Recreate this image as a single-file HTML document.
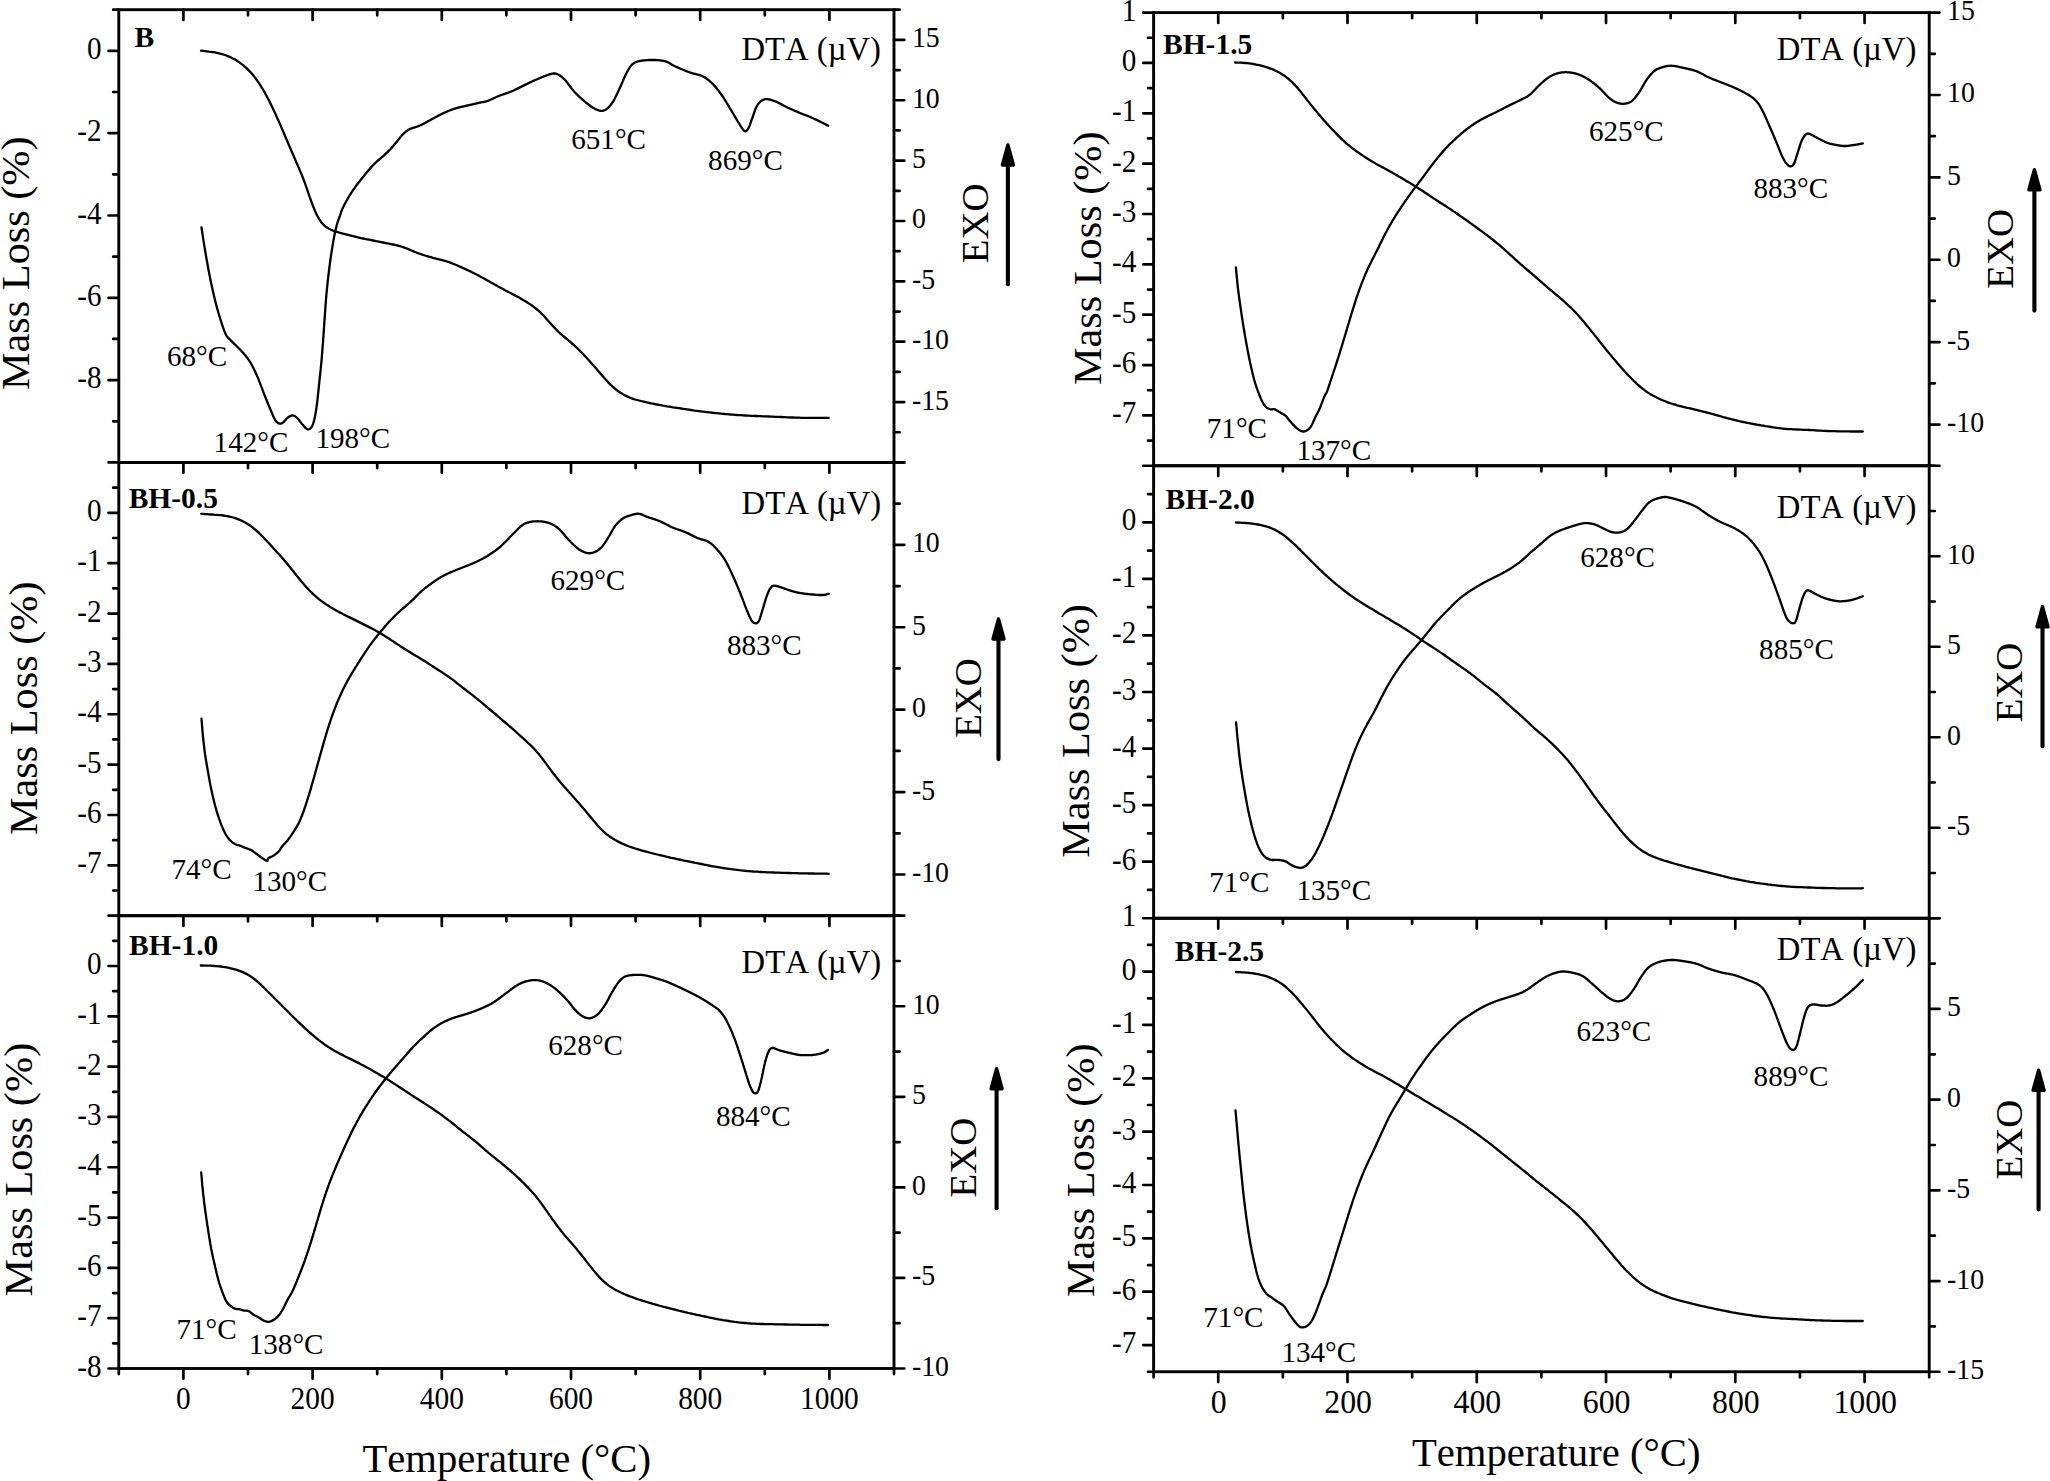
<!DOCTYPE html>
<html lang="en"><head><meta charset="utf-8"><title>TG-DTA curves</title>
<style>html,body{margin:0;padding:0;background:#fff}svg{display:block}text{font-family:"Liberation Serif", "Times New Roman", serif;fill:#000;font-kerning:none}.tk{font-size:31.3px}.an{font-size:30.5px}.bd{font-size:30px;font-weight:bold}.dt{font-size:32.7px}.ax{font-size:40.7px}.ex{font-size:38.8px}.f{stroke:#000;stroke-width:2.9;fill:none;stroke-linecap:butt}.t{stroke:#000;stroke-width:2.6999999999999997;fill:none;stroke-linecap:round}.c{stroke:#000;stroke-width:2.3;fill:none;stroke-linejoin:round;stroke-linecap:round}.ar{stroke:#000;stroke-width:3.6;fill:none}</style></head><body>
<svg width="2050" height="1481" viewBox="0 0 2050 1481">
<rect x="0" y="0" width="2050" height="1481" fill="#fff"/>
<g id="p1">
<rect class="f" x="118.80" y="9.70" width="775.20" height="452.75"/>
<path class="t" d="M183.40,9.70 v10.30 M248.00,9.70 v5.60 M312.60,9.70 v10.30 M377.20,9.70 v5.60 M441.80,9.70 v10.30 M506.40,9.70 v5.60 M571.00,9.70 v10.30 M635.60,9.70 v5.60 M700.20,9.70 v10.30 M764.80,9.70 v5.60 M829.40,9.70 v10.30 M118.80,462.45 h-10.30 M118.80,421.29 h-5.60 M118.80,380.13 h-10.30 M118.80,338.97 h-5.60 M118.80,297.81 h-10.30 M118.80,256.65 h-5.60 M118.80,215.50 h-10.30 M118.80,174.34 h-5.60 M118.80,133.18 h-10.30 M118.80,92.02 h-5.60 M118.80,50.86 h-10.30 M118.80,9.70 h-5.60 M894.00,462.45 h10.30 M894.00,432.27 h5.60 M894.00,402.08 h10.30 M894.00,371.90 h5.60 M894.00,341.72 h10.30 M894.00,311.53 h5.60 M894.00,281.35 h10.30 M894.00,251.17 h5.60 M894.00,220.98 h10.30 M894.00,190.80 h5.60 M894.00,160.62 h10.30 M894.00,130.43 h5.60 M894.00,100.25 h10.30 M894.00,70.07 h5.60 M894.00,39.88 h10.30 M894.00,9.70 h5.60"/>
<text class="tk" text-anchor="end" style="font-size:31px" transform="translate(101.6,58.9) scale(0.940,1)">0</text>
<text class="tk" text-anchor="end" style="font-size:31px" transform="translate(101.6,141.2) scale(0.940,1)">-2</text>
<text class="tk" text-anchor="end" style="font-size:31px" transform="translate(101.6,223.5) scale(0.940,1)">-4</text>
<text class="tk" text-anchor="end" style="font-size:31px" transform="translate(101.6,305.8) scale(0.940,1)">-6</text>
<text class="tk" text-anchor="end" style="font-size:31px" transform="translate(101.6,388.1) scale(0.940,1)">-8</text>
<text class="tk" style="font-size:29.6px" transform="translate(911.9,47.3) scale(0.940,1)">15</text>
<text class="tk" style="font-size:29.6px" transform="translate(911.9,107.7) scale(0.940,1)">10</text>
<text class="tk" style="font-size:29.6px" transform="translate(911.9,168.0) scale(0.940,1)">5</text>
<text class="tk" style="font-size:29.6px" transform="translate(911.9,228.4) scale(0.940,1)">0</text>
<text class="tk" style="font-size:29.6px" transform="translate(911.9,288.7) scale(0.940,1)">-5</text>
<text class="tk" style="font-size:29.6px" transform="translate(911.9,349.1) scale(0.940,1)">-10</text>
<text class="tk" style="font-size:29.6px" transform="translate(911.9,409.5) scale(0.940,1)">-15</text>
<path class="c" d="M201.0,50.7 L203.0,50.9 L205.0,51.1 L207.0,51.3 L209.0,51.6 L211.0,51.8 L213.0,52.1 L215.0,52.4 L217.0,52.8 L219.0,53.3 L221.0,53.8 L223.0,54.4 L225.0,55.0 L227.0,55.8 L229.0,56.6 L231.0,57.5 L233.0,58.5 L235.0,59.6 L237.0,60.8 L239.0,62.1 L241.0,63.6 L243.0,65.1 L245.0,66.8 L247.0,68.6 L249.0,70.6 L251.0,72.7 L253.0,75.1 L255.0,77.6 L257.0,80.3 L259.0,83.2 L261.0,86.3 L263.0,89.5 L265.0,93.0 L267.0,96.7 L269.0,100.6 L271.0,104.6 L273.0,108.7 L275.0,113.0 L277.0,117.4 L279.0,121.9 L281.0,126.4 L283.0,131.1 L285.0,135.8 L287.0,140.5 L289.0,145.2 L291.0,149.9 L293.0,154.5 L295.0,159.1 L297.0,163.7 L299.0,168.4 L301.0,173.1 L303.0,178.0 L305.0,183.4 L307.0,189.1 L309.0,195.0 L311.0,200.7 L313.0,206.0 L315.0,210.9 L317.0,215.2 L319.0,218.9 L321.0,221.9 L323.0,224.2 L325.0,226.1 L327.0,227.6 L329.0,228.8 L331.0,229.8 L333.0,230.6 L335.0,231.3 L337.0,231.9 L339.0,232.5 L341.0,233.1 L343.0,233.7 L345.0,234.2 L347.0,234.7 L349.0,235.2 L351.0,235.7 L353.0,236.2 L355.0,236.7 L357.0,237.2 L359.0,237.6 L361.0,238.1 L363.0,238.5 L365.0,238.9 L367.0,239.3 L369.0,239.7 L371.0,240.1 L373.0,240.5 L375.0,240.9 L377.0,241.3 L379.0,241.7 L381.0,242.1 L383.0,242.5 L385.0,242.9 L387.0,243.3 L389.0,243.7 L391.0,244.1 L393.0,244.5 L395.0,244.9 L397.0,245.4 L399.0,245.9 L401.0,246.5 L403.0,247.1 L405.0,247.8 L407.0,248.6 L409.0,249.4 L411.0,250.2 L413.0,251.1 L415.0,252.0 L417.0,252.8 L419.0,253.5 L421.0,254.2 L423.0,254.8 L425.0,255.5 L427.0,256.1 L429.0,256.7 L431.0,257.2 L433.0,257.8 L435.0,258.3 L437.0,258.8 L439.0,259.3 L441.0,259.8 L443.0,260.3 L445.0,260.9 L447.0,261.5 L449.0,262.2 L451.0,262.9 L453.0,263.7 L455.0,264.5 L457.0,265.3 L459.0,266.2 L461.0,267.1 L463.0,268.0 L465.0,268.9 L467.0,269.9 L469.0,270.8 L471.0,271.8 L473.0,272.8 L475.0,273.8 L477.0,274.8 L479.0,275.8 L481.0,276.9 L483.0,278.0 L485.0,279.1 L487.0,280.2 L489.0,281.3 L491.0,282.5 L493.0,283.6 L495.0,284.7 L497.0,285.8 L499.0,286.9 L501.0,288.0 L503.0,289.1 L505.0,290.2 L507.0,291.2 L509.0,292.3 L511.0,293.3 L513.0,294.4 L515.0,295.4 L517.0,296.5 L519.0,297.6 L521.0,298.7 L523.0,299.9 L525.0,301.0 L527.0,302.3 L529.0,303.6 L531.0,304.9 L533.0,306.3 L535.0,307.8 L537.0,309.5 L539.0,311.2 L541.0,313.1 L543.0,315.1 L545.0,317.3 L547.0,319.5 L549.0,321.7 L551.0,324.0 L553.0,326.2 L555.0,328.3 L557.0,330.4 L559.0,332.3 L561.0,334.1 L563.0,335.9 L565.0,337.5 L567.0,339.2 L569.0,340.9 L571.0,342.5 L573.0,344.3 L575.0,346.1 L577.0,348.0 L579.0,349.9 L581.0,351.9 L583.0,354.0 L585.0,356.1 L587.0,358.3 L589.0,360.5 L591.0,362.7 L593.0,364.9 L595.0,367.2 L597.0,369.5 L599.0,371.9 L601.0,374.2 L603.0,376.5 L605.0,378.8 L607.0,381.0 L609.0,383.1 L611.0,385.1 L613.0,387.0 L615.0,388.7 L617.0,390.3 L619.0,391.8 L621.0,393.1 L623.0,394.3 L625.0,395.4 L627.0,396.4 L629.0,397.3 L631.0,398.2 L633.0,398.9 L635.0,399.5 L637.0,400.0 L639.0,400.5 L641.0,401.0 L643.0,401.5 L645.0,401.9 L647.0,402.4 L649.0,402.8 L651.0,403.3 L653.0,403.7 L655.0,404.1 L657.0,404.5 L659.0,404.9 L661.0,405.2 L663.0,405.6 L665.0,405.9 L667.0,406.3 L669.0,406.6 L671.0,406.9 L673.0,407.3 L675.0,407.6 L677.0,407.9 L679.0,408.2 L681.0,408.5 L683.0,408.8 L685.0,409.1 L687.0,409.4 L689.0,409.7 L691.0,410.0 L693.0,410.3 L695.0,410.6 L697.0,410.8 L699.0,411.1 L701.0,411.4 L703.0,411.6 L705.0,411.9 L707.0,412.1 L709.0,412.3 L711.0,412.5 L713.0,412.8 L715.0,413.0 L717.0,413.2 L719.0,413.4 L721.0,413.6 L723.0,413.8 L725.0,414.0 L727.0,414.1 L729.0,414.3 L731.0,414.5 L733.0,414.6 L735.0,414.8 L737.0,415.0 L739.0,415.1 L741.0,415.2 L743.0,415.4 L745.0,415.5 L747.0,415.6 L749.0,415.7 L751.0,415.8 L753.0,415.9 L755.0,416.0 L757.0,416.0 L759.0,416.1 L761.0,416.2 L763.0,416.3 L765.0,416.4 L767.0,416.4 L769.0,416.5 L771.0,416.6 L773.0,416.7 L775.0,416.8 L777.0,416.8 L779.0,416.9 L781.0,417.0 L783.0,417.1 L785.0,417.2 L787.0,417.3 L789.0,417.4 L791.0,417.5 L793.0,417.5 L795.0,417.6 L797.0,417.7 L799.0,417.7 L801.0,417.8 L803.0,417.8 L805.0,417.8 L807.0,417.8 L809.0,417.8 L811.0,417.8 L813.0,417.8 L815.0,417.8 L817.0,417.8 L819.0,417.8 L821.0,417.8 L823.0,417.8 L825.0,417.8 L827.0,417.8 L828.8,417.8 L828.8,417.8"/>
<path class="c" d="M201.5,227.5 L202.0,230.8 L202.5,234.1 L203.0,237.4 L203.5,240.7 L204.0,243.9 L204.5,247.0 L205.0,250.0 L205.5,252.9 L206.0,255.8 L206.5,258.7 L207.0,261.5 L207.5,264.3 L208.0,267.0 L208.5,269.7 L209.0,272.4 L209.5,275.0 L210.0,277.5 L210.5,280.0 L211.0,282.4 L211.5,284.8 L212.0,287.1 L212.5,289.3 L213.0,291.6 L213.5,293.7 L214.0,295.9 L214.5,298.0 L215.0,300.0 L215.5,302.0 L216.0,304.0 L216.5,305.9 L217.0,307.7 L217.5,309.5 L218.0,311.3 L218.5,313.0 L219.0,314.7 L219.5,316.4 L220.0,318.0 L220.5,319.6 L221.0,321.2 L221.5,322.8 L222.0,324.3 L222.5,325.8 L223.0,327.3 L223.5,328.7 L224.0,330.1 L224.5,331.4 L225.0,332.6 L225.5,333.8 L226.0,334.8 L226.5,335.8 L227.0,336.5 L227.5,337.1 L228.0,337.6 L228.5,338.1 L229.0,338.6 L229.5,339.1 L230.0,339.6 L230.5,340.1 L231.0,340.6 L231.5,341.1 L232.0,341.6 L232.5,342.1 L233.0,342.6 L233.5,343.1 L234.0,343.6 L234.5,344.1 L235.0,344.6 L235.5,345.0 L236.0,345.5 L236.5,346.0 L237.0,346.5 L237.5,347.0 L238.0,347.5 L238.5,348.0 L239.0,348.5 L239.5,349.0 L240.0,349.5 L240.5,350.0 L241.0,350.5 L241.5,351.1 L242.0,351.6 L242.5,352.2 L243.0,352.7 L243.5,353.3 L244.0,353.9 L244.5,354.5 L245.0,355.0 L245.5,355.6 L246.0,356.3 L246.5,356.9 L247.0,357.5 L247.5,358.2 L248.0,358.9 L248.5,359.6 L249.0,360.3 L249.5,361.1 L250.0,361.9 L250.5,362.7 L251.0,363.5 L251.5,364.4 L252.0,365.3 L252.5,366.2 L253.0,367.2 L253.5,368.1 L254.0,369.2 L254.5,370.2 L255.0,371.3 L255.5,372.4 L256.0,373.5 L256.5,374.6 L257.0,375.7 L257.5,376.9 L258.0,378.1 L258.5,379.3 L259.0,380.6 L259.5,381.9 L260.0,383.1 L260.5,384.4 L261.0,385.8 L261.5,387.1 L262.0,388.4 L262.5,389.7 L263.0,391.1 L263.5,392.4 L264.0,393.7 L264.5,395.0 L265.0,396.3 L265.5,397.5 L266.0,398.8 L266.5,400.0 L267.0,401.3 L267.5,402.5 L268.0,403.7 L268.5,404.9 L269.0,406.1 L269.5,407.3 L270.0,408.5 L270.5,409.7 L271.0,410.8 L271.5,412.0 L272.0,413.2 L272.5,414.4 L273.0,415.5 L273.5,416.7 L274.0,417.8 L274.5,418.7 L275.0,419.6 L275.5,420.4 L276.0,421.1 L276.5,421.6 L277.0,422.1 L277.5,422.6 L278.0,422.9 L278.5,423.2 L279.0,423.5 L279.5,423.6 L280.0,423.7 L280.5,423.7 L281.0,423.6 L281.5,423.4 L282.0,423.2 L282.5,422.8 L283.0,422.5 L283.5,422.1 L284.0,421.6 L284.5,421.1 L285.0,420.5 L285.5,419.9 L286.0,419.4 L286.5,418.8 L287.0,418.3 L287.5,417.9 L288.0,417.5 L288.5,417.1 L289.0,416.8 L289.5,416.4 L290.0,416.1 L290.5,415.9 L291.0,415.7 L291.5,415.5 L292.0,415.4 L292.5,415.4 L293.0,415.5 L293.5,415.6 L294.0,415.8 L294.5,416.0 L295.0,416.3 L295.5,416.6 L296.0,417.0 L296.5,417.4 L297.0,417.8 L297.5,418.3 L298.0,418.8 L298.5,419.4 L299.0,420.1 L299.5,420.7 L300.0,421.4 L300.5,422.1 L301.0,422.7 L301.5,423.4 L302.0,424.0 L302.5,424.5 L303.0,425.1 L303.5,425.7 L304.0,426.3 L304.5,426.9 L305.0,427.4 L305.5,427.9 L306.0,428.4 L306.5,428.8 L307.0,429.1 L307.5,429.3 L308.0,429.4 L308.5,429.4 L309.0,429.2 L309.5,429.0 L310.0,428.7 L310.5,428.3 L311.0,427.8 L311.5,427.2 L312.0,426.4 L312.5,425.4 L313.0,424.1 L313.5,422.7 L314.0,420.9 L314.5,418.8 L315.0,416.5 L315.5,413.7 L316.0,410.7 L316.5,407.3 L317.0,403.5 L317.5,399.3 L318.0,394.7 L318.5,389.9 L319.0,385.1 L319.5,380.4 L320.0,375.7 L320.5,371.0 L321.0,366.1 L321.5,360.9 L322.0,355.1 L322.5,348.7 L323.0,341.8 L323.5,334.8 L324.0,327.6 L324.5,320.3 L325.0,313.2 L325.5,306.0 L326.0,299.4 L326.5,293.6 L327.0,288.4 L327.5,283.6 L328.0,279.0 L328.5,274.7 L329.0,270.6 L329.5,266.6 L330.0,262.8 L330.5,259.1 L331.0,255.7 L331.5,252.4 L332.0,249.2 L332.5,246.1 L333.0,243.1 L333.5,240.3 L334.0,237.5 L334.5,235.0 L335.0,232.6 L335.5,230.3 L336.0,228.2 L336.5,226.1 L337.0,224.3 L337.5,222.6 L338.0,221.0 L338.5,219.6 L339.0,218.3 L339.5,216.9 L340.0,215.6 L340.5,214.1 L341.0,212.3 L341.5,211.0 L342.0,209.8 L342.5,208.6 L343.0,207.5 L343.5,206.5 L344.0,205.4 L344.5,204.5 L345.0,203.5 L345.5,202.6 L346.0,201.7 L346.5,200.8 L347.0,200.0 L347.5,199.1 L348.0,198.2 L348.5,197.4 L349.0,196.5 L349.5,195.7 L350.0,194.9 L350.5,194.1 L351.0,193.3 L351.5,192.5 L352.0,191.7 L352.5,191.0 L353.0,190.2 L353.5,189.5 L354.0,188.8 L354.5,188.1 L355.0,187.4 L355.5,186.7 L356.0,186.0 L356.5,185.3 L357.0,184.7 L357.5,184.0 L358.0,183.4 L358.5,182.7 L359.0,182.1 L359.5,181.5 L360.0,180.8 L360.5,180.2 L361.0,179.6 L361.5,179.0 L362.0,178.3 L362.5,177.7 L363.0,177.1 L363.5,176.5 L364.0,175.8 L364.5,175.2 L365.0,174.6 L365.5,174.0 L366.0,173.4 L366.5,172.8 L367.0,172.1 L367.5,171.5 L368.0,170.9 L368.5,170.3 L369.0,169.7 L369.5,169.2 L370.0,168.6 L370.5,168.0 L371.0,167.4 L371.5,166.9 L372.0,166.3 L372.5,165.8 L373.0,165.3 L373.5,164.7 L374.0,164.2 L374.5,163.7 L375.0,163.2 L375.5,162.8 L376.0,162.3 L376.5,161.8 L377.0,161.4 L377.5,160.9 L378.0,160.5 L378.5,160.1 L379.0,159.6 L379.5,159.2 L380.0,158.8 L380.5,158.4 L381.0,158.0 L381.5,157.5 L382.0,157.1 L382.5,156.7 L383.0,156.2 L383.5,155.8 L384.0,155.4 L384.5,154.9 L385.0,154.4 L385.5,154.0 L386.0,153.5 L386.5,153.0 L387.0,152.5 L387.5,152.1 L388.0,151.6 L388.5,151.1 L389.0,150.5 L389.5,150.0 L390.0,149.5 L390.5,149.0 L391.0,148.4 L391.5,147.9 L392.0,147.4 L392.5,146.8 L393.0,146.2 L393.5,145.7 L394.0,145.1 L394.5,144.5 L395.0,143.9 L395.5,143.3 L396.0,142.7 L396.5,142.1 L397.0,141.5 L397.5,140.8 L398.0,140.2 L398.5,139.6 L399.0,139.0 L399.5,138.3 L400.0,137.7 L400.5,137.1 L401.0,136.5 L401.5,135.9 L402.0,135.4 L402.5,134.8 L403.0,134.3 L403.5,133.8 L404.0,133.3 L404.5,132.8 L405.0,132.3 L405.5,131.9 L406.0,131.5 L406.5,131.1 L407.0,130.8 L407.5,130.4 L408.0,130.1 L408.5,129.8 L409.0,129.5 L409.5,129.3 L410.0,129.0 L410.5,128.8 L411.0,128.6 L411.5,128.4 L412.0,128.2 L412.5,128.1 L413.0,127.9 L413.5,127.7 L414.0,127.6 L414.5,127.5 L415.0,127.3 L415.5,127.2 L416.0,127.0 L416.5,126.8 L417.0,126.7 L417.5,126.5 L418.0,126.3 L418.5,126.1 L419.0,125.9 L419.5,125.7 L420.0,125.5 L420.5,125.3 L421.0,125.0 L421.5,124.8 L422.0,124.6 L422.5,124.3 L423.0,124.0 L423.5,123.8 L424.0,123.5 L424.5,123.2 L425.0,123.0 L425.5,122.7 L426.0,122.4 L426.5,122.1 L427.0,121.9 L427.5,121.6 L428.0,121.3 L428.5,121.0 L429.0,120.8 L429.5,120.5 L430.0,120.2 L430.5,119.9 L431.0,119.7 L431.5,119.4 L432.0,119.1 L432.5,118.8 L433.0,118.6 L433.5,118.3 L434.0,118.0 L434.5,117.8 L435.0,117.5 L435.5,117.2 L436.0,116.9 L436.5,116.7 L437.0,116.4 L437.5,116.1 L438.0,115.9 L438.5,115.6 L439.0,115.4 L439.5,115.1 L440.0,114.8 L440.5,114.6 L441.0,114.3 L441.5,114.1 L442.0,113.8 L442.5,113.6 L443.0,113.4 L443.5,113.1 L444.0,112.9 L444.5,112.7 L445.0,112.4 L445.5,112.2 L446.0,112.0 L446.5,111.8 L447.0,111.6 L447.5,111.3 L448.0,111.1 L448.5,110.9 L449.0,110.7 L449.5,110.5 L450.0,110.3 L450.5,110.1 L451.0,109.9 L451.5,109.7 L452.0,109.6 L452.5,109.4 L453.0,109.2 L453.5,109.0 L454.0,108.9 L454.5,108.7 L455.0,108.5 L455.5,108.4 L456.0,108.2 L456.5,108.1 L457.0,107.9 L457.5,107.8 L458.0,107.7 L458.5,107.5 L459.0,107.4 L459.5,107.3 L460.0,107.1 L460.5,107.0 L461.0,106.9 L461.5,106.8 L462.0,106.7 L462.5,106.6 L463.0,106.5 L463.5,106.4 L464.0,106.3 L464.5,106.1 L465.0,106.0 L465.5,105.9 L466.0,105.8 L466.5,105.7 L467.0,105.6 L467.5,105.5 L468.0,105.4 L468.5,105.3 L469.0,105.2 L469.5,105.1 L470.0,104.9 L470.5,104.8 L471.0,104.7 L471.5,104.6 L472.0,104.5 L472.5,104.4 L473.0,104.2 L473.5,104.1 L474.0,104.0 L474.5,103.9 L475.0,103.8 L475.5,103.7 L476.0,103.5 L476.5,103.4 L477.0,103.3 L477.5,103.2 L478.0,103.1 L478.5,103.0 L479.0,102.8 L479.5,102.7 L480.0,102.6 L480.5,102.5 L481.0,102.4 L481.5,102.3 L482.0,102.2 L482.5,102.1 L483.0,102.1 L483.5,102.0 L484.0,101.9 L484.5,101.8 L485.0,101.7 L485.5,101.6 L486.0,101.5 L486.5,101.3 L487.0,101.2 L487.5,101.0 L488.0,100.8 L488.5,100.6 L489.0,100.4 L489.5,100.2 L490.0,100.0 L490.5,99.8 L491.0,99.6 L491.5,99.3 L492.0,99.1 L492.5,98.9 L493.0,98.6 L493.5,98.4 L494.0,98.2 L494.5,97.9 L495.0,97.7 L495.5,97.5 L496.0,97.2 L496.5,97.0 L497.0,96.8 L497.5,96.6 L498.0,96.3 L498.5,96.1 L499.0,95.9 L499.5,95.7 L500.0,95.5 L500.5,95.3 L501.0,95.1 L501.5,94.9 L502.0,94.8 L502.5,94.6 L503.0,94.4 L503.5,94.2 L504.0,94.1 L504.5,93.9 L505.0,93.8 L505.5,93.6 L506.0,93.4 L506.5,93.3 L507.0,93.1 L507.5,92.9 L508.0,92.8 L508.5,92.6 L509.0,92.4 L509.5,92.2 L510.0,92.0 L510.5,91.8 L511.0,91.6 L511.5,91.4 L512.0,91.2 L512.5,91.0 L513.0,90.8 L513.5,90.5 L514.0,90.3 L514.5,90.1 L515.0,89.8 L515.5,89.6 L516.0,89.4 L516.5,89.1 L517.0,88.9 L517.5,88.6 L518.0,88.4 L518.5,88.1 L519.0,87.9 L519.5,87.6 L520.0,87.4 L520.5,87.1 L521.0,86.9 L521.5,86.6 L522.0,86.4 L522.5,86.1 L523.0,85.9 L523.5,85.6 L524.0,85.4 L524.5,85.1 L525.0,84.9 L525.5,84.6 L526.0,84.4 L526.5,84.1 L527.0,83.9 L527.5,83.6 L528.0,83.4 L528.5,83.1 L529.0,82.9 L529.5,82.6 L530.0,82.4 L530.5,82.2 L531.0,81.9 L531.5,81.7 L532.0,81.5 L532.5,81.2 L533.0,81.0 L533.5,80.8 L534.0,80.6 L534.5,80.4 L535.0,80.1 L535.5,79.9 L536.0,79.7 L536.5,79.5 L537.0,79.3 L537.5,79.1 L538.0,78.8 L538.5,78.6 L539.0,78.4 L539.5,78.2 L540.0,78.0 L540.5,77.8 L541.0,77.6 L541.5,77.4 L542.0,77.2 L542.5,77.0 L543.0,76.8 L543.5,76.5 L544.0,76.4 L544.5,76.2 L545.0,76.0 L545.5,75.8 L546.0,75.6 L546.5,75.4 L547.0,75.2 L547.5,75.0 L548.0,74.9 L548.5,74.7 L549.0,74.5 L549.5,74.4 L550.0,74.2 L550.5,74.1 L551.0,74.0 L551.5,73.9 L552.0,73.7 L552.5,73.6 L553.0,73.6 L553.5,73.5 L554.0,73.5 L554.5,73.5 L555.0,73.5 L555.5,73.6 L556.0,73.7 L556.5,73.9 L557.0,74.1 L557.5,74.2 L558.0,74.5 L558.5,74.7 L559.0,75.0 L559.5,75.2 L560.0,75.6 L560.5,75.9 L561.0,76.3 L561.5,76.7 L562.0,77.1 L562.5,77.5 L563.0,78.0 L563.5,78.5 L564.0,79.0 L564.5,79.5 L565.0,80.0 L565.5,80.5 L566.0,81.1 L566.5,81.7 L567.0,82.3 L567.5,83.0 L568.0,83.6 L568.5,84.3 L569.0,85.0 L569.5,85.7 L570.0,86.3 L570.5,87.0 L571.0,87.7 L571.5,88.3 L572.0,89.0 L572.5,89.6 L573.0,90.2 L573.5,90.8 L574.0,91.4 L574.5,92.0 L575.0,92.5 L575.5,93.0 L576.0,93.5 L576.5,94.0 L577.0,94.5 L577.5,95.0 L578.0,95.5 L578.5,96.0 L579.0,96.5 L579.5,96.9 L580.0,97.4 L580.5,97.8 L581.0,98.3 L581.5,98.7 L582.0,99.2 L582.5,99.6 L583.0,100.0 L583.5,100.5 L584.0,100.9 L584.5,101.3 L585.0,101.7 L585.5,102.2 L586.0,102.6 L586.5,103.0 L587.0,103.4 L587.5,103.8 L588.0,104.1 L588.5,104.5 L589.0,104.9 L589.5,105.3 L590.0,105.6 L590.5,106.0 L591.0,106.4 L591.5,106.7 L592.0,107.0 L592.5,107.4 L593.0,107.7 L593.5,108.0 L594.0,108.3 L594.5,108.6 L595.0,108.9 L595.5,109.1 L596.0,109.4 L596.5,109.6 L597.0,109.8 L597.5,110.0 L598.0,110.2 L598.5,110.3 L599.0,110.5 L599.5,110.6 L600.0,110.7 L600.5,110.8 L601.0,110.8 L601.5,110.9 L602.0,110.8 L602.5,110.8 L603.0,110.7 L603.5,110.6 L604.0,110.4 L604.5,110.2 L605.0,110.0 L605.5,109.7 L606.0,109.4 L606.5,109.1 L607.0,108.7 L607.5,108.3 L608.0,107.9 L608.5,107.4 L609.0,106.9 L609.5,106.4 L610.0,105.8 L610.5,105.2 L611.0,104.6 L611.5,103.9 L612.0,103.2 L612.5,102.5 L613.0,101.7 L613.5,100.9 L614.0,100.0 L614.5,99.1 L615.0,98.1 L615.5,97.1 L616.0,96.1 L616.5,95.0 L617.0,93.9 L617.5,92.9 L618.0,91.8 L618.5,90.7 L619.0,89.6 L619.5,88.6 L620.0,87.5 L620.5,86.4 L621.0,85.3 L621.5,84.2 L622.0,83.1 L622.5,81.9 L623.0,80.7 L623.5,79.6 L624.0,78.4 L624.5,77.3 L625.0,76.2 L625.5,75.1 L626.0,74.0 L626.5,73.1 L627.0,72.1 L627.5,71.2 L628.0,70.4 L628.5,69.6 L629.0,68.7 L629.5,67.9 L630.0,67.1 L630.5,66.4 L631.0,65.7 L631.5,65.2 L632.0,64.6 L632.5,64.2 L633.0,63.8 L633.5,63.4 L634.0,63.1 L634.5,62.8 L635.0,62.5 L635.5,62.3 L636.0,62.1 L636.5,61.9 L637.0,61.7 L637.5,61.6 L638.0,61.4 L638.5,61.3 L639.0,61.2 L639.5,61.1 L640.0,61.0 L640.5,60.9 L641.0,60.8 L641.5,60.7 L642.0,60.6 L642.5,60.6 L643.0,60.5 L643.5,60.4 L644.0,60.4 L644.5,60.3 L645.0,60.3 L645.5,60.3 L646.0,60.2 L646.5,60.2 L647.0,60.2 L647.5,60.1 L648.0,60.1 L648.5,60.1 L649.0,60.0 L649.5,60.0 L650.0,60.0 L650.5,60.0 L651.0,60.0 L651.5,60.0 L652.0,60.0 L652.5,59.9 L653.0,60.0 L653.5,60.0 L654.0,60.0 L654.5,60.0 L655.0,60.0 L655.5,60.0 L656.0,60.0 L656.5,60.1 L657.0,60.1 L657.5,60.1 L658.0,60.2 L658.5,60.2 L659.0,60.3 L659.5,60.3 L660.0,60.4 L660.5,60.4 L661.0,60.5 L661.5,60.6 L662.0,60.7 L662.5,60.7 L663.0,60.8 L663.5,60.9 L664.0,61.0 L664.5,61.1 L665.0,61.2 L665.5,61.4 L666.0,61.5 L666.5,61.7 L667.0,61.9 L667.5,62.1 L668.0,62.3 L668.5,62.6 L669.0,62.9 L669.5,63.1 L670.0,63.4 L670.5,63.7 L671.0,64.1 L671.5,64.4 L672.0,64.7 L672.5,65.0 L673.0,65.2 L673.5,65.5 L674.0,65.8 L674.5,66.0 L675.0,66.2 L675.5,66.5 L676.0,66.7 L676.5,66.9 L677.0,67.1 L677.5,67.4 L678.0,67.6 L678.5,67.8 L679.0,68.0 L679.5,68.2 L680.0,68.5 L680.5,68.7 L681.0,68.9 L681.5,69.1 L682.0,69.3 L682.5,69.5 L683.0,69.7 L683.5,69.9 L684.0,70.1 L684.5,70.3 L685.0,70.6 L685.5,70.8 L686.0,71.0 L686.5,71.2 L687.0,71.4 L687.5,71.6 L688.0,71.7 L688.5,71.9 L689.0,72.1 L689.5,72.3 L690.0,72.5 L690.5,72.7 L691.0,72.8 L691.5,73.0 L692.0,73.1 L692.5,73.3 L693.0,73.4 L693.5,73.6 L694.0,73.7 L694.5,73.8 L695.0,73.9 L695.5,74.0 L696.0,74.2 L696.5,74.3 L697.0,74.4 L697.5,74.5 L698.0,74.7 L698.5,74.8 L699.0,74.9 L699.5,75.1 L700.0,75.2 L700.5,75.4 L701.0,75.6 L701.5,75.8 L702.0,76.0 L702.5,76.2 L703.0,76.5 L703.5,76.8 L704.0,77.1 L704.5,77.3 L705.0,77.6 L705.5,78.0 L706.0,78.3 L706.5,78.6 L707.0,79.0 L707.5,79.3 L708.0,79.7 L708.5,80.1 L709.0,80.5 L709.5,81.0 L710.0,81.4 L710.5,81.8 L711.0,82.3 L711.5,82.8 L712.0,83.3 L712.5,83.8 L713.0,84.3 L713.5,84.8 L714.0,85.3 L714.5,85.9 L715.0,86.4 L715.5,87.0 L716.0,87.6 L716.5,88.2 L717.0,88.8 L717.5,89.5 L718.0,90.1 L718.5,90.7 L719.0,91.4 L719.5,92.1 L720.0,92.7 L720.5,93.4 L721.0,94.1 L721.5,94.8 L722.0,95.5 L722.5,96.2 L723.0,97.0 L723.5,97.7 L724.0,98.5 L724.5,99.3 L725.0,100.0 L725.5,100.8 L726.0,101.6 L726.5,102.5 L727.0,103.3 L727.5,104.1 L728.0,105.0 L728.5,105.8 L729.0,106.6 L729.5,107.5 L730.0,108.3 L730.5,109.2 L731.0,110.0 L731.5,110.8 L732.0,111.7 L732.5,112.5 L733.0,113.3 L733.5,114.2 L734.0,115.0 L734.5,115.8 L735.0,116.7 L735.5,117.6 L736.0,118.4 L736.5,119.3 L737.0,120.1 L737.5,121.0 L738.0,121.8 L738.5,122.6 L739.0,123.4 L739.5,124.2 L740.0,125.0 L740.5,125.8 L741.0,126.5 L741.5,127.3 L742.0,128.1 L742.5,128.8 L743.0,129.5 L743.5,130.1 L744.0,130.6 L744.5,131.0 L745.0,131.2 L745.5,131.3 L746.0,131.2 L746.5,130.8 L747.0,130.3 L747.5,129.7 L748.0,128.8 L748.5,128.0 L749.0,127.0 L749.5,125.9 L750.0,124.6 L750.5,123.2 L751.0,121.7 L751.5,120.2 L752.0,118.8 L752.5,117.5 L753.0,116.1 L753.5,114.7 L754.0,113.2 L754.5,111.7 L755.0,110.3 L755.5,109.0 L756.0,107.8 L756.5,106.7 L757.0,105.8 L757.5,105.0 L758.0,104.3 L758.5,103.7 L759.0,103.1 L759.5,102.5 L760.0,102.0 L760.5,101.6 L761.0,101.2 L761.5,100.8 L762.0,100.5 L762.5,100.2 L763.0,99.9 L763.5,99.7 L764.0,99.5 L764.5,99.4 L765.0,99.2 L765.5,99.2 L766.0,99.1 L766.5,99.1 L767.0,99.1 L767.5,99.1 L768.0,99.2 L768.5,99.3 L769.0,99.3 L769.5,99.5 L770.0,99.6 L770.5,99.7 L771.0,99.9 L771.5,100.0 L772.0,100.2 L772.5,100.4 L773.0,100.5 L773.5,100.7 L774.0,100.9 L774.5,101.1 L775.0,101.2 L775.5,101.4 L776.0,101.6 L776.5,101.9 L777.0,102.1 L777.5,102.3 L778.0,102.6 L778.5,102.8 L779.0,103.1 L779.5,103.3 L780.0,103.6 L780.5,103.8 L781.0,104.1 L781.5,104.4 L782.0,104.6 L782.5,104.9 L783.0,105.2 L783.5,105.5 L784.0,105.7 L784.5,106.0 L785.0,106.2 L785.5,106.5 L786.0,106.8 L786.5,107.0 L787.0,107.3 L787.5,107.5 L788.0,107.7 L788.5,108.0 L789.0,108.2 L789.5,108.4 L790.0,108.7 L790.5,108.9 L791.0,109.1 L791.5,109.3 L792.0,109.6 L792.5,109.8 L793.0,110.0 L793.5,110.2 L794.0,110.4 L794.5,110.7 L795.0,110.9 L795.5,111.1 L796.0,111.3 L796.5,111.5 L797.0,111.7 L797.5,111.9 L798.0,112.2 L798.5,112.4 L799.0,112.6 L799.5,112.8 L800.0,113.0 L800.5,113.2 L801.0,113.4 L801.5,113.6 L802.0,113.8 L802.5,114.0 L803.0,114.2 L803.5,114.4 L804.0,114.6 L804.5,114.8 L805.0,115.0 L805.5,115.2 L806.0,115.3 L806.5,115.5 L807.0,115.7 L807.5,115.9 L808.0,116.1 L808.5,116.3 L809.0,116.5 L809.5,116.7 L810.0,116.9 L810.5,117.1 L811.0,117.3 L811.5,117.6 L812.0,117.8 L812.5,118.0 L813.0,118.2 L813.5,118.5 L814.0,118.7 L814.5,118.9 L815.0,119.2 L815.5,119.4 L816.0,119.6 L816.5,119.9 L817.0,120.1 L817.5,120.4 L818.0,120.6 L818.5,120.9 L819.0,121.1 L819.5,121.4 L820.0,121.6 L820.5,121.8 L821.0,122.1 L821.5,122.3 L822.0,122.6 L822.5,122.8 L823.0,123.1 L823.5,123.3 L824.0,123.6 L824.5,123.8 L825.0,124.1 L825.5,124.4 L826.0,124.6 L826.5,124.9 L827.0,125.1 L827.5,125.4 L828.0,125.6 L828.2,125.7"/>
<text class="bd" transform="translate(134.5,47.0) scale(0.983,1)">B</text>
<text class="dt" transform="translate(741.4,59.9)">DTA (µV)</text>
<text class="an" transform="translate(166.9,366.0) scale(0.955,1)">68°C</text>
<text class="an" transform="translate(213.6,452.3) scale(0.955,1)">142°C</text>
<text class="an" transform="translate(315.4,447.6) scale(0.955,1)">198°C</text>
<text class="an" transform="translate(571.2,148.8) scale(0.955,1)">651°C</text>
<text class="an" transform="translate(708.1,170.0) scale(0.955,1)">869°C</text>
<text class="ex" text-anchor="middle" transform="translate(988.3,223.3) scale(0.965,1) rotate(-90)">EXO</text>
<path d="M1007.9,284.3 V163.0" stroke="#000" stroke-width="4.1" stroke-linecap="round" fill="none"/>
<path d="M1007.9,144.9 L1013.4,165.0 L1002.4,165.0 Z" fill="#000" stroke="#000" stroke-width="3.4" stroke-linejoin="round"/>
<text class="ax" text-anchor="middle" style="font-size:42.3px" transform="translate(29.3,263.2) scale(0.965,1) rotate(-90)">Mass Loss (%)</text>
</g>
<g id="p2">
<rect class="f" x="118.80" y="462.45" width="775.20" height="453.25"/>
<path class="t" d="M183.40,462.45 v10.30 M248.00,462.45 v5.60 M312.60,462.45 v10.30 M377.20,462.45 v5.60 M441.80,462.45 v10.30 M506.40,462.45 v5.60 M571.00,462.45 v10.30 M635.60,462.45 v5.60 M700.20,462.45 v10.30 M764.80,462.45 v5.60 M829.40,462.45 v10.30 M118.80,915.70 h-10.30 M118.80,890.52 h-5.60 M118.80,865.34 h-10.30 M118.80,840.16 h-5.60 M118.80,814.98 h-10.30 M118.80,789.80 h-5.60 M118.80,764.62 h-10.30 M118.80,739.44 h-5.60 M118.80,714.26 h-10.30 M118.80,689.08 h-5.60 M118.80,663.89 h-10.30 M118.80,638.71 h-5.60 M118.80,613.53 h-10.30 M118.80,588.35 h-5.60 M118.80,563.17 h-10.30 M118.80,537.99 h-5.60 M118.80,512.81 h-10.30 M118.80,487.63 h-5.60 M894.00,915.70 h5.60 M894.00,874.50 h10.30 M894.00,833.29 h5.60 M894.00,792.09 h10.30 M894.00,750.88 h5.60 M894.00,709.68 h10.30 M894.00,668.47 h5.60 M894.00,627.27 h10.30 M894.00,586.06 h5.60 M894.00,544.86 h10.30 M894.00,503.65 h5.60 M894.00,462.45 h10.30"/>
<text class="tk" text-anchor="end" style="font-size:31px" transform="translate(101.6,520.8) scale(0.940,1)">0</text>
<text class="tk" text-anchor="end" style="font-size:31px" transform="translate(101.6,571.2) scale(0.940,1)">-1</text>
<text class="tk" text-anchor="end" style="font-size:31px" transform="translate(101.6,621.5) scale(0.940,1)">-2</text>
<text class="tk" text-anchor="end" style="font-size:31px" transform="translate(101.6,671.9) scale(0.940,1)">-3</text>
<text class="tk" text-anchor="end" style="font-size:31px" transform="translate(101.6,722.3) scale(0.940,1)">-4</text>
<text class="tk" text-anchor="end" style="font-size:31px" transform="translate(101.6,772.6) scale(0.940,1)">-5</text>
<text class="tk" text-anchor="end" style="font-size:31px" transform="translate(101.6,823.0) scale(0.940,1)">-6</text>
<text class="tk" text-anchor="end" style="font-size:31px" transform="translate(101.6,873.3) scale(0.940,1)">-7</text>
<text class="tk" style="font-size:29.6px" transform="translate(911.9,552.3) scale(0.940,1)">10</text>
<text class="tk" style="font-size:29.6px" transform="translate(911.9,634.7) scale(0.940,1)">5</text>
<text class="tk" style="font-size:29.6px" transform="translate(911.9,717.1) scale(0.940,1)">0</text>
<text class="tk" style="font-size:29.6px" transform="translate(911.9,799.5) scale(0.940,1)">-5</text>
<text class="tk" style="font-size:29.6px" transform="translate(911.9,881.9) scale(0.940,1)">-10</text>
<path class="c" d="M201.2,513.8 L203.2,513.9 L205.2,514.1 L207.2,514.2 L209.2,514.4 L211.2,514.5 L213.2,514.6 L215.2,514.8 L217.2,514.9 L219.2,515.1 L221.2,515.2 L223.2,515.5 L225.2,515.8 L227.2,516.1 L229.2,516.5 L231.2,517.0 L233.2,517.5 L235.2,518.2 L237.2,518.9 L239.2,519.6 L241.2,520.5 L243.2,521.5 L245.2,522.5 L247.2,523.7 L249.2,525.0 L251.2,526.4 L253.2,527.9 L255.2,529.6 L257.2,531.4 L259.2,533.2 L261.2,535.2 L263.2,537.2 L265.2,539.3 L267.2,541.4 L269.2,543.6 L271.2,545.8 L273.2,548.0 L275.2,550.2 L277.2,552.4 L279.2,554.6 L281.2,556.8 L283.2,559.1 L285.2,561.4 L287.2,563.8 L289.2,566.2 L291.2,568.7 L293.2,571.2 L295.2,573.8 L297.2,576.3 L299.2,578.8 L301.2,581.3 L303.2,583.6 L305.2,585.9 L307.2,588.1 L309.2,590.2 L311.2,592.2 L313.2,594.1 L315.2,595.9 L317.2,597.6 L319.2,599.3 L321.2,600.8 L323.2,602.3 L325.2,603.7 L327.2,605.1 L329.2,606.3 L331.2,607.6 L333.2,608.8 L335.2,609.9 L337.2,611.0 L339.2,612.1 L341.2,613.1 L343.2,614.2 L345.2,615.2 L347.2,616.2 L349.2,617.1 L351.2,618.1 L353.2,619.1 L355.2,620.1 L357.2,621.1 L359.2,622.1 L361.2,623.1 L363.2,624.1 L365.2,625.1 L367.2,626.1 L369.2,627.1 L371.2,628.1 L373.2,629.2 L375.2,630.3 L377.2,631.4 L379.2,632.5 L381.2,633.7 L383.2,634.9 L385.2,636.2 L387.2,637.4 L389.2,638.7 L391.2,640.1 L393.2,641.4 L395.2,642.8 L397.2,644.1 L399.2,645.4 L401.2,646.7 L403.2,648.0 L405.2,649.3 L407.2,650.5 L409.2,651.7 L411.2,653.0 L413.2,654.2 L415.2,655.4 L417.2,656.6 L419.2,657.8 L421.2,659.0 L423.2,660.2 L425.2,661.5 L427.2,662.8 L429.2,664.1 L431.2,665.4 L433.2,666.7 L435.2,668.0 L437.2,669.3 L439.2,670.6 L441.2,671.8 L443.2,673.1 L445.2,674.5 L447.2,675.8 L449.2,677.2 L451.2,678.6 L453.2,680.1 L455.2,681.7 L457.2,683.3 L459.2,684.8 L461.2,686.4 L463.2,688.0 L465.2,689.5 L467.2,691.1 L469.2,692.6 L471.2,694.2 L473.2,695.7 L475.2,697.3 L477.2,698.9 L479.2,700.6 L481.2,702.2 L483.2,703.9 L485.2,705.6 L487.2,707.3 L489.2,709.0 L491.2,710.6 L493.2,712.3 L495.2,714.0 L497.2,715.7 L499.2,717.4 L501.2,719.1 L503.2,720.8 L505.2,722.5 L507.2,724.2 L509.2,726.0 L511.2,727.7 L513.2,729.4 L515.2,731.2 L517.2,733.0 L519.2,734.8 L521.2,736.6 L523.2,738.4 L525.2,740.2 L527.2,742.1 L529.2,744.0 L531.2,745.9 L533.2,747.9 L535.2,750.0 L537.2,752.3 L539.2,754.6 L541.2,757.1 L543.2,759.7 L545.2,762.4 L547.2,765.1 L549.2,767.9 L551.2,770.6 L553.2,773.2 L555.2,775.8 L557.2,778.4 L559.2,780.8 L561.2,783.2 L563.2,785.5 L565.2,787.8 L567.2,790.0 L569.2,792.2 L571.2,794.4 L573.2,796.7 L575.2,798.9 L577.2,801.2 L579.2,803.5 L581.2,805.9 L583.2,808.2 L585.2,810.6 L587.2,813.0 L589.2,815.4 L591.2,817.8 L593.2,820.3 L595.2,822.6 L597.2,825.0 L599.2,827.2 L601.2,829.3 L603.2,831.3 L605.2,833.1 L607.2,834.7 L609.2,836.2 L611.2,837.5 L613.2,838.8 L615.2,840.0 L617.2,841.1 L619.2,842.1 L621.2,843.1 L623.2,844.0 L625.2,844.9 L627.2,845.7 L629.2,846.5 L631.2,847.2 L633.2,847.9 L635.2,848.5 L637.2,849.1 L639.2,849.7 L641.2,850.3 L643.2,850.9 L645.2,851.4 L647.2,851.9 L649.2,852.5 L651.2,853.0 L653.2,853.5 L655.2,854.0 L657.2,854.5 L659.2,855.0 L661.2,855.4 L663.2,855.9 L665.2,856.4 L667.2,856.8 L669.2,857.3 L671.2,857.8 L673.2,858.2 L675.2,858.6 L677.2,859.1 L679.2,859.5 L681.2,859.9 L683.2,860.4 L685.2,860.8 L687.2,861.2 L689.2,861.6 L691.2,862.0 L693.2,862.4 L695.2,862.8 L697.2,863.2 L699.2,863.6 L701.2,864.0 L703.2,864.4 L705.2,864.8 L707.2,865.2 L709.2,865.6 L711.2,866.0 L713.2,866.3 L715.2,866.7 L717.2,867.0 L719.2,867.3 L721.2,867.7 L723.2,868.0 L725.2,868.3 L727.2,868.6 L729.2,868.9 L731.2,869.2 L733.2,869.4 L735.2,869.7 L737.2,869.9 L739.2,870.2 L741.2,870.4 L743.2,870.6 L745.2,870.8 L747.2,871.0 L749.2,871.1 L751.2,871.3 L753.2,871.5 L755.2,871.6 L757.2,871.7 L759.2,871.9 L761.2,872.0 L763.2,872.1 L765.2,872.2 L767.2,872.3 L769.2,872.3 L771.2,872.4 L773.2,872.5 L775.2,872.6 L777.2,872.7 L779.2,872.7 L781.2,872.8 L783.2,872.9 L785.2,872.9 L787.2,873.0 L789.2,873.0 L791.2,873.1 L793.2,873.1 L795.2,873.2 L797.2,873.2 L799.2,873.3 L801.2,873.3 L803.2,873.4 L805.2,873.4 L807.2,873.4 L809.2,873.5 L811.2,873.5 L813.2,873.5 L815.2,873.6 L817.2,873.6 L819.2,873.6 L821.2,873.6 L823.2,873.7 L825.2,873.7 L827.2,873.7 L828.8,873.8 L828.8,873.8"/>
<path class="c" d="M201.5,718.7 L202.0,725.2 L202.5,731.4 L203.0,736.7 L203.5,741.5 L204.0,746.0 L204.5,750.2 L205.0,754.0 L205.5,757.2 L206.0,760.2 L206.5,763.2 L207.0,766.1 L207.5,768.9 L208.0,771.7 L208.5,774.6 L209.0,777.5 L209.5,780.3 L210.0,783.0 L210.5,785.6 L211.0,788.0 L211.5,790.4 L212.0,792.7 L212.5,794.9 L213.0,797.1 L213.5,799.2 L214.0,801.3 L214.5,803.3 L215.0,805.2 L215.5,807.1 L216.0,808.8 L216.5,810.6 L217.0,812.2 L217.5,813.8 L218.0,815.4 L218.5,816.9 L219.0,818.4 L219.5,819.8 L220.0,821.2 L220.5,822.6 L221.0,823.9 L221.5,825.2 L222.0,826.4 L222.5,827.6 L223.0,828.8 L223.5,829.9 L224.0,831.0 L224.5,832.0 L225.0,833.0 L225.5,833.9 L226.0,834.7 L226.5,835.6 L227.0,836.3 L227.5,837.1 L228.0,837.8 L228.5,838.4 L229.0,839.1 L229.5,839.6 L230.0,840.2 L230.5,840.7 L231.0,841.1 L231.5,841.6 L232.0,842.0 L232.5,842.4 L233.0,842.7 L233.5,843.0 L234.0,843.4 L234.5,843.7 L235.0,844.0 L235.5,844.2 L236.0,844.5 L236.5,844.8 L237.0,845.0 L237.5,845.2 L238.0,845.2 L238.5,845.2 L239.0,845.3 L239.5,845.5 L240.0,845.7 L240.5,845.9 L241.0,846.1 L241.5,846.3 L242.0,846.5 L242.5,846.7 L243.0,846.9 L243.5,847.2 L244.0,847.4 L244.5,847.6 L245.0,847.8 L245.5,848.0 L246.0,848.1 L246.5,848.3 L247.0,848.5 L247.5,848.6 L248.0,848.8 L248.5,849.0 L249.0,849.2 L249.5,849.4 L250.0,849.6 L250.5,849.8 L251.0,850.0 L251.5,850.3 L252.0,850.6 L252.5,850.9 L253.0,851.3 L253.5,851.7 L254.0,852.0 L254.5,852.4 L255.0,852.8 L255.5,853.2 L256.0,853.6 L256.5,853.9 L257.0,854.3 L257.5,854.7 L258.0,855.0 L258.5,855.4 L259.0,855.8 L259.5,856.1 L260.0,856.5 L260.5,856.9 L261.0,857.2 L261.5,857.6 L262.0,857.9 L262.5,858.2 L263.0,858.6 L263.5,858.9 L264.0,859.3 L264.5,859.6 L265.0,860.0 L265.5,860.3 L266.0,860.6 L266.5,860.8 L267.0,861.0 L267.5,860.9 L268.0,858.7 L268.5,858.1 L269.0,857.8 L269.5,857.6 L270.0,857.4 L270.5,857.1 L271.0,856.9 L271.5,856.7 L272.0,856.5 L272.5,856.2 L273.0,855.9 L273.5,855.6 L274.0,855.2 L274.5,854.9 L275.0,854.5 L275.5,854.2 L276.0,853.8 L276.5,853.4 L277.0,853.0 L277.5,852.6 L278.0,852.1 L278.5,851.6 L279.0,851.0 L279.5,850.4 L280.0,849.7 L280.5,848.9 L281.0,848.1 L281.5,847.3 L282.0,846.6 L282.5,846.0 L283.0,845.4 L283.5,844.8 L284.0,844.3 L284.5,843.7 L285.0,843.2 L285.5,842.7 L286.0,842.1 L286.5,841.6 L287.0,841.0 L287.5,840.4 L288.0,839.8 L288.5,839.1 L289.0,838.4 L289.5,837.8 L290.0,837.1 L290.5,836.3 L291.0,835.6 L291.5,834.9 L292.0,834.1 L292.5,833.4 L293.0,832.6 L293.5,831.8 L294.0,831.1 L294.5,830.3 L295.0,829.5 L295.5,828.7 L296.0,827.9 L296.5,827.1 L297.0,826.2 L297.5,825.3 L298.0,824.4 L298.5,823.4 L299.0,822.4 L299.5,821.4 L300.0,820.3 L300.5,819.1 L301.0,817.9 L301.5,816.7 L302.0,815.5 L302.5,814.2 L303.0,812.8 L303.5,811.5 L304.0,810.1 L304.5,808.6 L305.0,807.1 L305.5,805.6 L306.0,804.1 L306.5,802.5 L307.0,800.9 L307.5,799.4 L308.0,797.8 L308.5,796.2 L309.0,794.6 L309.5,792.9 L310.0,791.3 L310.5,789.6 L311.0,787.9 L311.5,786.2 L312.0,784.4 L312.5,782.7 L313.0,780.9 L313.5,779.1 L314.0,777.4 L314.5,775.6 L315.0,773.8 L315.5,772.0 L316.0,770.2 L316.5,768.4 L317.0,766.6 L317.5,764.8 L318.0,763.0 L318.5,761.2 L319.0,759.4 L319.5,757.6 L320.0,755.8 L320.5,754.0 L321.0,752.2 L321.5,750.4 L322.0,748.7 L322.5,746.9 L323.0,745.1 L323.5,743.4 L324.0,741.6 L324.5,739.9 L325.0,738.2 L325.5,736.5 L326.0,734.8 L326.5,733.2 L327.0,731.5 L327.5,729.9 L328.0,728.3 L328.5,726.7 L329.0,725.1 L329.5,723.6 L330.0,722.1 L330.5,720.6 L331.0,719.1 L331.5,717.7 L332.0,716.2 L332.5,714.8 L333.0,713.4 L333.5,712.1 L334.0,710.7 L334.5,709.4 L335.0,708.1 L335.5,706.8 L336.0,705.5 L336.5,704.3 L337.0,703.0 L337.5,701.8 L338.0,700.6 L338.5,699.5 L339.0,698.3 L339.5,697.2 L340.0,696.0 L340.5,694.9 L341.0,693.8 L341.5,692.7 L342.0,691.7 L342.5,690.6 L343.0,689.6 L343.5,688.5 L344.0,687.5 L344.5,686.5 L345.0,685.6 L345.5,684.6 L346.0,683.7 L346.5,682.7 L347.0,681.8 L347.5,680.9 L348.0,680.0 L348.5,679.1 L349.0,678.2 L349.5,677.3 L350.0,676.5 L350.5,675.6 L351.0,674.8 L351.5,673.9 L352.0,673.1 L352.5,672.3 L353.0,671.5 L353.5,670.7 L354.0,669.9 L354.5,669.1 L355.0,668.2 L355.5,667.4 L356.0,666.6 L356.5,665.9 L357.0,665.1 L357.5,664.3 L358.0,663.5 L358.5,662.7 L359.0,661.9 L359.5,661.1 L360.0,660.3 L360.5,659.5 L361.0,658.7 L361.5,657.9 L362.0,657.2 L362.5,656.4 L363.0,655.6 L363.5,654.8 L364.0,654.1 L364.5,653.3 L365.0,652.5 L365.5,651.8 L366.0,651.0 L366.5,650.3 L367.0,649.5 L367.5,648.8 L368.0,648.1 L368.5,647.3 L369.0,646.6 L369.5,645.9 L370.0,645.2 L370.5,644.5 L371.0,643.8 L371.5,643.2 L372.0,642.5 L372.5,641.8 L373.0,641.2 L373.5,640.5 L374.0,639.9 L374.5,639.2 L375.0,638.6 L375.5,637.9 L376.0,637.3 L376.5,636.7 L377.0,636.1 L377.5,635.4 L378.0,634.8 L378.5,634.2 L379.0,633.6 L379.5,633.0 L380.0,632.4 L380.5,631.8 L381.0,631.2 L381.5,630.6 L382.0,630.0 L382.5,629.4 L383.0,628.8 L383.5,628.2 L384.0,627.6 L384.5,627.0 L385.0,626.4 L385.5,625.8 L386.0,625.2 L386.5,624.7 L387.0,624.1 L387.5,623.5 L388.0,623.0 L388.5,622.4 L389.0,621.8 L389.5,621.3 L390.0,620.8 L390.5,620.2 L391.0,619.7 L391.5,619.2 L392.0,618.7 L392.5,618.2 L393.0,617.7 L393.5,617.2 L394.0,616.7 L394.5,616.2 L395.0,615.7 L395.5,615.2 L396.0,614.8 L396.5,614.3 L397.0,613.8 L397.5,613.4 L398.0,612.9 L398.5,612.4 L399.0,612.0 L399.5,611.5 L400.0,611.1 L400.5,610.6 L401.0,610.2 L401.5,609.7 L402.0,609.3 L402.5,608.8 L403.0,608.4 L403.5,607.9 L404.0,607.5 L404.5,607.1 L405.0,606.6 L405.5,606.2 L406.0,605.8 L406.5,605.3 L407.0,604.9 L407.5,604.5 L408.0,604.0 L408.5,603.6 L409.0,603.2 L409.5,602.8 L410.0,602.3 L410.5,601.9 L411.0,601.4 L411.5,601.0 L412.0,600.5 L412.5,600.0 L413.0,599.6 L413.5,599.1 L414.0,598.6 L414.5,598.1 L415.0,597.6 L415.5,597.1 L416.0,596.5 L416.5,596.0 L417.0,595.5 L417.5,595.0 L418.0,594.5 L418.5,594.0 L419.0,593.5 L419.5,593.0 L420.0,592.5 L420.5,592.0 L421.0,591.6 L421.5,591.1 L422.0,590.7 L422.5,590.2 L423.0,589.8 L423.5,589.4 L424.0,589.0 L424.5,588.6 L425.0,588.2 L425.5,587.8 L426.0,587.4 L426.5,587.1 L427.0,586.7 L427.5,586.3 L428.0,585.9 L428.5,585.6 L429.0,585.2 L429.5,584.8 L430.0,584.5 L430.5,584.1 L431.0,583.8 L431.5,583.4 L432.0,583.0 L432.5,582.7 L433.0,582.3 L433.5,582.0 L434.0,581.6 L434.5,581.3 L435.0,580.9 L435.5,580.6 L436.0,580.3 L436.5,579.9 L437.0,579.6 L437.5,579.3 L438.0,578.9 L438.5,578.6 L439.0,578.3 L439.5,578.0 L440.0,577.7 L440.5,577.4 L441.0,577.1 L441.5,576.8 L442.0,576.5 L442.5,576.3 L443.0,576.0 L443.5,575.7 L444.0,575.4 L444.5,575.2 L445.0,574.9 L445.5,574.7 L446.0,574.4 L446.5,574.2 L447.0,573.9 L447.5,573.7 L448.0,573.5 L448.5,573.2 L449.0,573.0 L449.5,572.8 L450.0,572.6 L450.5,572.4 L451.0,572.1 L451.5,571.9 L452.0,571.7 L452.5,571.5 L453.0,571.3 L453.5,571.1 L454.0,570.9 L454.5,570.7 L455.0,570.5 L455.5,570.3 L456.0,570.1 L456.5,569.9 L457.0,569.7 L457.5,569.5 L458.0,569.3 L458.5,569.1 L459.0,568.9 L459.5,568.7 L460.0,568.5 L460.5,568.3 L461.0,568.1 L461.5,567.9 L462.0,567.7 L462.5,567.5 L463.0,567.3 L463.5,567.1 L464.0,566.9 L464.5,566.7 L465.0,566.5 L465.5,566.3 L466.0,566.1 L466.5,565.9 L467.0,565.7 L467.5,565.6 L468.0,565.4 L468.5,565.2 L469.0,565.0 L469.5,564.8 L470.0,564.6 L470.5,564.3 L471.0,564.1 L471.5,563.9 L472.0,563.7 L472.5,563.5 L473.0,563.3 L473.5,563.1 L474.0,562.9 L474.5,562.6 L475.0,562.4 L475.5,562.2 L476.0,562.0 L476.5,561.7 L477.0,561.5 L477.5,561.3 L478.0,561.0 L478.5,560.8 L479.0,560.5 L479.5,560.3 L480.0,560.0 L480.5,559.8 L481.0,559.5 L481.5,559.3 L482.0,559.0 L482.5,558.7 L483.0,558.5 L483.5,558.2 L484.0,557.9 L484.5,557.6 L485.0,557.4 L485.5,557.1 L486.0,556.8 L486.5,556.5 L487.0,556.2 L487.5,555.9 L488.0,555.6 L488.5,555.3 L489.0,554.9 L489.5,554.6 L490.0,554.3 L490.5,554.0 L491.0,553.6 L491.5,553.3 L492.0,552.9 L492.5,552.6 L493.0,552.3 L493.5,551.9 L494.0,551.6 L494.5,551.2 L495.0,550.9 L495.5,550.5 L496.0,550.1 L496.5,549.8 L497.0,549.4 L497.5,549.0 L498.0,548.6 L498.5,548.2 L499.0,547.8 L499.5,547.4 L500.0,547.0 L500.5,546.6 L501.0,546.1 L501.5,545.7 L502.0,545.2 L502.5,544.7 L503.0,544.2 L503.5,543.7 L504.0,543.2 L504.5,542.7 L505.0,542.2 L505.5,541.7 L506.0,541.2 L506.5,540.7 L507.0,540.2 L507.5,539.6 L508.0,539.1 L508.5,538.6 L509.0,538.1 L509.5,537.5 L510.0,537.0 L510.5,536.5 L511.0,536.0 L511.5,535.5 L512.0,535.0 L512.5,534.5 L513.0,534.0 L513.5,533.5 L514.0,533.0 L514.5,532.5 L515.0,532.0 L515.5,531.5 L516.0,531.0 L516.5,530.5 L517.0,530.0 L517.5,529.5 L518.0,529.0 L518.5,528.5 L519.0,528.0 L519.5,527.5 L520.0,527.1 L520.5,526.6 L521.0,526.2 L521.5,525.8 L522.0,525.4 L522.5,525.0 L523.0,524.7 L523.5,524.3 L524.0,524.0 L524.5,523.8 L525.0,523.5 L525.5,523.3 L526.0,523.1 L526.5,522.9 L527.0,522.8 L527.5,522.6 L528.0,522.5 L528.5,522.4 L529.0,522.2 L529.5,522.1 L530.0,522.0 L530.5,521.9 L531.0,521.8 L531.5,521.7 L532.0,521.6 L532.5,521.5 L533.0,521.5 L533.5,521.4 L534.0,521.4 L534.5,521.3 L535.0,521.3 L535.5,521.3 L536.0,521.3 L536.5,521.3 L537.0,521.3 L537.5,521.2 L538.0,521.3 L538.5,521.3 L539.0,521.3 L539.5,521.3 L540.0,521.3 L540.5,521.4 L541.0,521.4 L541.5,521.4 L542.0,521.5 L542.5,521.6 L543.0,521.6 L543.5,521.7 L544.0,521.8 L544.5,521.9 L545.0,522.0 L545.5,522.1 L546.0,522.2 L546.5,522.3 L547.0,522.5 L547.5,522.6 L548.0,522.7 L548.5,522.9 L549.0,523.0 L549.5,523.2 L550.0,523.4 L550.5,523.6 L551.0,523.8 L551.5,524.0 L552.0,524.2 L552.5,524.5 L553.0,524.8 L553.5,525.1 L554.0,525.3 L554.5,525.6 L555.0,526.0 L555.5,526.3 L556.0,526.6 L556.5,527.0 L557.0,527.4 L557.5,527.8 L558.0,528.2 L558.5,528.6 L559.0,529.1 L559.5,529.5 L560.0,530.0 L560.5,530.5 L561.0,531.0 L561.5,531.5 L562.0,532.1 L562.5,532.7 L563.0,533.2 L563.5,533.8 L564.0,534.4 L564.5,535.0 L565.0,535.6 L565.5,536.2 L566.0,536.8 L566.5,537.4 L567.0,538.0 L567.5,538.5 L568.0,539.1 L568.5,539.7 L569.0,540.2 L569.5,540.7 L570.0,541.2 L570.5,541.8 L571.0,542.3 L571.5,542.8 L572.0,543.2 L572.5,543.7 L573.0,544.2 L573.5,544.7 L574.0,545.2 L574.5,545.7 L575.0,546.1 L575.5,546.6 L576.0,547.0 L576.5,547.4 L577.0,547.9 L577.5,548.3 L578.0,548.6 L578.5,549.0 L579.0,549.4 L579.5,549.7 L580.0,550.0 L580.5,550.3 L581.0,550.6 L581.5,550.9 L582.0,551.1 L582.5,551.4 L583.0,551.6 L583.5,551.8 L584.0,552.1 L584.5,552.3 L585.0,552.5 L585.5,552.6 L586.0,552.8 L586.5,552.9 L587.0,553.0 L587.5,553.1 L588.0,553.2 L588.5,553.2 L589.0,553.3 L589.5,553.3 L590.0,553.2 L590.5,553.2 L591.0,553.1 L591.5,553.0 L592.0,552.9 L592.5,552.8 L593.0,552.7 L593.5,552.5 L594.0,552.3 L594.5,552.1 L595.0,551.9 L595.5,551.7 L596.0,551.4 L596.5,551.1 L597.0,550.9 L597.5,550.6 L598.0,550.2 L598.5,549.9 L599.0,549.5 L599.5,549.1 L600.0,548.8 L600.5,548.3 L601.0,547.8 L601.5,547.3 L602.0,546.8 L602.5,546.1 L603.0,545.5 L603.5,544.8 L604.0,544.1 L604.5,543.4 L605.0,542.6 L605.5,541.8 L606.0,541.1 L606.5,540.3 L607.0,539.5 L607.5,538.8 L608.0,538.0 L608.5,537.2 L609.0,536.3 L609.5,535.5 L610.0,534.6 L610.5,533.7 L611.0,532.8 L611.5,531.9 L612.0,531.0 L612.5,530.1 L613.0,529.3 L613.5,528.5 L614.0,527.7 L614.5,526.9 L615.0,526.2 L615.5,525.6 L616.0,525.0 L616.5,524.4 L617.0,523.8 L617.5,523.2 L618.0,522.7 L618.5,522.2 L619.0,521.7 L619.5,521.2 L620.0,520.8 L620.5,520.3 L621.0,519.9 L621.5,519.5 L622.0,519.1 L622.5,518.8 L623.0,518.4 L623.5,518.1 L624.0,517.8 L624.5,517.5 L625.0,517.3 L625.5,517.0 L626.0,516.8 L626.5,516.6 L627.0,516.5 L627.5,516.3 L628.0,516.1 L628.5,516.0 L629.0,515.8 L629.5,515.7 L630.0,515.5 L630.5,515.3 L631.0,515.2 L631.5,515.0 L632.0,514.9 L632.5,514.7 L633.0,514.6 L633.5,514.4 L634.0,514.3 L634.5,514.2 L635.0,514.1 L635.5,514.0 L636.0,513.9 L636.5,513.8 L637.0,513.8 L637.5,513.7 L638.0,513.7 L638.5,513.7 L639.0,513.8 L639.5,513.8 L640.0,514.0 L640.5,514.1 L641.0,514.2 L641.5,514.4 L642.0,514.6 L642.5,514.8 L643.0,515.1 L643.5,515.3 L644.0,515.5 L644.5,515.7 L645.0,516.0 L645.5,516.2 L646.0,516.4 L646.5,516.6 L647.0,516.8 L647.5,517.0 L648.0,517.2 L648.5,517.3 L649.0,517.5 L649.5,517.7 L650.0,517.8 L650.5,518.0 L651.0,518.1 L651.5,518.3 L652.0,518.5 L652.5,518.6 L653.0,518.8 L653.5,518.9 L654.0,519.1 L654.5,519.3 L655.0,519.4 L655.5,519.6 L656.0,519.8 L656.5,519.9 L657.0,520.1 L657.5,520.3 L658.0,520.5 L658.5,520.7 L659.0,520.8 L659.5,521.0 L660.0,521.2 L660.5,521.5 L661.0,521.7 L661.5,521.9 L662.0,522.2 L662.5,522.4 L663.0,522.7 L663.5,522.9 L664.0,523.2 L664.5,523.4 L665.0,523.7 L665.5,524.0 L666.0,524.2 L666.5,524.5 L667.0,524.8 L667.5,525.0 L668.0,525.3 L668.5,525.6 L669.0,525.8 L669.5,526.1 L670.0,526.3 L670.5,526.6 L671.0,526.8 L671.5,527.1 L672.0,527.3 L672.5,527.5 L673.0,527.7 L673.5,527.9 L674.0,528.1 L674.5,528.3 L675.0,528.5 L675.5,528.7 L676.0,528.8 L676.5,529.0 L677.0,529.2 L677.5,529.4 L678.0,529.5 L678.5,529.7 L679.0,529.8 L679.5,530.0 L680.0,530.2 L680.5,530.3 L681.0,530.5 L681.5,530.7 L682.0,530.9 L682.5,531.0 L683.0,531.2 L683.5,531.4 L684.0,531.6 L684.5,531.8 L685.0,532.0 L685.5,532.2 L686.0,532.4 L686.5,532.7 L687.0,532.9 L687.5,533.1 L688.0,533.4 L688.5,533.6 L689.0,533.9 L689.5,534.1 L690.0,534.4 L690.5,534.6 L691.0,534.9 L691.5,535.1 L692.0,535.4 L692.5,535.6 L693.0,535.9 L693.5,536.1 L694.0,536.4 L694.5,536.6 L695.0,536.9 L695.5,537.1 L696.0,537.3 L696.5,537.6 L697.0,537.8 L697.5,538.0 L698.0,538.2 L698.5,538.4 L699.0,538.6 L699.5,538.7 L700.0,538.9 L700.5,539.1 L701.0,539.2 L701.5,539.4 L702.0,539.5 L702.5,539.6 L703.0,539.8 L703.5,539.9 L704.0,540.1 L704.5,540.2 L705.0,540.4 L705.5,540.5 L706.0,540.7 L706.5,540.9 L707.0,541.1 L707.5,541.3 L708.0,541.6 L708.5,541.9 L709.0,542.2 L709.5,542.5 L710.0,542.8 L710.5,543.2 L711.0,543.6 L711.5,544.0 L712.0,544.4 L712.5,544.8 L713.0,545.3 L713.5,545.8 L714.0,546.3 L714.5,546.8 L715.0,547.3 L715.5,547.8 L716.0,548.4 L716.5,548.9 L717.0,549.4 L717.5,550.0 L718.0,550.6 L718.5,551.1 L719.0,551.7 L719.5,552.3 L720.0,552.9 L720.5,553.5 L721.0,554.1 L721.5,554.8 L722.0,555.5 L722.5,556.2 L723.0,556.9 L723.5,557.6 L724.0,558.4 L724.5,559.2 L725.0,560.0 L725.5,560.9 L726.0,561.7 L726.5,562.6 L727.0,563.6 L727.5,564.5 L728.0,565.5 L728.5,566.5 L729.0,567.5 L729.5,568.6 L730.0,569.6 L730.5,570.7 L731.0,571.8 L731.5,572.8 L732.0,573.9 L732.5,575.0 L733.0,576.1 L733.5,577.2 L734.0,578.3 L734.5,579.4 L735.0,580.6 L735.5,581.7 L736.0,582.9 L736.5,584.1 L737.0,585.3 L737.5,586.4 L738.0,587.6 L738.5,588.8 L739.0,590.1 L739.5,591.3 L740.0,592.5 L740.5,593.7 L741.0,595.0 L741.5,596.3 L742.0,597.6 L742.5,598.9 L743.0,600.3 L743.5,601.6 L744.0,602.9 L744.5,604.3 L745.0,605.6 L745.5,606.9 L746.0,608.1 L746.5,609.4 L747.0,610.6 L747.5,611.8 L748.0,613.0 L748.5,614.2 L749.0,615.4 L749.5,616.5 L750.0,617.6 L750.5,618.6 L751.0,619.6 L751.5,620.4 L752.0,621.1 L752.5,621.8 L753.0,622.3 L753.5,622.7 L754.0,622.9 L754.5,623.1 L755.0,623.2 L755.5,623.3 L756.0,623.3 L756.5,623.3 L757.0,623.1 L757.5,622.8 L758.0,622.3 L758.5,621.7 L759.0,620.8 L759.5,619.6 L760.0,618.2 L760.5,616.7 L761.0,615.0 L761.5,613.3 L762.0,611.6 L762.5,610.0 L763.0,608.4 L763.5,606.7 L764.0,604.9 L764.5,603.2 L765.0,601.4 L765.5,599.8 L766.0,598.2 L766.5,596.8 L767.0,595.4 L767.5,594.1 L768.0,592.8 L768.5,591.7 L769.0,590.6 L769.5,589.6 L770.0,588.8 L770.5,588.0 L771.0,587.4 L771.5,586.8 L772.0,586.4 L772.5,586.1 L773.0,585.9 L773.5,585.8 L774.0,585.7 L774.5,585.7 L775.0,585.7 L775.5,585.8 L776.0,585.9 L776.5,586.0 L777.0,586.1 L777.5,586.2 L778.0,586.4 L778.5,586.5 L779.0,586.7 L779.5,586.9 L780.0,587.0 L780.5,587.2 L781.0,587.3 L781.5,587.5 L782.0,587.7 L782.5,587.8 L783.0,588.0 L783.5,588.2 L784.0,588.4 L784.5,588.6 L785.0,588.8 L785.5,588.9 L786.0,589.1 L786.5,589.3 L787.0,589.5 L787.5,589.7 L788.0,589.8 L788.5,590.0 L789.0,590.2 L789.5,590.3 L790.0,590.5 L790.5,590.6 L791.0,590.8 L791.5,590.9 L792.0,591.1 L792.5,591.2 L793.0,591.4 L793.5,591.5 L794.0,591.7 L794.5,591.8 L795.0,591.9 L795.5,592.0 L796.0,592.2 L796.5,592.3 L797.0,592.4 L797.5,592.5 L798.0,592.6 L798.5,592.7 L799.0,592.8 L799.5,592.9 L800.0,593.0 L800.5,593.1 L801.0,593.2 L801.5,593.2 L802.0,593.3 L802.5,593.4 L803.0,593.5 L803.5,593.5 L804.0,593.6 L804.5,593.7 L805.0,593.7 L805.5,593.8 L806.0,593.8 L806.5,593.9 L807.0,594.0 L807.5,594.0 L808.0,594.1 L808.5,594.1 L809.0,594.2 L809.5,594.2 L810.0,594.3 L810.5,594.3 L811.0,594.4 L811.5,594.4 L812.0,594.5 L812.5,594.5 L813.0,594.5 L813.5,594.6 L814.0,594.6 L814.5,594.7 L815.0,594.7 L815.5,594.8 L816.0,594.8 L816.5,594.8 L817.0,594.9 L817.5,594.9 L818.0,594.9 L818.5,595.0 L819.0,595.0 L819.5,595.0 L820.0,595.0 L820.5,595.0 L821.0,595.0 L821.5,595.0 L822.0,595.0 L822.5,595.0 L823.0,595.0 L823.5,594.9 L824.0,594.9 L824.5,594.8 L825.0,594.7 L825.5,594.6 L826.0,594.5 L826.5,594.3 L827.0,594.2 L827.5,594.1 L828.0,593.9 L828.5,593.8 L828.8,593.8"/>
<text class="bd" transform="translate(128.7,508.1) scale(0.983,1)">BH-0.5</text>
<text class="dt" transform="translate(741.6,513.8)">DTA (µV)</text>
<text class="an" transform="translate(171.5,878.8) scale(0.955,1)">74°C</text>
<text class="an" transform="translate(252.4,890.8) scale(0.955,1)">130°C</text>
<text class="an" transform="translate(550.5,590.0) scale(0.955,1)">629°C</text>
<text class="an" transform="translate(726.9,655.0) scale(0.955,1)">883°C</text>
<text class="ex" text-anchor="middle" transform="translate(981.4,698.0) scale(0.965,1) rotate(-90)">EXO</text>
<path d="M998.5,759.1 V637.0" stroke="#000" stroke-width="4.1" stroke-linecap="round" fill="none"/>
<path d="M998.5,618.9 L1004.0,639.0 L993.0,639.0 Z" fill="#000" stroke="#000" stroke-width="3.4" stroke-linejoin="round"/>
<text class="ax" text-anchor="middle" style="font-size:42.3px" transform="translate(36.6,708.3) scale(0.965,1) rotate(-90)">Mass Loss (%)</text>
</g>
<g id="p3">
<rect class="f" x="118.80" y="915.70" width="775.20" height="452.80"/>
<path class="t" d="M183.40,915.70 v10.30 M248.00,915.70 v5.60 M312.60,915.70 v10.30 M377.20,915.70 v5.60 M441.80,915.70 v10.30 M506.40,915.70 v5.60 M571.00,915.70 v10.30 M635.60,915.70 v5.60 M700.20,915.70 v10.30 M764.80,915.70 v5.60 M829.40,915.70 v10.30 M118.80,1368.50 v5.60 M183.40,1368.50 v10.30 M248.00,1368.50 v5.60 M312.60,1368.50 v10.30 M377.20,1368.50 v5.60 M441.80,1368.50 v10.30 M506.40,1368.50 v5.60 M571.00,1368.50 v10.30 M635.60,1368.50 v5.60 M700.20,1368.50 v10.30 M764.80,1368.50 v5.60 M829.40,1368.50 v10.30 M894.00,1368.50 v5.60 M118.80,1368.50 h-10.30 M118.80,1343.34 h-5.60 M118.80,1318.19 h-10.30 M118.80,1293.03 h-5.60 M118.80,1267.88 h-10.30 M118.80,1242.72 h-5.60 M118.80,1217.57 h-10.30 M118.80,1192.41 h-5.60 M118.80,1167.26 h-10.30 M118.80,1142.10 h-5.60 M118.80,1116.94 h-10.30 M118.80,1091.79 h-5.60 M118.80,1066.63 h-10.30 M118.80,1041.48 h-5.60 M118.80,1016.32 h-10.30 M118.80,991.17 h-5.60 M118.80,966.01 h-10.30 M118.80,940.86 h-5.60 M894.00,1368.50 h10.30 M894.00,1323.22 h5.60 M894.00,1277.94 h10.30 M894.00,1232.66 h5.60 M894.00,1187.38 h10.30 M894.00,1142.10 h5.60 M894.00,1096.82 h10.30 M894.00,1051.54 h5.60 M894.00,1006.26 h10.30 M894.00,960.98 h5.60 M894.00,915.70 h10.30"/>
<text class="tk" text-anchor="end" style="font-size:31px" transform="translate(101.6,974.0) scale(0.940,1)">0</text>
<text class="tk" text-anchor="end" style="font-size:31px" transform="translate(101.6,1024.3) scale(0.940,1)">-1</text>
<text class="tk" text-anchor="end" style="font-size:31px" transform="translate(101.6,1074.6) scale(0.940,1)">-2</text>
<text class="tk" text-anchor="end" style="font-size:31px" transform="translate(101.6,1124.9) scale(0.940,1)">-3</text>
<text class="tk" text-anchor="end" style="font-size:31px" transform="translate(101.6,1175.3) scale(0.940,1)">-4</text>
<text class="tk" text-anchor="end" style="font-size:31px" transform="translate(101.6,1225.6) scale(0.940,1)">-5</text>
<text class="tk" text-anchor="end" style="font-size:31px" transform="translate(101.6,1275.9) scale(0.940,1)">-6</text>
<text class="tk" text-anchor="end" style="font-size:31px" transform="translate(101.6,1326.2) scale(0.940,1)">-7</text>
<text class="tk" text-anchor="end" style="font-size:31px" transform="translate(101.6,1376.5) scale(0.940,1)">-8</text>
<text class="tk" style="font-size:29.6px" transform="translate(911.9,1013.7) scale(0.940,1)">10</text>
<text class="tk" style="font-size:29.6px" transform="translate(911.9,1104.2) scale(0.940,1)">5</text>
<text class="tk" style="font-size:29.6px" transform="translate(911.9,1194.8) scale(0.940,1)">0</text>
<text class="tk" style="font-size:29.6px" transform="translate(911.9,1285.3) scale(0.940,1)">-5</text>
<text class="tk" style="font-size:29.6px" transform="translate(911.9,1375.9) scale(0.940,1)">-10</text>
<text class="tk" text-anchor="middle" transform="translate(183.4,1408.9) scale(0.940,1)">0</text>
<text class="tk" text-anchor="middle" transform="translate(312.6,1408.9) scale(0.940,1)">200</text>
<text class="tk" text-anchor="middle" transform="translate(441.8,1408.9) scale(0.940,1)">400</text>
<text class="tk" text-anchor="middle" transform="translate(571.0,1408.9) scale(0.940,1)">600</text>
<text class="tk" text-anchor="middle" transform="translate(700.2,1408.9) scale(0.940,1)">800</text>
<text class="tk" text-anchor="middle" transform="translate(829.4,1408.9) scale(0.940,1)">1000</text>
<text class="ax" text-anchor="middle" transform="translate(506.7,1472.3)">Temperature (°C)</text>
<path class="c" d="M200.8,965.5 L202.8,965.5 L204.8,965.6 L206.8,965.6 L208.8,965.7 L210.8,965.7 L212.8,965.8 L214.8,966.0 L216.8,966.1 L218.8,966.3 L220.8,966.5 L222.8,966.8 L224.8,967.1 L226.8,967.4 L228.8,967.8 L230.8,968.3 L232.8,968.8 L234.8,969.3 L236.8,969.9 L238.8,970.6 L240.8,971.3 L242.8,972.1 L244.8,973.1 L246.8,974.1 L248.8,975.2 L250.8,976.5 L252.8,977.9 L254.8,979.5 L256.8,981.2 L258.8,982.9 L260.8,984.7 L262.8,986.6 L264.8,988.5 L266.8,990.5 L268.8,992.5 L270.8,994.5 L272.8,996.5 L274.8,998.5 L276.8,1000.5 L278.8,1002.5 L280.8,1004.5 L282.8,1006.5 L284.8,1008.5 L286.8,1010.5 L288.8,1012.5 L290.8,1014.5 L292.8,1016.5 L294.8,1018.5 L296.8,1020.5 L298.8,1022.4 L300.8,1024.3 L302.8,1026.2 L304.8,1028.1 L306.8,1029.9 L308.8,1031.7 L310.8,1033.4 L312.8,1035.1 L314.8,1036.8 L316.8,1038.5 L318.8,1040.1 L320.8,1041.6 L322.8,1043.1 L324.8,1044.6 L326.8,1046.0 L328.8,1047.3 L330.8,1048.5 L332.8,1049.7 L334.8,1050.9 L336.8,1052.0 L338.8,1053.1 L340.8,1054.1 L342.8,1055.1 L344.8,1056.2 L346.8,1057.2 L348.8,1058.1 L350.8,1059.1 L352.8,1060.1 L354.8,1061.1 L356.8,1062.1 L358.8,1063.1 L360.8,1064.2 L362.8,1065.2 L364.8,1066.3 L366.8,1067.4 L368.8,1068.5 L370.8,1069.6 L372.8,1070.7 L374.8,1071.9 L376.8,1073.1 L378.8,1074.2 L380.8,1075.4 L382.8,1076.6 L384.8,1077.8 L386.8,1079.1 L388.8,1080.3 L390.8,1081.6 L392.8,1082.8 L394.8,1084.1 L396.8,1085.4 L398.8,1086.7 L400.8,1088.0 L402.8,1089.3 L404.8,1090.6 L406.8,1092.0 L408.8,1093.3 L410.8,1094.6 L412.8,1095.9 L414.8,1097.2 L416.8,1098.5 L418.8,1099.7 L420.8,1101.0 L422.8,1102.3 L424.8,1103.6 L426.8,1104.9 L428.8,1106.2 L430.8,1107.5 L432.8,1108.8 L434.8,1110.2 L436.8,1111.6 L438.8,1113.0 L440.8,1114.4 L442.8,1115.8 L444.8,1117.3 L446.8,1118.8 L448.8,1120.4 L450.8,1121.9 L452.8,1123.5 L454.8,1125.2 L456.8,1126.8 L458.8,1128.4 L460.8,1130.0 L462.8,1131.6 L464.8,1133.1 L466.8,1134.7 L468.8,1136.2 L470.8,1137.8 L472.8,1139.4 L474.8,1141.0 L476.8,1142.7 L478.8,1144.4 L480.8,1146.2 L482.8,1147.9 L484.8,1149.7 L486.8,1151.4 L488.8,1153.1 L490.8,1154.7 L492.8,1156.3 L494.8,1157.9 L496.8,1159.5 L498.8,1161.1 L500.8,1162.7 L502.8,1164.3 L504.8,1166.0 L506.8,1167.6 L508.8,1169.3 L510.8,1171.1 L512.8,1172.9 L514.8,1174.7 L516.8,1176.5 L518.8,1178.4 L520.8,1180.4 L522.8,1182.3 L524.8,1184.3 L526.8,1186.4 L528.8,1188.4 L530.8,1190.6 L532.8,1192.8 L534.8,1195.1 L536.8,1197.5 L538.8,1200.1 L540.8,1202.8 L542.8,1205.5 L544.8,1208.4 L546.8,1211.2 L548.8,1214.1 L550.8,1216.9 L552.8,1219.8 L554.8,1222.5 L556.8,1225.2 L558.8,1227.9 L560.8,1230.5 L562.8,1233.0 L564.8,1235.4 L566.8,1237.7 L568.8,1240.0 L570.8,1242.3 L572.8,1244.6 L574.8,1246.9 L576.8,1249.3 L578.8,1251.8 L580.8,1254.3 L582.8,1256.8 L584.8,1259.3 L586.8,1261.9 L588.8,1264.4 L590.8,1266.9 L592.8,1269.4 L594.8,1271.9 L596.8,1274.2 L598.8,1276.5 L600.8,1278.6 L602.8,1280.6 L604.8,1282.4 L606.8,1284.1 L608.8,1285.6 L610.8,1287.0 L612.8,1288.2 L614.8,1289.4 L616.8,1290.5 L618.8,1291.5 L620.8,1292.5 L622.8,1293.4 L624.8,1294.3 L626.8,1295.1 L628.8,1295.9 L630.8,1296.7 L632.8,1297.4 L634.8,1298.1 L636.8,1298.8 L638.8,1299.5 L640.8,1300.1 L642.8,1300.8 L644.8,1301.4 L646.8,1302.0 L648.8,1302.6 L650.8,1303.2 L652.8,1303.8 L654.8,1304.3 L656.8,1304.9 L658.8,1305.5 L660.8,1306.0 L662.8,1306.6 L664.8,1307.1 L666.8,1307.6 L668.8,1308.1 L670.8,1308.7 L672.8,1309.2 L674.8,1309.7 L676.8,1310.2 L678.8,1310.7 L680.8,1311.1 L682.8,1311.6 L684.8,1312.1 L686.8,1312.5 L688.8,1313.0 L690.8,1313.5 L692.8,1313.9 L694.8,1314.3 L696.8,1314.8 L698.8,1315.2 L700.8,1315.7 L702.8,1316.1 L704.8,1316.5 L706.8,1316.9 L708.8,1317.4 L710.8,1317.8 L712.8,1318.2 L714.8,1318.6 L716.8,1319.0 L718.8,1319.4 L720.8,1319.7 L722.8,1320.1 L724.8,1320.4 L726.8,1320.7 L728.8,1321.0 L730.8,1321.3 L732.8,1321.6 L734.8,1321.9 L736.8,1322.1 L738.8,1322.4 L740.8,1322.6 L742.8,1322.8 L744.8,1323.0 L746.8,1323.2 L748.8,1323.3 L750.8,1323.5 L752.8,1323.6 L754.8,1323.7 L756.8,1323.8 L758.8,1323.9 L760.8,1324.0 L762.8,1324.0 L764.8,1324.1 L766.8,1324.1 L768.8,1324.1 L770.8,1324.2 L772.8,1324.2 L774.8,1324.3 L776.8,1324.3 L778.8,1324.3 L780.8,1324.4 L782.8,1324.4 L784.8,1324.5 L786.8,1324.5 L788.8,1324.6 L790.8,1324.6 L792.8,1324.6 L794.8,1324.7 L796.8,1324.7 L798.8,1324.7 L800.8,1324.8 L802.8,1324.8 L804.8,1324.8 L806.8,1324.8 L808.8,1324.8 L810.8,1324.9 L812.8,1324.9 L814.8,1324.9 L816.8,1324.9 L818.8,1324.9 L820.8,1324.9 L822.8,1325.0 L824.8,1325.0 L826.8,1325.0 L828.0,1325.0 L828.0,1325.0"/>
<path class="c" d="M201.2,1172.5 L201.8,1179.1 L202.2,1184.9 L202.8,1189.9 L203.2,1194.4 L203.8,1198.7 L204.2,1202.8 L204.8,1206.8 L205.2,1210.6 L205.8,1214.2 L206.2,1217.7 L206.8,1221.1 L207.2,1224.5 L207.8,1227.7 L208.2,1231.0 L208.8,1234.2 L209.2,1237.4 L209.8,1240.5 L210.2,1243.4 L210.8,1246.3 L211.2,1249.0 L211.8,1251.5 L212.2,1253.9 L212.8,1256.3 L213.2,1258.5 L213.8,1260.8 L214.2,1262.9 L214.8,1265.1 L215.2,1267.3 L215.8,1269.4 L216.2,1271.6 L216.8,1273.7 L217.2,1275.7 L217.8,1277.7 L218.2,1279.6 L218.8,1281.4 L219.2,1283.1 L219.8,1284.6 L220.2,1286.2 L220.8,1287.6 L221.2,1289.0 L221.8,1290.4 L222.2,1291.7 L222.8,1293.1 L223.2,1294.4 L223.8,1295.7 L224.2,1297.0 L224.8,1298.2 L225.2,1299.3 L225.8,1300.4 L226.2,1301.3 L226.8,1302.1 L227.2,1302.8 L227.8,1303.5 L228.2,1304.0 L228.8,1304.5 L229.2,1305.0 L229.8,1305.4 L230.2,1305.8 L230.8,1306.2 L231.2,1306.6 L231.8,1306.9 L232.2,1307.3 L232.8,1307.6 L233.2,1307.9 L233.8,1308.1 L234.2,1308.4 L234.8,1308.6 L235.2,1308.8 L235.8,1308.9 L236.2,1309.0 L236.8,1309.1 L237.2,1309.1 L237.8,1309.1 L238.2,1309.2 L238.8,1309.2 L239.2,1309.3 L239.8,1309.4 L240.2,1309.5 L240.8,1309.7 L241.2,1309.8 L241.8,1310.0 L242.2,1310.1 L242.8,1310.3 L243.2,1310.4 L243.8,1310.5 L244.2,1310.6 L244.8,1310.6 L245.2,1310.7 L245.8,1310.7 L246.2,1310.7 L246.8,1310.7 L247.2,1310.8 L247.8,1310.9 L248.2,1311.0 L248.8,1311.2 L249.2,1311.5 L249.8,1311.8 L250.2,1312.2 L250.8,1312.6 L251.2,1313.0 L251.8,1313.4 L252.2,1313.8 L252.8,1314.2 L253.2,1314.6 L253.8,1314.9 L254.2,1315.2 L254.8,1315.5 L255.2,1315.7 L255.8,1316.0 L256.2,1316.2 L256.8,1316.4 L257.2,1316.7 L257.8,1316.9 L258.2,1317.2 L258.8,1317.4 L259.2,1317.7 L259.8,1318.0 L260.2,1318.4 L260.8,1318.7 L261.2,1319.0 L261.8,1319.4 L262.2,1319.7 L262.8,1320.0 L263.2,1320.3 L263.8,1320.5 L264.2,1320.8 L264.8,1321.0 L265.2,1321.2 L265.8,1321.4 L266.2,1321.5 L266.8,1321.6 L267.2,1321.7 L267.8,1321.8 L268.2,1321.8 L268.8,1321.8 L269.2,1321.7 L269.8,1321.6 L270.2,1321.5 L270.8,1321.3 L271.2,1321.1 L271.8,1320.9 L272.2,1320.6 L272.8,1320.4 L273.2,1320.1 L273.8,1319.8 L274.2,1319.5 L274.8,1319.1 L275.2,1318.8 L275.8,1318.4 L276.2,1318.0 L276.8,1317.5 L277.2,1317.1 L277.8,1316.5 L278.2,1316.0 L278.8,1315.4 L279.2,1314.7 L279.8,1314.1 L280.2,1313.4 L280.8,1312.7 L281.2,1311.9 L281.8,1311.1 L282.2,1310.3 L282.8,1309.5 L283.2,1308.6 L283.8,1307.6 L284.2,1306.6 L284.8,1305.5 L285.2,1304.5 L285.8,1303.4 L286.2,1302.4 L286.8,1301.4 L287.2,1300.4 L287.8,1299.4 L288.2,1298.6 L288.8,1297.7 L289.2,1296.9 L289.8,1296.1 L290.2,1295.2 L290.8,1294.4 L291.2,1293.5 L291.8,1292.6 L292.2,1291.7 L292.8,1290.7 L293.2,1289.6 L293.8,1288.4 L294.2,1287.3 L294.8,1286.1 L295.2,1284.9 L295.8,1283.7 L296.2,1282.4 L296.8,1281.2 L297.2,1280.0 L297.8,1278.8 L298.2,1277.5 L298.8,1276.3 L299.2,1275.1 L299.8,1273.8 L300.2,1272.6 L300.8,1271.3 L301.2,1270.0 L301.8,1268.7 L302.2,1267.4 L302.8,1266.1 L303.2,1264.7 L303.8,1263.4 L304.2,1262.0 L304.8,1260.6 L305.2,1259.2 L305.8,1257.8 L306.2,1256.3 L306.8,1254.9 L307.2,1253.4 L307.8,1251.9 L308.2,1250.4 L308.8,1248.9 L309.2,1247.3 L309.8,1245.8 L310.2,1244.2 L310.8,1242.6 L311.2,1241.0 L311.8,1239.4 L312.2,1237.8 L312.8,1236.1 L313.2,1234.5 L313.8,1232.8 L314.2,1231.2 L314.8,1229.5 L315.2,1227.8 L315.8,1226.1 L316.2,1224.4 L316.8,1222.7 L317.2,1221.0 L317.8,1219.3 L318.2,1217.6 L318.8,1215.9 L319.2,1214.2 L319.8,1212.5 L320.2,1210.9 L320.8,1209.2 L321.2,1207.5 L321.8,1205.9 L322.2,1204.3 L322.8,1202.7 L323.2,1201.1 L323.8,1199.5 L324.2,1198.0 L324.8,1196.4 L325.2,1194.9 L325.8,1193.4 L326.2,1192.0 L326.8,1190.5 L327.2,1189.1 L327.8,1187.7 L328.2,1186.3 L328.8,1184.9 L329.2,1183.6 L329.8,1182.2 L330.2,1180.9 L330.8,1179.6 L331.2,1178.3 L331.8,1177.1 L332.2,1175.8 L332.8,1174.6 L333.2,1173.3 L333.8,1172.1 L334.2,1170.9 L334.8,1169.7 L335.2,1168.5 L335.8,1167.3 L336.2,1166.1 L336.8,1165.0 L337.2,1163.8 L337.8,1162.6 L338.2,1161.5 L338.8,1160.3 L339.2,1159.2 L339.8,1158.0 L340.2,1156.9 L340.8,1155.8 L341.2,1154.6 L341.8,1153.5 L342.2,1152.4 L342.8,1151.3 L343.2,1150.1 L343.8,1149.0 L344.2,1147.9 L344.8,1146.8 L345.2,1145.7 L345.8,1144.6 L346.2,1143.5 L346.8,1142.5 L347.2,1141.4 L347.8,1140.3 L348.2,1139.2 L348.8,1138.2 L349.2,1137.1 L349.8,1136.1 L350.2,1135.0 L350.8,1134.0 L351.2,1133.0 L351.8,1131.9 L352.2,1130.9 L352.8,1129.9 L353.2,1128.9 L353.8,1127.9 L354.2,1126.9 L354.8,1126.0 L355.2,1125.0 L355.8,1124.1 L356.2,1123.1 L356.8,1122.2 L357.2,1121.3 L357.8,1120.3 L358.2,1119.4 L358.8,1118.5 L359.2,1117.6 L359.8,1116.8 L360.2,1115.9 L360.8,1115.0 L361.2,1114.2 L361.8,1113.3 L362.2,1112.5 L362.8,1111.7 L363.2,1110.8 L363.8,1110.0 L364.2,1109.2 L364.8,1108.4 L365.2,1107.6 L365.8,1106.8 L366.2,1106.0 L366.8,1105.2 L367.2,1104.4 L367.8,1103.6 L368.2,1102.9 L368.8,1102.1 L369.2,1101.3 L369.8,1100.6 L370.2,1099.8 L370.8,1099.1 L371.2,1098.3 L371.8,1097.6 L372.2,1096.8 L372.8,1096.1 L373.2,1095.4 L373.8,1094.6 L374.2,1093.9 L374.8,1093.2 L375.2,1092.5 L375.8,1091.8 L376.2,1091.1 L376.8,1090.4 L377.2,1089.7 L377.8,1089.0 L378.2,1088.3 L378.8,1087.6 L379.2,1087.0 L379.8,1086.3 L380.2,1085.6 L380.8,1085.0 L381.2,1084.3 L381.8,1083.7 L382.2,1083.0 L382.8,1082.4 L383.2,1081.7 L383.8,1081.1 L384.2,1080.4 L384.8,1079.8 L385.2,1079.2 L385.8,1078.6 L386.2,1077.9 L386.8,1077.3 L387.2,1076.7 L387.8,1076.1 L388.2,1075.5 L388.8,1074.9 L389.2,1074.3 L389.8,1073.7 L390.2,1073.1 L390.8,1072.5 L391.2,1071.9 L391.8,1071.3 L392.2,1070.7 L392.8,1070.1 L393.2,1069.6 L393.8,1069.0 L394.2,1068.4 L394.8,1067.8 L395.2,1067.3 L395.8,1066.7 L396.2,1066.1 L396.8,1065.6 L397.2,1065.0 L397.8,1064.4 L398.2,1063.9 L398.8,1063.3 L399.2,1062.7 L399.8,1062.2 L400.2,1061.6 L400.8,1061.0 L401.2,1060.5 L401.8,1059.9 L402.2,1059.3 L402.8,1058.7 L403.2,1058.2 L403.8,1057.6 L404.2,1057.0 L404.8,1056.4 L405.2,1055.8 L405.8,1055.3 L406.2,1054.7 L406.8,1054.1 L407.2,1053.5 L407.8,1053.0 L408.2,1052.4 L408.8,1051.8 L409.2,1051.3 L409.8,1050.7 L410.2,1050.1 L410.8,1049.6 L411.2,1049.0 L411.8,1048.5 L412.2,1048.0 L412.8,1047.4 L413.2,1046.9 L413.8,1046.4 L414.2,1045.9 L414.8,1045.3 L415.2,1044.8 L415.8,1044.3 L416.2,1043.8 L416.8,1043.3 L417.2,1042.8 L417.8,1042.3 L418.2,1041.9 L418.8,1041.4 L419.2,1040.9 L419.8,1040.4 L420.2,1039.9 L420.8,1039.5 L421.2,1039.0 L421.8,1038.5 L422.2,1038.1 L422.8,1037.6 L423.2,1037.1 L423.8,1036.7 L424.2,1036.2 L424.8,1035.8 L425.2,1035.3 L425.8,1034.9 L426.2,1034.4 L426.8,1034.0 L427.2,1033.5 L427.8,1033.1 L428.2,1032.7 L428.8,1032.2 L429.2,1031.8 L429.8,1031.4 L430.2,1030.9 L430.8,1030.5 L431.2,1030.1 L431.8,1029.7 L432.2,1029.3 L432.8,1028.9 L433.2,1028.5 L433.8,1028.2 L434.2,1027.8 L434.8,1027.4 L435.2,1027.1 L435.8,1026.7 L436.2,1026.4 L436.8,1026.0 L437.2,1025.7 L437.8,1025.4 L438.2,1025.1 L438.8,1024.8 L439.2,1024.5 L439.8,1024.2 L440.2,1023.9 L440.8,1023.6 L441.2,1023.3 L441.8,1023.0 L442.2,1022.8 L442.8,1022.5 L443.2,1022.3 L443.8,1022.0 L444.2,1021.7 L444.8,1021.5 L445.2,1021.3 L445.8,1021.0 L446.2,1020.8 L446.8,1020.6 L447.2,1020.3 L447.8,1020.1 L448.2,1019.9 L448.8,1019.7 L449.2,1019.5 L449.8,1019.3 L450.2,1019.1 L450.8,1018.9 L451.2,1018.7 L451.8,1018.5 L452.2,1018.3 L452.8,1018.1 L453.2,1018.0 L453.8,1017.8 L454.2,1017.6 L454.8,1017.4 L455.2,1017.3 L455.8,1017.1 L456.2,1017.0 L456.8,1016.8 L457.2,1016.7 L457.8,1016.5 L458.2,1016.4 L458.8,1016.2 L459.2,1016.1 L459.8,1015.9 L460.2,1015.8 L460.8,1015.6 L461.2,1015.5 L461.8,1015.4 L462.2,1015.2 L462.8,1015.1 L463.2,1014.9 L463.8,1014.8 L464.2,1014.6 L464.8,1014.5 L465.2,1014.4 L465.8,1014.2 L466.2,1014.0 L466.8,1013.9 L467.2,1013.7 L467.8,1013.6 L468.2,1013.4 L468.8,1013.2 L469.2,1013.1 L469.8,1012.9 L470.2,1012.7 L470.8,1012.6 L471.2,1012.4 L471.8,1012.2 L472.2,1012.0 L472.8,1011.8 L473.2,1011.7 L473.8,1011.5 L474.2,1011.3 L474.8,1011.1 L475.2,1010.9 L475.8,1010.7 L476.2,1010.5 L476.8,1010.3 L477.2,1010.1 L477.8,1009.9 L478.2,1009.7 L478.8,1009.5 L479.2,1009.3 L479.8,1009.1 L480.2,1008.9 L480.8,1008.7 L481.2,1008.5 L481.8,1008.2 L482.2,1008.0 L482.8,1007.8 L483.2,1007.6 L483.8,1007.4 L484.2,1007.2 L484.8,1006.9 L485.2,1006.7 L485.8,1006.5 L486.2,1006.3 L486.8,1006.0 L487.2,1005.8 L487.8,1005.6 L488.2,1005.3 L488.8,1005.1 L489.2,1004.8 L489.8,1004.5 L490.2,1004.3 L490.8,1004.0 L491.2,1003.7 L491.8,1003.4 L492.2,1003.1 L492.8,1002.8 L493.2,1002.5 L493.8,1002.2 L494.2,1001.9 L494.8,1001.6 L495.2,1001.2 L495.8,1000.9 L496.2,1000.5 L496.8,1000.2 L497.2,999.8 L497.8,999.4 L498.2,999.1 L498.8,998.7 L499.2,998.3 L499.8,997.9 L500.2,997.6 L500.8,997.2 L501.2,996.8 L501.8,996.4 L502.2,996.0 L502.8,995.7 L503.2,995.3 L503.8,994.9 L504.2,994.5 L504.8,994.2 L505.2,993.8 L505.8,993.5 L506.2,993.1 L506.8,992.7 L507.2,992.3 L507.8,992.0 L508.2,991.6 L508.8,991.2 L509.2,990.8 L509.8,990.4 L510.2,990.1 L510.8,989.7 L511.2,989.3 L511.8,988.9 L512.2,988.6 L512.8,988.2 L513.2,987.8 L513.8,987.5 L514.2,987.1 L514.8,986.8 L515.2,986.4 L515.8,986.1 L516.2,985.8 L516.8,985.5 L517.2,985.2 L517.8,984.9 L518.2,984.6 L518.8,984.3 L519.2,984.0 L519.8,983.8 L520.2,983.5 L520.8,983.3 L521.2,983.1 L521.8,982.9 L522.2,982.6 L522.8,982.4 L523.2,982.3 L523.8,982.1 L524.2,981.9 L524.8,981.8 L525.2,981.6 L525.8,981.5 L526.2,981.3 L526.8,981.2 L527.2,981.1 L527.8,980.9 L528.2,980.8 L528.8,980.7 L529.2,980.6 L529.8,980.5 L530.2,980.5 L530.8,980.4 L531.2,980.3 L531.8,980.2 L532.2,980.2 L532.8,980.2 L533.2,980.1 L533.8,980.1 L534.2,980.1 L534.8,980.1 L535.2,980.1 L535.8,980.1 L536.2,980.1 L536.8,980.2 L537.2,980.2 L537.8,980.3 L538.2,980.4 L538.8,980.4 L539.2,980.5 L539.8,980.6 L540.2,980.8 L540.8,980.9 L541.2,981.0 L541.8,981.2 L542.2,981.3 L542.8,981.5 L543.2,981.6 L543.8,981.8 L544.2,982.0 L544.8,982.2 L545.2,982.4 L545.8,982.7 L546.2,982.9 L546.8,983.1 L547.2,983.4 L547.8,983.6 L548.2,983.9 L548.8,984.2 L549.2,984.5 L549.8,984.8 L550.2,985.1 L550.8,985.4 L551.2,985.7 L551.8,986.1 L552.2,986.4 L552.8,986.8 L553.2,987.1 L553.8,987.5 L554.2,987.9 L554.8,988.3 L555.2,988.7 L555.8,989.0 L556.2,989.5 L556.8,989.9 L557.2,990.3 L557.8,990.7 L558.2,991.2 L558.8,991.6 L559.2,992.1 L559.8,992.5 L560.2,993.0 L560.8,993.5 L561.2,994.0 L561.8,994.4 L562.2,995.0 L562.8,995.5 L563.2,996.0 L563.8,996.5 L564.2,997.0 L564.8,997.5 L565.2,998.1 L565.8,998.6 L566.2,999.1 L566.8,999.7 L567.2,1000.2 L567.8,1000.8 L568.2,1001.4 L568.8,1001.9 L569.2,1002.6 L569.8,1003.2 L570.2,1003.8 L570.8,1004.5 L571.2,1005.1 L571.8,1005.8 L572.2,1006.5 L572.8,1007.1 L573.2,1007.7 L573.8,1008.3 L574.2,1008.9 L574.8,1009.5 L575.2,1010.0 L575.8,1010.5 L576.2,1011.0 L576.8,1011.5 L577.2,1012.0 L577.8,1012.5 L578.2,1013.0 L578.8,1013.5 L579.2,1013.9 L579.8,1014.3 L580.2,1014.7 L580.8,1015.1 L581.2,1015.5 L581.8,1015.8 L582.2,1016.1 L582.8,1016.4 L583.2,1016.7 L583.8,1016.9 L584.2,1017.1 L584.8,1017.4 L585.2,1017.6 L585.8,1017.7 L586.2,1017.9 L586.8,1018.0 L587.2,1018.1 L587.8,1018.2 L588.2,1018.3 L588.8,1018.3 L589.2,1018.3 L589.8,1018.3 L590.2,1018.2 L590.8,1018.1 L591.2,1018.0 L591.8,1017.9 L592.2,1017.7 L592.8,1017.5 L593.2,1017.3 L593.8,1017.1 L594.2,1016.8 L594.8,1016.5 L595.2,1016.2 L595.8,1015.9 L596.2,1015.5 L596.8,1015.1 L597.2,1014.7 L597.8,1014.3 L598.2,1013.8 L598.8,1013.3 L599.2,1012.8 L599.8,1012.2 L600.2,1011.6 L600.8,1011.0 L601.2,1010.4 L601.8,1009.7 L602.2,1009.0 L602.8,1008.3 L603.2,1007.6 L603.8,1006.9 L604.2,1006.1 L604.8,1005.4 L605.2,1004.6 L605.8,1003.8 L606.2,1003.0 L606.8,1002.1 L607.2,1001.2 L607.8,1000.2 L608.2,999.3 L608.8,998.3 L609.2,997.4 L609.8,996.4 L610.2,995.5 L610.8,994.6 L611.2,993.7 L611.8,992.8 L612.2,991.9 L612.8,991.1 L613.2,990.3 L613.8,989.4 L614.2,988.6 L614.8,987.8 L615.2,987.0 L615.8,986.2 L616.2,985.5 L616.8,984.7 L617.2,984.0 L617.8,983.3 L618.2,982.6 L618.8,981.9 L619.2,981.3 L619.8,980.8 L620.2,980.2 L620.8,979.7 L621.2,979.2 L621.8,978.7 L622.2,978.3 L622.8,977.9 L623.2,977.5 L623.8,977.2 L624.2,976.9 L624.8,976.7 L625.2,976.5 L625.8,976.3 L626.2,976.1 L626.8,975.9 L627.2,975.8 L627.8,975.7 L628.2,975.6 L628.8,975.5 L629.2,975.4 L629.8,975.3 L630.2,975.3 L630.8,975.2 L631.2,975.1 L631.8,975.1 L632.2,975.0 L632.8,975.0 L633.2,975.0 L633.8,974.9 L634.2,974.9 L634.8,974.9 L635.2,974.9 L635.8,974.9 L636.2,974.8 L636.8,974.8 L637.2,974.8 L637.8,974.8 L638.2,974.8 L638.8,974.8 L639.2,974.8 L639.8,974.9 L640.2,974.9 L640.8,974.9 L641.2,974.9 L641.8,974.9 L642.2,975.0 L642.8,975.0 L643.2,975.1 L643.8,975.1 L644.2,975.2 L644.8,975.3 L645.2,975.4 L645.8,975.5 L646.2,975.6 L646.8,975.7 L647.2,975.8 L647.8,975.9 L648.2,976.0 L648.8,976.2 L649.2,976.3 L649.8,976.4 L650.2,976.6 L650.8,976.7 L651.2,976.9 L651.8,977.0 L652.2,977.2 L652.8,977.3 L653.2,977.5 L653.8,977.6 L654.2,977.8 L654.8,977.9 L655.2,978.1 L655.8,978.2 L656.2,978.4 L656.8,978.5 L657.2,978.6 L657.8,978.8 L658.2,978.9 L658.8,979.1 L659.2,979.2 L659.8,979.4 L660.2,979.5 L660.8,979.7 L661.2,979.8 L661.8,980.0 L662.2,980.1 L662.8,980.3 L663.2,980.5 L663.8,980.6 L664.2,980.8 L664.8,981.0 L665.2,981.2 L665.8,981.3 L666.2,981.5 L666.8,981.7 L667.2,981.9 L667.8,982.1 L668.2,982.3 L668.8,982.5 L669.2,982.7 L669.8,982.9 L670.2,983.1 L670.8,983.3 L671.2,983.6 L671.8,983.8 L672.2,984.0 L672.8,984.2 L673.2,984.4 L673.8,984.7 L674.2,984.9 L674.8,985.1 L675.2,985.3 L675.8,985.6 L676.2,985.8 L676.8,986.0 L677.2,986.3 L677.8,986.5 L678.2,986.7 L678.8,987.0 L679.2,987.2 L679.8,987.4 L680.2,987.7 L680.8,987.9 L681.2,988.2 L681.8,988.4 L682.2,988.6 L682.8,988.9 L683.2,989.1 L683.8,989.3 L684.2,989.6 L684.8,989.8 L685.2,990.1 L685.8,990.3 L686.2,990.5 L686.8,990.8 L687.2,991.0 L687.8,991.3 L688.2,991.5 L688.8,991.8 L689.2,992.0 L689.8,992.3 L690.2,992.5 L690.8,992.7 L691.2,993.0 L691.8,993.3 L692.2,993.5 L692.8,993.8 L693.2,994.0 L693.8,994.3 L694.2,994.5 L694.8,994.8 L695.2,995.0 L695.8,995.3 L696.2,995.6 L696.8,995.8 L697.2,996.1 L697.8,996.4 L698.2,996.7 L698.8,996.9 L699.2,997.2 L699.8,997.5 L700.2,997.8 L700.8,998.1 L701.2,998.4 L701.8,998.6 L702.2,998.9 L702.8,999.2 L703.2,999.5 L703.8,999.8 L704.2,1000.1 L704.8,1000.4 L705.2,1000.7 L705.8,1001.0 L706.2,1001.3 L706.8,1001.6 L707.2,1002.0 L707.8,1002.3 L708.2,1002.6 L708.8,1002.9 L709.2,1003.3 L709.8,1003.6 L710.2,1003.9 L710.8,1004.2 L711.2,1004.6 L711.8,1004.9 L712.2,1005.2 L712.8,1005.5 L713.2,1005.9 L713.8,1006.2 L714.2,1006.5 L714.8,1006.9 L715.2,1007.2 L715.8,1007.6 L716.2,1007.9 L716.8,1008.3 L717.2,1008.7 L717.8,1009.1 L718.2,1009.6 L718.8,1010.0 L719.2,1010.5 L719.8,1011.0 L720.2,1011.5 L720.8,1012.1 L721.2,1012.7 L721.8,1013.3 L722.2,1013.9 L722.8,1014.6 L723.2,1015.3 L723.8,1016.0 L724.2,1016.8 L724.8,1017.6 L725.2,1018.4 L725.8,1019.3 L726.2,1020.2 L726.8,1021.1 L727.2,1022.0 L727.8,1023.0 L728.2,1024.0 L728.8,1025.0 L729.2,1026.1 L729.8,1027.1 L730.2,1028.2 L730.8,1029.4 L731.2,1030.5 L731.8,1031.7 L732.2,1033.0 L732.8,1034.2 L733.2,1035.4 L733.8,1036.7 L734.2,1038.0 L734.8,1039.3 L735.2,1040.7 L735.8,1042.0 L736.2,1043.4 L736.8,1044.9 L737.2,1046.3 L737.8,1047.8 L738.2,1049.3 L738.8,1050.9 L739.2,1052.4 L739.8,1053.9 L740.2,1055.5 L740.8,1057.0 L741.2,1058.6 L741.8,1060.2 L742.2,1061.7 L742.8,1063.3 L743.2,1064.9 L743.8,1066.5 L744.2,1068.1 L744.8,1069.7 L745.2,1071.4 L745.8,1073.0 L746.2,1074.6 L746.8,1076.3 L747.2,1077.9 L747.8,1079.5 L748.2,1081.0 L748.8,1082.5 L749.2,1083.9 L749.8,1085.3 L750.2,1086.5 L750.8,1087.7 L751.2,1088.9 L751.8,1089.9 L752.2,1090.8 L752.8,1091.7 L753.2,1092.4 L753.8,1092.9 L754.2,1093.2 L754.8,1093.2 L755.2,1093.3 L755.8,1093.2 L756.2,1093.2 L756.8,1092.9 L757.2,1092.5 L757.8,1091.7 L758.2,1090.7 L758.8,1089.3 L759.2,1087.7 L759.8,1086.0 L760.2,1084.0 L760.8,1082.0 L761.2,1080.0 L761.8,1077.8 L762.2,1075.4 L762.8,1073.0 L763.2,1070.5 L763.8,1068.0 L764.2,1065.7 L764.8,1063.5 L765.2,1061.6 L765.8,1059.7 L766.2,1058.0 L766.8,1056.4 L767.2,1054.9 L767.8,1053.5 L768.2,1052.3 L768.8,1051.2 L769.2,1050.3 L769.8,1049.5 L770.2,1048.9 L770.8,1048.5 L771.2,1048.2 L771.8,1048.1 L772.2,1048.0 L772.8,1048.0 L773.2,1048.0 L773.8,1048.1 L774.2,1048.3 L774.8,1048.5 L775.2,1048.6 L775.8,1048.8 L776.2,1049.1 L776.8,1049.3 L777.2,1049.5 L777.8,1049.7 L778.2,1049.9 L778.8,1050.1 L779.2,1050.3 L779.8,1050.4 L780.2,1050.6 L780.8,1050.7 L781.2,1050.8 L781.8,1051.0 L782.2,1051.1 L782.8,1051.2 L783.2,1051.4 L783.8,1051.5 L784.2,1051.6 L784.8,1051.8 L785.2,1051.9 L785.8,1052.0 L786.2,1052.1 L786.8,1052.2 L787.2,1052.4 L787.8,1052.5 L788.2,1052.6 L788.8,1052.7 L789.2,1052.8 L789.8,1052.9 L790.2,1053.1 L790.8,1053.2 L791.2,1053.3 L791.8,1053.4 L792.2,1053.5 L792.8,1053.7 L793.2,1053.8 L793.8,1053.9 L794.2,1054.0 L794.8,1054.1 L795.2,1054.2 L795.8,1054.4 L796.2,1054.5 L796.8,1054.5 L797.2,1054.6 L797.8,1054.7 L798.2,1054.8 L798.8,1054.9 L799.2,1054.9 L799.8,1055.0 L800.2,1055.0 L800.8,1055.1 L801.2,1055.1 L801.8,1055.1 L802.2,1055.2 L802.8,1055.2 L803.2,1055.2 L803.8,1055.2 L804.2,1055.2 L804.8,1055.2 L805.2,1055.2 L805.8,1055.2 L806.2,1055.2 L806.8,1055.2 L807.2,1055.2 L807.8,1055.2 L808.2,1055.2 L808.8,1055.2 L809.2,1055.2 L809.8,1055.2 L810.2,1055.2 L810.8,1055.1 L811.2,1055.1 L811.8,1055.1 L812.2,1055.0 L812.8,1055.0 L813.2,1054.9 L813.8,1054.9 L814.2,1054.8 L814.8,1054.7 L815.2,1054.7 L815.8,1054.6 L816.2,1054.5 L816.8,1054.4 L817.2,1054.3 L817.8,1054.2 L818.2,1054.1 L818.8,1054.0 L819.2,1053.9 L819.8,1053.8 L820.2,1053.6 L820.8,1053.5 L821.2,1053.4 L821.8,1053.2 L822.2,1053.1 L822.8,1052.9 L823.2,1052.7 L823.8,1052.5 L824.2,1052.3 L824.8,1052.0 L825.2,1051.7 L825.8,1051.5 L826.2,1051.1 L826.8,1050.8 L827.2,1050.5 L827.8,1050.1 L828.0,1050.0"/>
<text class="bd" transform="translate(129.0,955.0) scale(0.983,1)">BH-1.0</text>
<text class="dt" transform="translate(741.6,972.5)">DTA (µV)</text>
<text class="an" transform="translate(176.5,1338.5) scale(0.955,1)">71°C</text>
<text class="an" transform="translate(248.7,1353.5) scale(0.955,1)">138°C</text>
<text class="an" transform="translate(548.2,1055.0) scale(0.955,1)">628°C</text>
<text class="an" transform="translate(715.9,1126.2) scale(0.955,1)">884°C</text>
<text class="ex" text-anchor="middle" transform="translate(975.5,1157.6) scale(0.965,1) rotate(-90)">EXO</text>
<path d="M996.6,1208.3 V1086.8" stroke="#000" stroke-width="4.1" stroke-linecap="round" fill="none"/>
<path d="M996.6,1068.7 L1002.1,1088.8 L991.1,1088.8 Z" fill="#000" stroke="#000" stroke-width="3.4" stroke-linejoin="round"/>
<text class="ax" text-anchor="middle" style="font-size:42.3px" transform="translate(31.7,1169.6) scale(0.965,1) rotate(-90)">Mass Loss (%)</text>
</g>
<g id="p4">
<rect class="f" x="1153.60" y="12.60" width="775.60" height="453.15"/>
<path class="t" d="M1218.23,12.60 v10.30 M1282.87,12.60 v5.60 M1347.50,12.60 v10.30 M1412.13,12.60 v5.60 M1476.77,12.60 v10.30 M1541.40,12.60 v5.60 M1606.03,12.60 v10.30 M1670.67,12.60 v5.60 M1735.30,12.60 v10.30 M1799.93,12.60 v5.60 M1864.57,12.60 v10.30 M1153.60,465.75 h-10.30 M1153.60,440.57 h-5.60 M1153.60,415.40 h-10.30 M1153.60,390.23 h-5.60 M1153.60,365.05 h-10.30 M1153.60,339.88 h-5.60 M1153.60,314.70 h-10.30 M1153.60,289.53 h-5.60 M1153.60,264.35 h-10.30 M1153.60,239.17 h-5.60 M1153.60,214.00 h-10.30 M1153.60,188.82 h-5.60 M1153.60,163.65 h-10.30 M1153.60,138.47 h-5.60 M1153.60,113.30 h-10.30 M1153.60,88.12 h-5.60 M1153.60,62.95 h-10.30 M1153.60,37.77 h-5.60 M1153.60,12.60 h-10.30 M1929.20,465.75 h5.60 M1929.20,424.55 h10.30 M1929.20,383.36 h5.60 M1929.20,342.16 h10.30 M1929.20,300.97 h5.60 M1929.20,259.77 h10.30 M1929.20,218.58 h5.60 M1929.20,177.38 h10.30 M1929.20,136.19 h5.60 M1929.20,94.99 h10.30 M1929.20,53.80 h5.60 M1929.20,12.60 h10.30"/>
<text class="tk" text-anchor="end" style="font-size:31px" transform="translate(1136.4,20.6) scale(0.940,1)">1</text>
<text class="tk" text-anchor="end" style="font-size:31px" transform="translate(1136.4,70.9) scale(0.940,1)">0</text>
<text class="tk" text-anchor="end" style="font-size:31px" transform="translate(1136.4,121.3) scale(0.940,1)">-1</text>
<text class="tk" text-anchor="end" style="font-size:31px" transform="translate(1136.4,171.6) scale(0.940,1)">-2</text>
<text class="tk" text-anchor="end" style="font-size:31px" transform="translate(1136.4,222.0) scale(0.940,1)">-3</text>
<text class="tk" text-anchor="end" style="font-size:31px" transform="translate(1136.4,272.4) scale(0.940,1)">-4</text>
<text class="tk" text-anchor="end" style="font-size:31px" transform="translate(1136.4,322.7) scale(0.940,1)">-5</text>
<text class="tk" text-anchor="end" style="font-size:31px" transform="translate(1136.4,373.1) scale(0.940,1)">-6</text>
<text class="tk" text-anchor="end" style="font-size:31px" transform="translate(1136.4,423.4) scale(0.940,1)">-7</text>
<text class="tk" style="font-size:29.6px" transform="translate(1947.1,20.0) scale(0.940,1)">15</text>
<text class="tk" style="font-size:29.6px" transform="translate(1947.1,102.4) scale(0.940,1)">10</text>
<text class="tk" style="font-size:29.6px" transform="translate(1947.1,184.8) scale(0.940,1)">5</text>
<text class="tk" style="font-size:29.6px" transform="translate(1947.1,267.2) scale(0.940,1)">0</text>
<text class="tk" style="font-size:29.6px" transform="translate(1947.1,349.6) scale(0.940,1)">-5</text>
<text class="tk" style="font-size:29.6px" transform="translate(1947.1,432.0) scale(0.940,1)">-10</text>
<path class="c" d="M1235.2,62.5 L1237.2,62.6 L1239.2,62.7 L1241.2,62.7 L1243.2,62.9 L1245.2,63.0 L1247.2,63.2 L1249.2,63.4 L1251.2,63.7 L1253.2,64.0 L1255.2,64.4 L1257.2,64.8 L1259.2,65.2 L1261.2,65.7 L1263.2,66.2 L1265.2,66.8 L1267.2,67.4 L1269.2,68.1 L1271.2,68.8 L1273.2,69.6 L1275.2,70.5 L1277.2,71.5 L1279.2,72.5 L1281.2,73.7 L1283.2,74.9 L1285.2,76.3 L1287.2,77.9 L1289.2,79.5 L1291.2,81.3 L1293.2,83.3 L1295.2,85.4 L1297.2,87.6 L1299.2,89.9 L1301.2,92.4 L1303.2,94.9 L1305.2,97.5 L1307.2,100.1 L1309.2,102.6 L1311.2,105.1 L1313.2,107.6 L1315.2,110.0 L1317.2,112.4 L1319.2,114.8 L1321.2,117.1 L1323.2,119.4 L1325.2,121.7 L1327.2,123.9 L1329.2,126.1 L1331.2,128.2 L1333.2,130.4 L1335.2,132.5 L1337.2,134.6 L1339.2,136.6 L1341.2,138.6 L1343.2,140.5 L1345.2,142.3 L1347.2,144.1 L1349.2,145.7 L1351.2,147.3 L1353.2,148.8 L1355.2,150.3 L1357.2,151.7 L1359.2,153.1 L1361.2,154.5 L1363.2,155.9 L1365.2,157.2 L1367.2,158.5 L1369.2,159.7 L1371.2,160.9 L1373.2,162.1 L1375.2,163.3 L1377.2,164.4 L1379.2,165.5 L1381.2,166.6 L1383.2,167.6 L1385.2,168.7 L1387.2,169.8 L1389.2,170.9 L1391.2,172.0 L1393.2,173.2 L1395.2,174.3 L1397.2,175.5 L1399.2,176.7 L1401.2,177.8 L1403.2,179.0 L1405.2,180.2 L1407.2,181.4 L1409.2,182.6 L1411.2,183.8 L1413.2,185.0 L1415.2,186.2 L1417.2,187.5 L1419.2,188.7 L1421.2,190.0 L1423.2,191.3 L1425.2,192.7 L1427.2,194.0 L1429.2,195.4 L1431.2,196.8 L1433.2,198.1 L1435.2,199.4 L1437.2,200.7 L1439.2,202.0 L1441.2,203.3 L1443.2,204.5 L1445.2,205.8 L1447.2,207.1 L1449.2,208.4 L1451.2,209.7 L1453.2,211.1 L1455.2,212.4 L1457.2,213.8 L1459.2,215.2 L1461.2,216.6 L1463.2,218.0 L1465.2,219.4 L1467.2,220.8 L1469.2,222.2 L1471.2,223.6 L1473.2,225.1 L1475.2,226.5 L1477.2,228.0 L1479.2,229.5 L1481.2,230.9 L1483.2,232.4 L1485.2,233.9 L1487.2,235.4 L1489.2,236.9 L1491.2,238.5 L1493.2,240.0 L1495.2,241.6 L1497.2,243.3 L1499.2,244.9 L1501.2,246.7 L1503.2,248.4 L1505.2,250.2 L1507.2,252.0 L1509.2,253.8 L1511.2,255.6 L1513.2,257.4 L1515.2,259.3 L1517.2,261.1 L1519.2,262.9 L1521.2,264.7 L1523.2,266.4 L1525.2,268.1 L1527.2,269.8 L1529.2,271.5 L1531.2,273.2 L1533.2,274.9 L1535.2,276.7 L1537.2,278.4 L1539.2,280.1 L1541.2,281.9 L1543.2,283.6 L1545.2,285.3 L1547.2,287.1 L1549.2,288.8 L1551.2,290.5 L1553.2,292.2 L1555.2,293.8 L1557.2,295.5 L1559.2,297.2 L1561.2,299.0 L1563.2,300.7 L1565.2,302.5 L1567.2,304.3 L1569.2,306.1 L1571.2,308.0 L1573.2,310.0 L1575.2,312.1 L1577.2,314.3 L1579.2,316.5 L1581.2,318.8 L1583.2,321.1 L1585.2,323.5 L1587.2,325.9 L1589.2,328.4 L1591.2,330.9 L1593.2,333.4 L1595.2,335.9 L1597.2,338.4 L1599.2,341.0 L1601.2,343.5 L1603.2,346.0 L1605.2,348.5 L1607.2,350.9 L1609.2,353.4 L1611.2,355.8 L1613.2,358.2 L1615.2,360.5 L1617.2,362.9 L1619.2,365.2 L1621.2,367.5 L1623.2,369.7 L1625.2,371.9 L1627.2,374.1 L1629.2,376.2 L1631.2,378.3 L1633.2,380.3 L1635.2,382.2 L1637.2,384.1 L1639.2,385.9 L1641.2,387.6 L1643.2,389.2 L1645.2,390.7 L1647.2,392.1 L1649.2,393.4 L1651.2,394.7 L1653.2,395.8 L1655.2,396.8 L1657.2,397.8 L1659.2,398.8 L1661.2,399.7 L1663.2,400.5 L1665.2,401.3 L1667.2,402.1 L1669.2,402.8 L1671.2,403.5 L1673.2,404.1 L1675.2,404.7 L1677.2,405.3 L1679.2,405.8 L1681.2,406.3 L1683.2,406.8 L1685.2,407.3 L1687.2,407.8 L1689.2,408.2 L1691.2,408.7 L1693.2,409.2 L1695.2,409.7 L1697.2,410.1 L1699.2,410.6 L1701.2,411.1 L1703.2,411.6 L1705.2,412.1 L1707.2,412.6 L1709.2,413.1 L1711.2,413.7 L1713.2,414.2 L1715.2,414.8 L1717.2,415.3 L1719.2,415.9 L1721.2,416.5 L1723.2,417.1 L1725.2,417.6 L1727.2,418.2 L1729.2,418.7 L1731.2,419.2 L1733.2,419.7 L1735.2,420.2 L1737.2,420.7 L1739.2,421.2 L1741.2,421.6 L1743.2,422.0 L1745.2,422.4 L1747.2,422.8 L1749.2,423.2 L1751.2,423.6 L1753.2,424.0 L1755.2,424.3 L1757.2,424.7 L1759.2,425.0 L1761.2,425.4 L1763.2,425.7 L1765.2,426.1 L1767.2,426.4 L1769.2,426.7 L1771.2,427.0 L1773.2,427.3 L1775.2,427.6 L1777.2,427.9 L1779.2,428.1 L1781.2,428.4 L1783.2,428.6 L1785.2,428.8 L1787.2,429.0 L1789.2,429.1 L1791.2,429.2 L1793.2,429.3 L1795.2,429.4 L1797.2,429.5 L1799.2,429.6 L1801.2,429.7 L1803.2,429.8 L1805.2,429.9 L1807.2,429.9 L1809.2,430.0 L1811.2,430.1 L1813.2,430.2 L1815.2,430.3 L1817.2,430.5 L1819.2,430.6 L1821.2,430.7 L1823.2,430.8 L1825.2,430.9 L1827.2,431.0 L1829.2,431.1 L1831.2,431.1 L1833.2,431.2 L1835.2,431.2 L1837.2,431.3 L1839.2,431.3 L1841.2,431.4 L1843.2,431.4 L1845.2,431.4 L1847.2,431.4 L1849.2,431.4 L1851.2,431.5 L1853.2,431.5 L1855.2,431.5 L1857.2,431.5 L1859.2,431.5 L1861.2,431.5 L1862.8,431.5 L1862.8,431.5"/>
<path class="c" d="M1235.9,267.5 L1236.4,273.0 L1236.9,278.4 L1237.4,283.4 L1237.9,287.9 L1238.4,291.9 L1238.9,295.7 L1239.4,299.3 L1239.9,302.9 L1240.4,306.4 L1240.9,309.9 L1241.4,313.3 L1241.9,316.6 L1242.4,319.9 L1242.9,323.1 L1243.4,326.2 L1243.9,329.2 L1244.4,332.2 L1244.9,335.2 L1245.4,338.1 L1245.9,340.9 L1246.4,343.7 L1246.9,346.4 L1247.4,349.1 L1247.9,351.7 L1248.4,354.2 L1248.9,356.7 L1249.4,359.2 L1249.9,361.6 L1250.4,363.9 L1250.9,366.2 L1251.4,368.4 L1251.9,370.6 L1252.4,372.7 L1252.9,374.8 L1253.4,376.8 L1253.9,378.7 L1254.4,380.5 L1254.9,382.2 L1255.4,383.9 L1255.9,385.4 L1256.4,386.9 L1256.9,388.3 L1257.4,389.7 L1257.9,391.1 L1258.4,392.4 L1258.9,393.7 L1259.4,395.0 L1259.9,396.3 L1260.4,397.5 L1260.9,398.7 L1261.4,399.8 L1261.9,400.8 L1262.4,401.8 L1262.9,402.7 L1263.4,403.5 L1263.9,404.3 L1264.4,405.0 L1264.9,405.7 L1265.4,406.3 L1265.9,406.8 L1266.4,407.3 L1266.9,407.7 L1267.4,408.0 L1267.9,408.3 L1268.4,408.6 L1268.9,408.8 L1269.4,409.0 L1269.9,409.2 L1270.4,409.3 L1270.9,409.4 L1271.4,409.4 L1271.9,409.4 L1272.4,409.3 L1272.9,409.2 L1273.4,409.2 L1273.9,409.2 L1274.4,409.3 L1274.9,409.4 L1275.4,409.6 L1275.9,409.9 L1276.4,410.1 L1276.9,410.5 L1277.4,410.8 L1277.9,411.1 L1278.4,411.4 L1278.9,411.7 L1279.4,412.0 L1279.9,412.3 L1280.4,412.6 L1280.9,412.9 L1281.4,413.1 L1281.9,413.4 L1282.4,413.7 L1282.9,414.0 L1283.4,414.3 L1283.9,414.6 L1284.4,414.9 L1284.9,415.3 L1285.4,415.7 L1285.9,416.1 L1286.4,416.6 L1286.9,417.2 L1287.4,417.9 L1287.9,418.5 L1288.4,419.2 L1288.9,419.8 L1289.4,420.4 L1289.9,420.9 L1290.4,421.5 L1290.9,422.1 L1291.4,422.7 L1291.9,423.2 L1292.4,423.8 L1292.9,424.3 L1293.4,424.9 L1293.9,425.4 L1294.4,425.9 L1294.9,426.4 L1295.4,426.9 L1295.9,427.4 L1296.4,427.8 L1296.9,428.3 L1297.4,428.7 L1297.9,429.1 L1298.4,429.5 L1298.9,429.8 L1299.4,430.2 L1299.9,430.4 L1300.4,430.7 L1300.9,431.0 L1301.4,431.2 L1301.9,431.3 L1302.4,431.4 L1302.9,431.5 L1303.4,431.5 L1303.9,431.5 L1304.4,431.4 L1304.9,431.3 L1305.4,431.1 L1305.9,430.9 L1306.4,430.7 L1306.9,430.4 L1307.4,430.1 L1307.9,429.7 L1308.4,429.3 L1308.9,428.9 L1309.4,428.4 L1309.9,427.8 L1310.4,427.2 L1310.9,426.4 L1311.4,425.7 L1311.9,424.8 L1312.4,423.8 L1312.9,422.7 L1313.4,421.5 L1313.9,420.3 L1314.4,419.2 L1314.9,418.0 L1315.4,417.0 L1315.9,416.0 L1316.4,415.0 L1316.9,414.1 L1317.4,413.2 L1317.9,412.2 L1318.4,411.2 L1318.9,410.2 L1319.4,409.1 L1319.9,408.0 L1320.4,406.8 L1320.9,405.5 L1321.4,404.2 L1321.9,402.8 L1322.4,401.5 L1322.9,400.1 L1323.4,398.9 L1323.9,397.6 L1324.4,396.5 L1324.9,395.5 L1325.4,394.5 L1325.9,393.6 L1326.4,392.7 L1326.9,391.7 L1327.4,390.5 L1327.9,389.2 L1328.4,387.7 L1328.9,386.2 L1329.4,384.6 L1329.9,383.0 L1330.4,381.5 L1330.9,380.0 L1331.4,378.5 L1331.9,377.0 L1332.4,375.5 L1332.9,374.0 L1333.4,372.5 L1333.9,371.0 L1334.4,369.5 L1334.9,368.0 L1335.4,366.5 L1335.9,364.9 L1336.4,363.4 L1336.9,361.8 L1337.4,360.2 L1337.9,358.6 L1338.4,357.1 L1338.9,355.5 L1339.4,353.9 L1339.9,352.3 L1340.4,350.7 L1340.9,349.0 L1341.4,347.4 L1341.9,345.8 L1342.4,344.2 L1342.9,342.5 L1343.4,340.9 L1343.9,339.2 L1344.4,337.6 L1344.9,335.9 L1345.4,334.2 L1345.9,332.6 L1346.4,330.9 L1346.9,329.2 L1347.4,327.5 L1347.9,325.8 L1348.4,324.1 L1348.9,322.5 L1349.4,320.8 L1349.9,319.1 L1350.4,317.4 L1350.9,315.8 L1351.4,314.1 L1351.9,312.4 L1352.4,310.8 L1352.9,309.2 L1353.4,307.6 L1353.9,306.0 L1354.4,304.4 L1354.9,302.8 L1355.4,301.3 L1355.9,299.7 L1356.4,298.2 L1356.9,296.7 L1357.4,295.3 L1357.9,293.8 L1358.4,292.4 L1358.9,291.0 L1359.4,289.6 L1359.9,288.2 L1360.4,286.8 L1360.9,285.5 L1361.4,284.2 L1361.9,282.9 L1362.4,281.6 L1362.9,280.3 L1363.4,279.1 L1363.9,277.8 L1364.4,276.6 L1364.9,275.4 L1365.4,274.2 L1365.9,273.1 L1366.4,271.9 L1366.9,270.8 L1367.4,269.7 L1367.9,268.6 L1368.4,267.6 L1368.9,266.5 L1369.4,265.5 L1369.9,264.5 L1370.4,263.4 L1370.9,262.4 L1371.4,261.4 L1371.9,260.5 L1372.4,259.5 L1372.9,258.5 L1373.4,257.5 L1373.9,256.5 L1374.4,255.6 L1374.9,254.6 L1375.4,253.6 L1375.9,252.6 L1376.4,251.6 L1376.9,250.7 L1377.4,249.7 L1377.9,248.7 L1378.4,247.7 L1378.9,246.7 L1379.4,245.6 L1379.9,244.6 L1380.4,243.6 L1380.9,242.6 L1381.4,241.6 L1381.9,240.6 L1382.4,239.6 L1382.9,238.6 L1383.4,237.6 L1383.9,236.6 L1384.4,235.6 L1384.9,234.6 L1385.4,233.6 L1385.9,232.6 L1386.4,231.7 L1386.9,230.7 L1387.4,229.8 L1387.9,228.9 L1388.4,227.9 L1388.9,227.0 L1389.4,226.1 L1389.9,225.2 L1390.4,224.4 L1390.9,223.5 L1391.4,222.6 L1391.9,221.8 L1392.4,220.9 L1392.9,220.1 L1393.4,219.3 L1393.9,218.4 L1394.4,217.6 L1394.9,216.8 L1395.4,216.0 L1395.9,215.2 L1396.4,214.5 L1396.9,213.7 L1397.4,212.9 L1397.9,212.1 L1398.4,211.4 L1398.9,210.6 L1399.4,209.8 L1399.9,209.1 L1400.4,208.3 L1400.9,207.6 L1401.4,206.8 L1401.9,206.1 L1402.4,205.3 L1402.9,204.6 L1403.4,203.9 L1403.9,203.1 L1404.4,202.4 L1404.9,201.7 L1405.4,201.0 L1405.9,200.2 L1406.4,199.5 L1406.9,198.8 L1407.4,198.1 L1407.9,197.4 L1408.4,196.7 L1408.9,196.0 L1409.4,195.3 L1409.9,194.6 L1410.4,193.9 L1410.9,193.2 L1411.4,192.5 L1411.9,191.8 L1412.4,191.1 L1412.9,190.4 L1413.4,189.7 L1413.9,189.1 L1414.4,188.4 L1414.9,187.7 L1415.4,187.1 L1415.9,186.4 L1416.4,185.8 L1416.9,185.1 L1417.4,184.5 L1417.9,183.8 L1418.4,183.2 L1418.9,182.5 L1419.4,181.9 L1419.9,181.2 L1420.4,180.6 L1420.9,179.9 L1421.4,179.3 L1421.9,178.6 L1422.4,177.9 L1422.9,177.3 L1423.4,176.6 L1423.9,175.9 L1424.4,175.2 L1424.9,174.6 L1425.4,173.9 L1425.9,173.2 L1426.4,172.5 L1426.9,171.8 L1427.4,171.1 L1427.9,170.5 L1428.4,169.8 L1428.9,169.1 L1429.4,168.4 L1429.9,167.8 L1430.4,167.1 L1430.9,166.4 L1431.4,165.7 L1431.9,165.1 L1432.4,164.4 L1432.9,163.8 L1433.4,163.1 L1433.9,162.5 L1434.4,161.9 L1434.9,161.2 L1435.4,160.6 L1435.9,160.0 L1436.4,159.3 L1436.9,158.7 L1437.4,158.1 L1437.9,157.5 L1438.4,156.9 L1438.9,156.3 L1439.4,155.7 L1439.9,155.1 L1440.4,154.5 L1440.9,153.9 L1441.4,153.3 L1441.9,152.7 L1442.4,152.1 L1442.9,151.6 L1443.4,151.0 L1443.9,150.4 L1444.4,149.9 L1444.9,149.3 L1445.4,148.8 L1445.9,148.2 L1446.4,147.7 L1446.9,147.2 L1447.4,146.7 L1447.9,146.2 L1448.4,145.6 L1448.9,145.1 L1449.4,144.6 L1449.9,144.1 L1450.4,143.6 L1450.9,143.2 L1451.4,142.7 L1451.9,142.2 L1452.4,141.7 L1452.9,141.2 L1453.4,140.7 L1453.9,140.3 L1454.4,139.8 L1454.9,139.3 L1455.4,138.9 L1455.9,138.4 L1456.4,137.9 L1456.9,137.5 L1457.4,137.0 L1457.9,136.6 L1458.4,136.1 L1458.9,135.7 L1459.4,135.3 L1459.9,134.8 L1460.4,134.4 L1460.9,133.9 L1461.4,133.5 L1461.9,133.1 L1462.4,132.7 L1462.9,132.3 L1463.4,131.8 L1463.9,131.4 L1464.4,131.0 L1464.9,130.6 L1465.4,130.2 L1465.9,129.8 L1466.4,129.4 L1466.9,129.0 L1467.4,128.7 L1467.9,128.3 L1468.4,127.9 L1468.9,127.5 L1469.4,127.2 L1469.9,126.8 L1470.4,126.4 L1470.9,126.1 L1471.4,125.7 L1471.9,125.4 L1472.4,125.0 L1472.9,124.7 L1473.4,124.4 L1473.9,124.0 L1474.4,123.7 L1474.9,123.4 L1475.4,123.1 L1475.9,122.7 L1476.4,122.4 L1476.9,122.1 L1477.4,121.8 L1477.9,121.5 L1478.4,121.2 L1478.9,120.9 L1479.4,120.6 L1479.9,120.3 L1480.4,120.1 L1480.9,119.8 L1481.4,119.5 L1481.9,119.2 L1482.4,118.9 L1482.9,118.7 L1483.4,118.4 L1483.9,118.1 L1484.4,117.9 L1484.9,117.6 L1485.4,117.4 L1485.9,117.1 L1486.4,116.9 L1486.9,116.6 L1487.4,116.4 L1487.9,116.1 L1488.4,115.9 L1488.9,115.6 L1489.4,115.4 L1489.9,115.1 L1490.4,114.9 L1490.9,114.6 L1491.4,114.4 L1491.9,114.2 L1492.4,113.9 L1492.9,113.7 L1493.4,113.4 L1493.9,113.2 L1494.4,113.0 L1494.9,112.7 L1495.4,112.5 L1495.9,112.2 L1496.4,112.0 L1496.9,111.7 L1497.4,111.5 L1497.9,111.2 L1498.4,111.0 L1498.9,110.7 L1499.4,110.5 L1499.9,110.2 L1500.4,110.0 L1500.9,109.7 L1501.4,109.4 L1501.9,109.2 L1502.4,108.9 L1502.9,108.7 L1503.4,108.4 L1503.9,108.2 L1504.4,107.9 L1504.9,107.6 L1505.4,107.4 L1505.9,107.1 L1506.4,106.9 L1506.9,106.6 L1507.4,106.4 L1507.9,106.1 L1508.4,105.9 L1508.9,105.6 L1509.4,105.4 L1509.9,105.1 L1510.4,104.9 L1510.9,104.6 L1511.4,104.4 L1511.9,104.1 L1512.4,103.9 L1512.9,103.6 L1513.4,103.4 L1513.9,103.2 L1514.4,102.9 L1514.9,102.7 L1515.4,102.4 L1515.9,102.2 L1516.4,102.0 L1516.9,101.7 L1517.4,101.5 L1517.9,101.3 L1518.4,101.0 L1518.9,100.8 L1519.4,100.6 L1519.9,100.3 L1520.4,100.1 L1520.9,99.8 L1521.4,99.6 L1521.9,99.3 L1522.4,99.0 L1522.9,98.8 L1523.4,98.5 L1523.9,98.3 L1524.4,98.0 L1524.9,97.8 L1525.4,97.5 L1525.9,97.3 L1526.4,97.0 L1526.9,96.7 L1527.4,96.4 L1527.9,96.1 L1528.4,95.7 L1528.9,95.3 L1529.4,95.0 L1529.9,94.6 L1530.4,94.2 L1530.9,93.7 L1531.4,93.3 L1531.9,92.8 L1532.4,92.3 L1532.9,91.8 L1533.4,91.3 L1533.9,90.8 L1534.4,90.2 L1534.9,89.7 L1535.4,89.2 L1535.9,88.6 L1536.4,88.1 L1536.9,87.6 L1537.4,87.0 L1537.9,86.5 L1538.4,86.0 L1538.9,85.5 L1539.4,85.1 L1539.9,84.6 L1540.4,84.1 L1540.9,83.7 L1541.4,83.2 L1541.9,82.8 L1542.4,82.3 L1542.9,81.9 L1543.4,81.5 L1543.9,81.0 L1544.4,80.6 L1544.9,80.2 L1545.4,79.8 L1545.9,79.4 L1546.4,79.0 L1546.9,78.6 L1547.4,78.2 L1547.9,77.9 L1548.4,77.5 L1548.9,77.2 L1549.4,76.9 L1549.9,76.6 L1550.4,76.3 L1550.9,76.0 L1551.4,75.7 L1551.9,75.5 L1552.4,75.2 L1552.9,75.0 L1553.4,74.8 L1553.9,74.6 L1554.4,74.4 L1554.9,74.2 L1555.4,74.0 L1555.9,73.8 L1556.4,73.7 L1556.9,73.5 L1557.4,73.4 L1557.9,73.2 L1558.4,73.1 L1558.9,73.0 L1559.4,72.9 L1559.9,72.8 L1560.4,72.7 L1560.9,72.6 L1561.4,72.5 L1561.9,72.4 L1562.4,72.4 L1562.9,72.3 L1563.4,72.3 L1563.9,72.3 L1564.4,72.3 L1564.9,72.2 L1565.4,72.2 L1565.9,72.2 L1566.4,72.2 L1566.9,72.3 L1567.4,72.3 L1567.9,72.3 L1568.4,72.3 L1568.9,72.4 L1569.4,72.4 L1569.9,72.5 L1570.4,72.5 L1570.9,72.6 L1571.4,72.7 L1571.9,72.8 L1572.4,72.8 L1572.9,72.9 L1573.4,73.0 L1573.9,73.1 L1574.4,73.2 L1574.9,73.4 L1575.4,73.5 L1575.9,73.6 L1576.4,73.8 L1576.9,73.9 L1577.4,74.1 L1577.9,74.2 L1578.4,74.4 L1578.9,74.6 L1579.4,74.8 L1579.9,75.0 L1580.4,75.2 L1580.9,75.4 L1581.4,75.6 L1581.9,75.8 L1582.4,76.1 L1582.9,76.3 L1583.4,76.6 L1583.9,76.8 L1584.4,77.1 L1584.9,77.4 L1585.4,77.6 L1585.9,77.9 L1586.4,78.2 L1586.9,78.5 L1587.4,78.8 L1587.9,79.1 L1588.4,79.4 L1588.9,79.8 L1589.4,80.1 L1589.9,80.4 L1590.4,80.8 L1590.9,81.1 L1591.4,81.5 L1591.9,81.8 L1592.4,82.2 L1592.9,82.6 L1593.4,83.0 L1593.9,83.3 L1594.4,83.7 L1594.9,84.1 L1595.4,84.5 L1595.9,84.9 L1596.4,85.4 L1596.9,85.8 L1597.4,86.2 L1597.9,86.6 L1598.4,87.1 L1598.9,87.5 L1599.4,88.0 L1599.9,88.4 L1600.4,88.9 L1600.9,89.4 L1601.4,89.8 L1601.9,90.4 L1602.4,90.9 L1602.9,91.4 L1603.4,92.0 L1603.9,92.5 L1604.4,93.0 L1604.9,93.6 L1605.4,94.1 L1605.9,94.7 L1606.4,95.2 L1606.9,95.7 L1607.4,96.3 L1607.9,96.7 L1608.4,97.2 L1608.9,97.7 L1609.4,98.1 L1609.9,98.5 L1610.4,98.9 L1610.9,99.3 L1611.4,99.6 L1611.9,100.0 L1612.4,100.3 L1612.9,100.7 L1613.4,101.0 L1613.9,101.3 L1614.4,101.5 L1614.9,101.8 L1615.4,102.0 L1615.9,102.2 L1616.4,102.5 L1616.9,102.7 L1617.4,102.8 L1617.9,103.0 L1618.4,103.2 L1618.9,103.3 L1619.4,103.4 L1619.9,103.5 L1620.4,103.6 L1620.9,103.7 L1621.4,103.7 L1621.9,103.8 L1622.4,103.8 L1622.9,103.8 L1623.4,103.8 L1623.9,103.8 L1624.4,103.7 L1624.9,103.7 L1625.4,103.6 L1625.9,103.5 L1626.4,103.4 L1626.9,103.3 L1627.4,103.2 L1627.9,103.1 L1628.4,102.9 L1628.9,102.7 L1629.4,102.5 L1629.9,102.3 L1630.4,102.0 L1630.9,101.7 L1631.4,101.3 L1631.9,100.9 L1632.4,100.5 L1632.9,100.1 L1633.4,99.6 L1633.9,99.0 L1634.4,98.5 L1634.9,97.9 L1635.4,97.3 L1635.9,96.7 L1636.4,96.1 L1636.9,95.4 L1637.4,94.7 L1637.9,94.0 L1638.4,93.3 L1638.9,92.6 L1639.4,91.9 L1639.9,91.1 L1640.4,90.3 L1640.9,89.5 L1641.4,88.6 L1641.9,87.8 L1642.4,86.9 L1642.9,86.0 L1643.4,85.1 L1643.9,84.2 L1644.4,83.3 L1644.9,82.5 L1645.4,81.7 L1645.9,80.9 L1646.4,80.1 L1646.9,79.4 L1647.4,78.7 L1647.9,78.1 L1648.4,77.4 L1648.9,76.8 L1649.4,76.1 L1649.9,75.5 L1650.4,74.9 L1650.9,74.3 L1651.4,73.8 L1651.9,73.2 L1652.4,72.7 L1652.9,72.2 L1653.4,71.8 L1653.9,71.3 L1654.4,70.9 L1654.9,70.5 L1655.4,70.2 L1655.9,69.9 L1656.4,69.6 L1656.9,69.3 L1657.4,69.0 L1657.9,68.8 L1658.4,68.6 L1658.9,68.4 L1659.4,68.2 L1659.9,68.0 L1660.4,67.9 L1660.9,67.7 L1661.4,67.5 L1661.9,67.4 L1662.4,67.2 L1662.9,67.1 L1663.4,66.9 L1663.9,66.8 L1664.4,66.7 L1664.9,66.5 L1665.4,66.4 L1665.9,66.3 L1666.4,66.2 L1666.9,66.1 L1667.4,66.0 L1667.9,66.0 L1668.4,65.9 L1668.9,65.8 L1669.4,65.8 L1669.9,65.8 L1670.4,65.8 L1670.9,65.7 L1671.4,65.7 L1671.9,65.8 L1672.4,65.8 L1672.9,65.8 L1673.4,65.9 L1673.9,65.9 L1674.4,66.0 L1674.9,66.1 L1675.4,66.2 L1675.9,66.2 L1676.4,66.3 L1676.9,66.4 L1677.4,66.5 L1677.9,66.6 L1678.4,66.7 L1678.9,66.8 L1679.4,67.0 L1679.9,67.1 L1680.4,67.2 L1680.9,67.3 L1681.4,67.4 L1681.9,67.5 L1682.4,67.6 L1682.9,67.8 L1683.4,67.9 L1683.9,68.0 L1684.4,68.1 L1684.9,68.2 L1685.4,68.3 L1685.9,68.4 L1686.4,68.5 L1686.9,68.6 L1687.4,68.7 L1687.9,68.8 L1688.4,69.0 L1688.9,69.1 L1689.4,69.2 L1689.9,69.3 L1690.4,69.4 L1690.9,69.5 L1691.4,69.7 L1691.9,69.8 L1692.4,69.9 L1692.9,70.1 L1693.4,70.2 L1693.9,70.4 L1694.4,70.5 L1694.9,70.7 L1695.4,70.9 L1695.9,71.0 L1696.4,71.2 L1696.9,71.4 L1697.4,71.6 L1697.9,71.8 L1698.4,72.1 L1698.9,72.3 L1699.4,72.5 L1699.9,72.8 L1700.4,73.0 L1700.9,73.3 L1701.4,73.5 L1701.9,73.8 L1702.4,74.1 L1702.9,74.3 L1703.4,74.6 L1703.9,74.9 L1704.4,75.2 L1704.9,75.4 L1705.4,75.7 L1705.9,76.0 L1706.4,76.2 L1706.9,76.5 L1707.4,76.7 L1707.9,77.0 L1708.4,77.2 L1708.9,77.5 L1709.4,77.7 L1709.9,77.9 L1710.4,78.1 L1710.9,78.3 L1711.4,78.5 L1711.9,78.7 L1712.4,78.9 L1712.9,79.2 L1713.4,79.4 L1713.9,79.5 L1714.4,79.7 L1714.9,79.9 L1715.4,80.1 L1715.9,80.3 L1716.4,80.5 L1716.9,80.7 L1717.4,80.9 L1717.9,81.1 L1718.4,81.3 L1718.9,81.5 L1719.4,81.7 L1719.9,81.9 L1720.4,82.1 L1720.9,82.3 L1721.4,82.5 L1721.9,82.7 L1722.4,82.9 L1722.9,83.1 L1723.4,83.2 L1723.9,83.4 L1724.4,83.6 L1724.9,83.8 L1725.4,84.0 L1725.9,84.2 L1726.4,84.4 L1726.9,84.6 L1727.4,84.8 L1727.9,85.0 L1728.4,85.2 L1728.9,85.4 L1729.4,85.6 L1729.9,85.8 L1730.4,86.0 L1730.9,86.2 L1731.4,86.4 L1731.9,86.6 L1732.4,86.8 L1732.9,87.0 L1733.4,87.2 L1733.9,87.5 L1734.4,87.7 L1734.9,87.9 L1735.4,88.1 L1735.9,88.4 L1736.4,88.6 L1736.9,88.8 L1737.4,89.1 L1737.9,89.3 L1738.4,89.5 L1738.9,89.8 L1739.4,90.0 L1739.9,90.3 L1740.4,90.5 L1740.9,90.8 L1741.4,91.0 L1741.9,91.3 L1742.4,91.5 L1742.9,91.8 L1743.4,92.0 L1743.9,92.3 L1744.4,92.6 L1744.9,92.8 L1745.4,93.1 L1745.9,93.4 L1746.4,93.7 L1746.9,94.0 L1747.4,94.3 L1747.9,94.6 L1748.4,94.9 L1748.9,95.2 L1749.4,95.5 L1749.9,95.8 L1750.4,96.1 L1750.9,96.5 L1751.4,96.8 L1751.9,97.2 L1752.4,97.5 L1752.9,97.9 L1753.4,98.3 L1753.9,98.7 L1754.4,99.2 L1754.9,99.7 L1755.4,100.2 L1755.9,100.7 L1756.4,101.2 L1756.9,101.8 L1757.4,102.4 L1757.9,103.0 L1758.4,103.7 L1758.9,104.4 L1759.4,105.2 L1759.9,106.0 L1760.4,106.8 L1760.9,107.7 L1761.4,108.6 L1761.9,109.5 L1762.4,110.5 L1762.9,111.5 L1763.4,112.5 L1763.9,113.5 L1764.4,114.6 L1764.9,115.7 L1765.4,116.8 L1765.9,118.0 L1766.4,119.1 L1766.9,120.2 L1767.4,121.4 L1767.9,122.5 L1768.4,123.6 L1768.9,124.8 L1769.4,125.9 L1769.9,127.0 L1770.4,128.2 L1770.9,129.3 L1771.4,130.5 L1771.9,131.7 L1772.4,132.8 L1772.9,134.0 L1773.4,135.2 L1773.9,136.4 L1774.4,137.5 L1774.9,138.7 L1775.4,139.9 L1775.9,141.1 L1776.4,142.3 L1776.9,143.5 L1777.4,144.7 L1777.9,145.9 L1778.4,147.2 L1778.9,148.4 L1779.4,149.7 L1779.9,150.9 L1780.4,152.2 L1780.9,153.4 L1781.4,154.6 L1781.9,155.7 L1782.4,156.8 L1782.9,157.8 L1783.4,158.7 L1783.9,159.6 L1784.4,160.5 L1784.9,161.3 L1785.4,162.1 L1785.9,162.8 L1786.4,163.4 L1786.9,164.0 L1787.4,164.6 L1787.9,165.2 L1788.4,165.6 L1788.9,166.0 L1789.4,166.2 L1789.9,166.3 L1790.4,166.3 L1790.9,166.3 L1791.4,166.2 L1791.9,166.0 L1792.4,165.8 L1792.9,165.4 L1793.4,164.8 L1793.9,163.9 L1794.4,162.8 L1794.9,161.5 L1795.4,160.0 L1795.9,158.4 L1796.4,156.8 L1796.9,155.2 L1797.4,153.6 L1797.9,152.0 L1798.4,150.5 L1798.9,148.9 L1799.4,147.3 L1799.9,145.7 L1800.4,144.2 L1800.9,142.8 L1801.4,141.5 L1801.9,140.3 L1802.4,139.3 L1802.9,138.3 L1803.4,137.5 L1803.9,136.7 L1804.4,136.0 L1804.9,135.4 L1805.4,134.9 L1805.9,134.4 L1806.4,134.0 L1806.9,133.7 L1807.4,133.6 L1807.9,133.6 L1808.4,133.6 L1808.9,133.7 L1809.4,133.9 L1809.9,134.0 L1810.4,134.2 L1810.9,134.5 L1811.4,134.7 L1811.9,135.0 L1812.4,135.3 L1812.9,135.5 L1813.4,135.8 L1813.9,136.1 L1814.4,136.4 L1814.9,136.7 L1815.4,136.9 L1815.9,137.2 L1816.4,137.4 L1816.9,137.7 L1817.4,138.0 L1817.9,138.2 L1818.4,138.5 L1818.9,138.7 L1819.4,139.0 L1819.9,139.3 L1820.4,139.5 L1820.9,139.8 L1821.4,140.1 L1821.9,140.3 L1822.4,140.6 L1822.9,140.8 L1823.4,141.1 L1823.9,141.3 L1824.4,141.6 L1824.9,141.8 L1825.4,142.0 L1825.9,142.2 L1826.4,142.5 L1826.9,142.7 L1827.4,142.8 L1827.9,143.0 L1828.4,143.2 L1828.9,143.3 L1829.4,143.5 L1829.9,143.6 L1830.4,143.8 L1830.9,143.9 L1831.4,144.0 L1831.9,144.1 L1832.4,144.2 L1832.9,144.3 L1833.4,144.4 L1833.9,144.5 L1834.4,144.6 L1834.9,144.7 L1835.4,144.8 L1835.9,144.9 L1836.4,145.0 L1836.9,145.1 L1837.4,145.2 L1837.9,145.3 L1838.4,145.4 L1838.9,145.4 L1839.4,145.5 L1839.9,145.6 L1840.4,145.7 L1840.9,145.7 L1841.4,145.8 L1841.9,145.9 L1842.4,145.9 L1842.9,145.9 L1843.4,146.0 L1843.9,146.0 L1844.4,146.0 L1844.9,146.0 L1845.4,146.0 L1845.9,146.0 L1846.4,145.9 L1846.9,145.9 L1847.4,145.9 L1847.9,145.8 L1848.4,145.8 L1848.9,145.7 L1849.4,145.6 L1849.9,145.6 L1850.4,145.5 L1850.9,145.4 L1851.4,145.4 L1851.9,145.3 L1852.4,145.2 L1852.9,145.2 L1853.4,145.1 L1853.9,145.0 L1854.4,144.9 L1854.9,144.9 L1855.4,144.8 L1855.9,144.7 L1856.4,144.6 L1856.9,144.6 L1857.4,144.5 L1857.9,144.4 L1858.4,144.3 L1858.9,144.2 L1859.4,144.1 L1859.9,144.0 L1860.4,143.9 L1860.9,143.8 L1861.4,143.7 L1861.9,143.7 L1862.4,143.6 L1862.8,143.5"/>
<text class="bd" transform="translate(1163.0,53.8) scale(0.983,1)">BH-1.5</text>
<text class="dt" transform="translate(1776.8,60.0)">DTA (µV)</text>
<text class="an" transform="translate(1206.8,437.5) scale(0.955,1)">71°C</text>
<text class="an" transform="translate(1296.4,460.0) scale(0.955,1)">137°C</text>
<text class="an" transform="translate(1589.0,141.2) scale(0.955,1)">625°C</text>
<text class="an" transform="translate(1753.4,197.5) scale(0.955,1)">883°C</text>
<text class="ex" text-anchor="middle" transform="translate(2013.4,248.9) scale(0.965,1) rotate(-90)">EXO</text>
<path d="M2034.4,310.6 V187.8" stroke="#000" stroke-width="4.1" stroke-linecap="round" fill="none"/>
<path d="M2034.4,169.7 L2039.9,189.8 L2028.9,189.8 Z" fill="#000" stroke="#000" stroke-width="3.4" stroke-linejoin="round"/>
<text class="ax" text-anchor="middle" style="font-size:42.3px" transform="translate(1101.4,258.3) scale(0.965,1) rotate(-90)">Mass Loss (%)</text>
</g>
<g id="p5">
<rect class="f" x="1153.60" y="465.75" width="775.60" height="452.50"/>
<path class="t" d="M1218.23,465.75 v10.30 M1282.87,465.75 v5.60 M1347.50,465.75 v10.30 M1412.13,465.75 v5.60 M1476.77,465.75 v10.30 M1541.40,465.75 v5.60 M1606.03,465.75 v10.30 M1670.67,465.75 v5.60 M1735.30,465.75 v10.30 M1799.93,465.75 v5.60 M1864.57,465.75 v10.30 M1153.60,918.25 h-10.30 M1153.60,889.97 h-5.60 M1153.60,861.69 h-10.30 M1153.60,833.41 h-5.60 M1153.60,805.12 h-10.30 M1153.60,776.84 h-5.60 M1153.60,748.56 h-10.30 M1153.60,720.28 h-5.60 M1153.60,692.00 h-10.30 M1153.60,663.72 h-5.60 M1153.60,635.44 h-10.30 M1153.60,607.16 h-5.60 M1153.60,578.88 h-10.30 M1153.60,550.59 h-5.60 M1153.60,522.31 h-10.30 M1153.60,494.03 h-5.60 M1929.20,918.25 h10.30 M1929.20,873.00 h5.60 M1929.20,827.75 h10.30 M1929.20,782.50 h5.60 M1929.20,737.25 h10.30 M1929.20,692.00 h5.60 M1929.20,646.75 h10.30 M1929.20,601.50 h5.60 M1929.20,556.25 h10.30 M1929.20,511.00 h5.60 M1929.20,465.75 h10.30"/>
<text class="tk" text-anchor="end" style="font-size:31px" transform="translate(1136.4,530.3) scale(0.940,1)">0</text>
<text class="tk" text-anchor="end" style="font-size:31px" transform="translate(1136.4,586.9) scale(0.940,1)">-1</text>
<text class="tk" text-anchor="end" style="font-size:31px" transform="translate(1136.4,643.4) scale(0.940,1)">-2</text>
<text class="tk" text-anchor="end" style="font-size:31px" transform="translate(1136.4,700.0) scale(0.940,1)">-3</text>
<text class="tk" text-anchor="end" style="font-size:31px" transform="translate(1136.4,756.6) scale(0.940,1)">-4</text>
<text class="tk" text-anchor="end" style="font-size:31px" transform="translate(1136.4,813.1) scale(0.940,1)">-5</text>
<text class="tk" text-anchor="end" style="font-size:31px" transform="translate(1136.4,869.7) scale(0.940,1)">-6</text>
<text class="tk" style="font-size:29.6px" transform="translate(1947.1,563.6) scale(0.940,1)">10</text>
<text class="tk" style="font-size:29.6px" transform="translate(1947.1,654.1) scale(0.940,1)">5</text>
<text class="tk" style="font-size:29.6px" transform="translate(1947.1,744.6) scale(0.940,1)">0</text>
<text class="tk" style="font-size:29.6px" transform="translate(1947.1,835.1) scale(0.940,1)">-5</text>
<path class="c" d="M1236.0,522.5 L1238.0,522.6 L1240.0,522.7 L1242.0,522.8 L1244.0,522.9 L1246.0,523.0 L1248.0,523.2 L1250.0,523.4 L1252.0,523.6 L1254.0,523.9 L1256.0,524.1 L1258.0,524.5 L1260.0,524.9 L1262.0,525.3 L1264.0,525.8 L1266.0,526.3 L1268.0,527.0 L1270.0,527.7 L1272.0,528.5 L1274.0,529.4 L1276.0,530.4 L1278.0,531.5 L1280.0,532.7 L1282.0,534.0 L1284.0,535.4 L1286.0,536.9 L1288.0,538.6 L1290.0,540.3 L1292.0,542.1 L1294.0,543.9 L1296.0,545.8 L1298.0,547.8 L1300.0,549.7 L1302.0,551.7 L1304.0,553.7 L1306.0,555.7 L1308.0,557.7 L1310.0,559.8 L1312.0,561.8 L1314.0,563.8 L1316.0,565.8 L1318.0,567.7 L1320.0,569.7 L1322.0,571.6 L1324.0,573.5 L1326.0,575.3 L1328.0,577.2 L1330.0,578.9 L1332.0,580.7 L1334.0,582.4 L1336.0,584.1 L1338.0,585.7 L1340.0,587.4 L1342.0,588.9 L1344.0,590.5 L1346.0,592.0 L1348.0,593.5 L1350.0,595.0 L1352.0,596.4 L1354.0,597.8 L1356.0,599.2 L1358.0,600.5 L1360.0,601.8 L1362.0,603.0 L1364.0,604.3 L1366.0,605.5 L1368.0,606.7 L1370.0,607.9 L1372.0,609.1 L1374.0,610.3 L1376.0,611.5 L1378.0,612.7 L1380.0,613.9 L1382.0,615.1 L1384.0,616.2 L1386.0,617.4 L1388.0,618.6 L1390.0,619.8 L1392.0,621.0 L1394.0,622.2 L1396.0,623.4 L1398.0,624.6 L1400.0,625.8 L1402.0,627.0 L1404.0,628.2 L1406.0,629.5 L1408.0,630.8 L1410.0,632.1 L1412.0,633.4 L1414.0,634.8 L1416.0,636.1 L1418.0,637.5 L1420.0,638.9 L1422.0,640.2 L1424.0,641.6 L1426.0,642.9 L1428.0,644.2 L1430.0,645.5 L1432.0,646.8 L1434.0,648.1 L1436.0,649.4 L1438.0,650.7 L1440.0,652.1 L1442.0,653.4 L1444.0,654.8 L1446.0,656.2 L1448.0,657.6 L1450.0,659.0 L1452.0,660.5 L1454.0,661.9 L1456.0,663.3 L1458.0,664.7 L1460.0,666.1 L1462.0,667.5 L1464.0,668.9 L1466.0,670.2 L1468.0,671.7 L1470.0,673.1 L1472.0,674.6 L1474.0,676.2 L1476.0,677.8 L1478.0,679.4 L1480.0,681.1 L1482.0,682.7 L1484.0,684.3 L1486.0,685.8 L1488.0,687.3 L1490.0,688.8 L1492.0,690.3 L1494.0,691.8 L1496.0,693.5 L1498.0,695.2 L1500.0,696.9 L1502.0,698.8 L1504.0,700.6 L1506.0,702.5 L1508.0,704.4 L1510.0,706.2 L1512.0,707.9 L1514.0,709.7 L1516.0,711.4 L1518.0,713.1 L1520.0,714.9 L1522.0,716.7 L1524.0,718.5 L1526.0,720.4 L1528.0,722.2 L1530.0,724.1 L1532.0,726.0 L1534.0,727.8 L1536.0,729.6 L1538.0,731.3 L1540.0,733.0 L1542.0,734.7 L1544.0,736.5 L1546.0,738.2 L1548.0,740.0 L1550.0,741.8 L1552.0,743.7 L1554.0,745.6 L1556.0,747.6 L1558.0,749.6 L1560.0,751.7 L1562.0,753.8 L1564.0,756.0 L1566.0,758.2 L1568.0,760.6 L1570.0,763.0 L1572.0,765.5 L1574.0,768.1 L1576.0,770.7 L1578.0,773.4 L1580.0,776.1 L1582.0,778.9 L1584.0,781.7 L1586.0,784.5 L1588.0,787.4 L1590.0,790.2 L1592.0,793.0 L1594.0,795.8 L1596.0,798.5 L1598.0,801.2 L1600.0,803.9 L1602.0,806.5 L1604.0,809.1 L1606.0,811.7 L1608.0,814.2 L1610.0,816.8 L1612.0,819.4 L1614.0,822.0 L1616.0,824.5 L1618.0,827.0 L1620.0,829.5 L1622.0,831.9 L1624.0,834.2 L1626.0,836.5 L1628.0,838.6 L1630.0,840.7 L1632.0,842.6 L1634.0,844.5 L1636.0,846.2 L1638.0,847.8 L1640.0,849.3 L1642.0,850.7 L1644.0,852.0 L1646.0,853.1 L1648.0,854.2 L1650.0,855.2 L1652.0,856.1 L1654.0,857.0 L1656.0,857.7 L1658.0,858.5 L1660.0,859.2 L1662.0,859.8 L1664.0,860.5 L1666.0,861.1 L1668.0,861.7 L1670.0,862.3 L1672.0,862.9 L1674.0,863.5 L1676.0,864.0 L1678.0,864.6 L1680.0,865.1 L1682.0,865.7 L1684.0,866.2 L1686.0,866.8 L1688.0,867.3 L1690.0,867.8 L1692.0,868.3 L1694.0,868.8 L1696.0,869.3 L1698.0,869.8 L1700.0,870.3 L1702.0,870.8 L1704.0,871.3 L1706.0,871.8 L1708.0,872.3 L1710.0,872.8 L1712.0,873.3 L1714.0,873.8 L1716.0,874.3 L1718.0,874.8 L1720.0,875.3 L1722.0,875.8 L1724.0,876.3 L1726.0,876.8 L1728.0,877.3 L1730.0,877.8 L1732.0,878.3 L1734.0,878.7 L1736.0,879.1 L1738.0,879.5 L1740.0,879.9 L1742.0,880.3 L1744.0,880.7 L1746.0,881.1 L1748.0,881.4 L1750.0,881.8 L1752.0,882.1 L1754.0,882.4 L1756.0,882.8 L1758.0,883.1 L1760.0,883.4 L1762.0,883.7 L1764.0,883.9 L1766.0,884.2 L1768.0,884.5 L1770.0,884.7 L1772.0,885.0 L1774.0,885.2 L1776.0,885.4 L1778.0,885.6 L1780.0,885.8 L1782.0,886.0 L1784.0,886.2 L1786.0,886.4 L1788.0,886.5 L1790.0,886.6 L1792.0,886.8 L1794.0,886.9 L1796.0,887.0 L1798.0,887.1 L1800.0,887.1 L1802.0,887.2 L1804.0,887.3 L1806.0,887.4 L1808.0,887.5 L1810.0,887.5 L1812.0,887.6 L1814.0,887.7 L1816.0,887.8 L1818.0,887.8 L1820.0,887.9 L1822.0,888.0 L1824.0,888.0 L1826.0,888.1 L1828.0,888.1 L1830.0,888.2 L1832.0,888.2 L1834.0,888.2 L1836.0,888.3 L1838.0,888.3 L1840.0,888.3 L1842.0,888.3 L1844.0,888.3 L1846.0,888.3 L1848.0,888.3 L1850.0,888.3 L1852.0,888.3 L1854.0,888.3 L1856.0,888.3 L1858.0,888.3 L1860.0,888.3 L1862.0,888.3 L1862.8,888.2"/>
<path class="c" d="M1236.1,722.5 L1236.6,728.2 L1237.1,733.8 L1237.6,739.0 L1238.1,743.9 L1238.6,748.7 L1239.1,753.3 L1239.6,757.7 L1240.1,761.7 L1240.6,765.5 L1241.1,769.0 L1241.6,772.4 L1242.1,775.6 L1242.6,778.8 L1243.1,781.9 L1243.6,784.9 L1244.1,788.0 L1244.6,790.9 L1245.1,793.9 L1245.6,796.7 L1246.1,799.5 L1246.6,802.3 L1247.1,804.9 L1247.6,807.4 L1248.1,809.9 L1248.6,812.3 L1249.1,814.6 L1249.6,816.8 L1250.1,819.0 L1250.6,821.1 L1251.1,823.2 L1251.6,825.3 L1252.1,827.2 L1252.6,829.2 L1253.1,831.0 L1253.6,832.8 L1254.1,834.5 L1254.6,836.2 L1255.1,837.8 L1255.6,839.3 L1256.1,840.8 L1256.6,842.2 L1257.1,843.6 L1257.6,844.9 L1258.1,846.1 L1258.6,847.3 L1259.1,848.4 L1259.6,849.4 L1260.1,850.4 L1260.6,851.3 L1261.1,852.2 L1261.6,853.0 L1262.1,853.7 L1262.6,854.4 L1263.1,855.0 L1263.6,855.5 L1264.1,856.0 L1264.6,856.5 L1265.1,857.0 L1265.6,857.4 L1266.1,857.7 L1266.6,858.1 L1267.1,858.4 L1267.6,858.6 L1268.1,858.9 L1268.6,859.1 L1269.1,859.3 L1269.6,859.5 L1270.1,859.6 L1270.6,859.7 L1271.1,859.8 L1271.6,859.9 L1272.1,860.0 L1272.6,860.0 L1273.1,860.0 L1273.6,860.0 L1274.1,860.0 L1274.6,859.9 L1275.1,859.9 L1275.6,859.9 L1276.1,859.9 L1276.6,859.8 L1277.1,859.9 L1277.6,859.9 L1278.1,859.9 L1278.6,860.0 L1279.1,860.0 L1279.6,860.1 L1280.1,860.2 L1280.6,860.2 L1281.1,860.3 L1281.6,860.4 L1282.1,860.5 L1282.6,860.5 L1283.1,860.6 L1283.6,860.7 L1284.1,860.9 L1284.6,861.0 L1285.1,861.2 L1285.6,861.4 L1286.1,861.6 L1286.6,861.8 L1287.1,862.2 L1287.6,862.5 L1288.1,862.9 L1288.6,863.2 L1289.1,863.6 L1289.6,863.9 L1290.1,864.2 L1290.6,864.5 L1291.1,864.8 L1291.6,865.1 L1292.1,865.4 L1292.6,865.6 L1293.1,865.9 L1293.6,866.2 L1294.1,866.4 L1294.6,866.6 L1295.1,866.8 L1295.6,866.9 L1296.1,867.1 L1296.6,867.2 L1297.1,867.3 L1297.6,867.5 L1298.1,867.6 L1298.6,867.7 L1299.1,867.7 L1299.6,867.8 L1300.1,867.8 L1300.6,867.8 L1301.1,867.8 L1301.6,867.7 L1302.1,867.6 L1302.6,867.5 L1303.1,867.4 L1303.6,867.1 L1304.1,866.9 L1304.6,866.6 L1305.1,866.3 L1305.6,865.9 L1306.1,865.5 L1306.6,865.1 L1307.1,864.6 L1307.6,864.1 L1308.1,863.6 L1308.6,863.1 L1309.1,862.5 L1309.6,861.9 L1310.1,861.3 L1310.6,860.7 L1311.1,860.0 L1311.6,859.4 L1312.1,858.6 L1312.6,857.9 L1313.1,857.2 L1313.6,856.4 L1314.1,855.6 L1314.6,854.7 L1315.1,853.9 L1315.6,853.0 L1316.1,852.1 L1316.6,851.1 L1317.1,850.1 L1317.6,849.1 L1318.1,848.1 L1318.6,847.1 L1319.1,846.0 L1319.6,845.0 L1320.1,843.9 L1320.6,842.8 L1321.1,841.8 L1321.6,840.7 L1322.1,839.6 L1322.6,838.4 L1323.1,837.3 L1323.6,836.1 L1324.1,834.9 L1324.6,833.7 L1325.1,832.5 L1325.6,831.3 L1326.1,830.0 L1326.6,828.8 L1327.1,827.5 L1327.6,826.2 L1328.1,825.0 L1328.6,823.7 L1329.1,822.4 L1329.6,821.1 L1330.1,819.8 L1330.6,818.5 L1331.1,817.1 L1331.6,815.8 L1332.1,814.4 L1332.6,813.1 L1333.1,811.7 L1333.6,810.3 L1334.1,808.9 L1334.6,807.5 L1335.1,806.1 L1335.6,804.7 L1336.1,803.3 L1336.6,801.9 L1337.1,800.4 L1337.6,799.0 L1338.1,797.6 L1338.6,796.1 L1339.1,794.7 L1339.6,793.2 L1340.1,791.8 L1340.6,790.4 L1341.1,788.9 L1341.6,787.5 L1342.1,786.1 L1342.6,784.6 L1343.1,783.2 L1343.6,781.8 L1344.1,780.3 L1344.6,778.9 L1345.1,777.5 L1345.6,776.0 L1346.1,774.6 L1346.6,773.2 L1347.1,771.7 L1347.6,770.3 L1348.1,768.8 L1348.6,767.4 L1349.1,766.0 L1349.6,764.6 L1350.1,763.1 L1350.6,761.7 L1351.1,760.3 L1351.6,759.0 L1352.1,757.6 L1352.6,756.2 L1353.1,754.9 L1353.6,753.6 L1354.1,752.3 L1354.6,751.0 L1355.1,749.7 L1355.6,748.5 L1356.1,747.3 L1356.6,746.1 L1357.1,744.9 L1357.6,743.7 L1358.1,742.6 L1358.6,741.4 L1359.1,740.3 L1359.6,739.2 L1360.1,738.1 L1360.6,737.1 L1361.1,736.0 L1361.6,735.0 L1362.1,733.9 L1362.6,732.9 L1363.1,731.9 L1363.6,731.0 L1364.1,730.0 L1364.6,729.0 L1365.1,728.1 L1365.6,727.1 L1366.1,726.2 L1366.6,725.3 L1367.1,724.3 L1367.6,723.4 L1368.1,722.5 L1368.6,721.6 L1369.1,720.7 L1369.6,719.9 L1370.1,719.0 L1370.6,718.1 L1371.1,717.2 L1371.6,716.3 L1372.1,715.4 L1372.6,714.5 L1373.1,713.6 L1373.6,712.7 L1374.1,711.7 L1374.6,710.8 L1375.1,709.9 L1375.6,708.9 L1376.1,708.0 L1376.6,707.0 L1377.1,706.0 L1377.6,705.0 L1378.1,704.1 L1378.6,703.1 L1379.1,702.1 L1379.6,701.1 L1380.1,700.1 L1380.6,699.1 L1381.1,698.1 L1381.6,697.1 L1382.1,696.1 L1382.6,695.2 L1383.1,694.2 L1383.6,693.2 L1384.1,692.3 L1384.6,691.3 L1385.1,690.4 L1385.6,689.5 L1386.1,688.5 L1386.6,687.6 L1387.1,686.7 L1387.6,685.8 L1388.1,685.0 L1388.6,684.1 L1389.1,683.2 L1389.6,682.4 L1390.1,681.5 L1390.6,680.7 L1391.1,679.9 L1391.6,679.1 L1392.1,678.3 L1392.6,677.5 L1393.1,676.7 L1393.6,675.9 L1394.1,675.1 L1394.6,674.3 L1395.1,673.6 L1395.6,672.8 L1396.1,672.0 L1396.6,671.3 L1397.1,670.5 L1397.6,669.8 L1398.1,669.1 L1398.6,668.3 L1399.1,667.6 L1399.6,666.9 L1400.1,666.2 L1400.6,665.5 L1401.1,664.8 L1401.6,664.1 L1402.1,663.4 L1402.6,662.7 L1403.1,662.0 L1403.6,661.3 L1404.1,660.7 L1404.6,660.0 L1405.1,659.4 L1405.6,658.7 L1406.1,658.1 L1406.6,657.5 L1407.1,656.8 L1407.6,656.2 L1408.1,655.6 L1408.6,655.0 L1409.1,654.4 L1409.6,653.8 L1410.1,653.2 L1410.6,652.6 L1411.1,652.1 L1411.6,651.5 L1412.1,650.9 L1412.6,650.3 L1413.1,649.8 L1413.6,649.2 L1414.1,648.6 L1414.6,648.1 L1415.1,647.5 L1415.6,646.9 L1416.1,646.3 L1416.6,645.8 L1417.1,645.2 L1417.6,644.6 L1418.1,644.0 L1418.6,643.4 L1419.1,642.8 L1419.6,642.2 L1420.1,641.6 L1420.6,641.1 L1421.1,640.5 L1421.6,639.9 L1422.1,639.3 L1422.6,638.7 L1423.1,638.1 L1423.6,637.5 L1424.1,636.9 L1424.6,636.2 L1425.1,635.6 L1425.6,635.0 L1426.1,634.4 L1426.6,633.8 L1427.1,633.2 L1427.6,632.5 L1428.1,631.9 L1428.6,631.3 L1429.1,630.7 L1429.6,630.0 L1430.1,629.4 L1430.6,628.8 L1431.1,628.2 L1431.6,627.5 L1432.1,626.9 L1432.6,626.3 L1433.1,625.7 L1433.6,625.1 L1434.1,624.5 L1434.6,623.9 L1435.1,623.3 L1435.6,622.7 L1436.1,622.2 L1436.6,621.6 L1437.1,621.0 L1437.6,620.5 L1438.1,620.0 L1438.6,619.4 L1439.1,618.9 L1439.6,618.4 L1440.1,617.9 L1440.6,617.4 L1441.1,616.8 L1441.6,616.3 L1442.1,615.8 L1442.6,615.3 L1443.1,614.8 L1443.6,614.3 L1444.1,613.8 L1444.6,613.3 L1445.1,612.8 L1445.6,612.3 L1446.1,611.8 L1446.6,611.3 L1447.1,610.8 L1447.6,610.2 L1448.1,609.7 L1448.6,609.2 L1449.1,608.7 L1449.6,608.2 L1450.1,607.7 L1450.6,607.2 L1451.1,606.6 L1451.6,606.1 L1452.1,605.6 L1452.6,605.1 L1453.1,604.6 L1453.6,604.1 L1454.1,603.6 L1454.6,603.1 L1455.1,602.6 L1455.6,602.1 L1456.1,601.7 L1456.6,601.2 L1457.1,600.7 L1457.6,600.3 L1458.1,599.8 L1458.6,599.4 L1459.1,599.0 L1459.6,598.5 L1460.1,598.1 L1460.6,597.7 L1461.1,597.3 L1461.6,596.9 L1462.1,596.5 L1462.6,596.1 L1463.1,595.8 L1463.6,595.4 L1464.1,595.0 L1464.6,594.7 L1465.1,594.3 L1465.6,594.0 L1466.1,593.6 L1466.6,593.3 L1467.1,592.9 L1467.6,592.6 L1468.1,592.3 L1468.6,591.9 L1469.1,591.6 L1469.6,591.3 L1470.1,590.9 L1470.6,590.6 L1471.1,590.3 L1471.6,590.0 L1472.1,589.7 L1472.6,589.3 L1473.1,589.0 L1473.6,588.7 L1474.1,588.4 L1474.6,588.1 L1475.1,587.8 L1475.6,587.5 L1476.1,587.2 L1476.6,586.9 L1477.1,586.5 L1477.6,586.2 L1478.1,585.9 L1478.6,585.7 L1479.1,585.4 L1479.6,585.1 L1480.1,584.8 L1480.6,584.5 L1481.1,584.2 L1481.6,583.9 L1482.1,583.6 L1482.6,583.4 L1483.1,583.1 L1483.6,582.8 L1484.1,582.5 L1484.6,582.3 L1485.1,582.0 L1485.6,581.7 L1486.1,581.5 L1486.6,581.2 L1487.1,580.9 L1487.6,580.7 L1488.1,580.4 L1488.6,580.2 L1489.1,579.9 L1489.6,579.7 L1490.1,579.4 L1490.6,579.2 L1491.1,578.9 L1491.6,578.7 L1492.1,578.4 L1492.6,578.2 L1493.1,577.9 L1493.6,577.7 L1494.1,577.4 L1494.6,577.2 L1495.1,576.9 L1495.6,576.7 L1496.1,576.4 L1496.6,576.2 L1497.1,575.9 L1497.6,575.7 L1498.1,575.4 L1498.6,575.2 L1499.1,574.9 L1499.6,574.7 L1500.1,574.4 L1500.6,574.2 L1501.1,573.9 L1501.6,573.7 L1502.1,573.4 L1502.6,573.1 L1503.1,572.9 L1503.6,572.6 L1504.1,572.3 L1504.6,572.0 L1505.1,571.8 L1505.6,571.5 L1506.1,571.2 L1506.6,570.9 L1507.1,570.6 L1507.6,570.3 L1508.1,570.0 L1508.6,569.7 L1509.1,569.4 L1509.6,569.1 L1510.1,568.8 L1510.6,568.5 L1511.1,568.1 L1511.6,567.8 L1512.1,567.5 L1512.6,567.2 L1513.1,566.8 L1513.6,566.5 L1514.1,566.2 L1514.6,565.8 L1515.1,565.5 L1515.6,565.2 L1516.1,564.8 L1516.6,564.5 L1517.1,564.1 L1517.6,563.8 L1518.1,563.4 L1518.6,563.0 L1519.1,562.7 L1519.6,562.3 L1520.1,561.9 L1520.6,561.5 L1521.1,561.1 L1521.6,560.7 L1522.1,560.3 L1522.6,559.8 L1523.1,559.4 L1523.6,558.9 L1524.1,558.5 L1524.6,558.0 L1525.1,557.6 L1525.6,557.1 L1526.1,556.6 L1526.6,556.1 L1527.1,555.7 L1527.6,555.2 L1528.1,554.7 L1528.6,554.3 L1529.1,553.8 L1529.6,553.4 L1530.1,552.9 L1530.6,552.5 L1531.1,552.0 L1531.6,551.6 L1532.1,551.2 L1532.6,550.8 L1533.1,550.3 L1533.6,549.9 L1534.1,549.5 L1534.6,549.1 L1535.1,548.6 L1535.6,548.2 L1536.1,547.8 L1536.6,547.4 L1537.1,547.0 L1537.6,546.5 L1538.1,546.1 L1538.6,545.7 L1539.1,545.3 L1539.6,544.8 L1540.1,544.4 L1540.6,544.0 L1541.1,543.5 L1541.6,543.1 L1542.1,542.7 L1542.6,542.2 L1543.1,541.8 L1543.6,541.3 L1544.1,540.9 L1544.6,540.4 L1545.1,540.0 L1545.6,539.6 L1546.1,539.1 L1546.6,538.7 L1547.1,538.3 L1547.6,537.9 L1548.1,537.4 L1548.6,537.1 L1549.1,536.7 L1549.6,536.3 L1550.1,535.9 L1550.6,535.6 L1551.1,535.2 L1551.6,534.9 L1552.1,534.6 L1552.6,534.3 L1553.1,534.0 L1553.6,533.7 L1554.1,533.4 L1554.6,533.1 L1555.1,532.8 L1555.6,532.6 L1556.1,532.3 L1556.6,532.1 L1557.1,531.9 L1557.6,531.6 L1558.1,531.4 L1558.6,531.2 L1559.1,531.0 L1559.6,530.7 L1560.1,530.5 L1560.6,530.3 L1561.1,530.1 L1561.6,529.9 L1562.1,529.7 L1562.6,529.5 L1563.1,529.3 L1563.6,529.2 L1564.1,529.0 L1564.6,528.8 L1565.1,528.6 L1565.6,528.4 L1566.1,528.3 L1566.6,528.1 L1567.1,527.9 L1567.6,527.8 L1568.1,527.6 L1568.6,527.4 L1569.1,527.3 L1569.6,527.1 L1570.1,526.9 L1570.6,526.8 L1571.1,526.6 L1571.6,526.5 L1572.1,526.3 L1572.6,526.2 L1573.1,526.0 L1573.6,525.8 L1574.1,525.7 L1574.6,525.5 L1575.1,525.4 L1575.6,525.2 L1576.1,525.1 L1576.6,524.9 L1577.1,524.8 L1577.6,524.6 L1578.1,524.5 L1578.6,524.3 L1579.1,524.2 L1579.6,524.1 L1580.1,524.0 L1580.6,523.8 L1581.1,523.7 L1581.6,523.6 L1582.1,523.5 L1582.6,523.4 L1583.1,523.4 L1583.6,523.3 L1584.1,523.2 L1584.6,523.2 L1585.1,523.2 L1585.6,523.1 L1586.1,523.1 L1586.6,523.1 L1587.1,523.1 L1587.6,523.1 L1588.1,523.2 L1588.6,523.2 L1589.1,523.3 L1589.6,523.3 L1590.1,523.4 L1590.6,523.5 L1591.1,523.6 L1591.6,523.7 L1592.1,523.8 L1592.6,523.9 L1593.1,524.0 L1593.6,524.1 L1594.1,524.3 L1594.6,524.4 L1595.1,524.6 L1595.6,524.8 L1596.1,525.0 L1596.6,525.2 L1597.1,525.4 L1597.6,525.6 L1598.1,525.9 L1598.6,526.1 L1599.1,526.3 L1599.6,526.6 L1600.1,526.8 L1600.6,527.1 L1601.1,527.3 L1601.6,527.6 L1602.1,527.8 L1602.6,528.1 L1603.1,528.3 L1603.6,528.6 L1604.1,528.8 L1604.6,529.0 L1605.1,529.3 L1605.6,529.5 L1606.1,529.7 L1606.6,530.0 L1607.1,530.2 L1607.6,530.5 L1608.1,530.7 L1608.6,530.9 L1609.1,531.2 L1609.6,531.4 L1610.1,531.6 L1610.6,531.7 L1611.1,531.9 L1611.6,532.0 L1612.1,532.1 L1612.6,532.3 L1613.1,532.3 L1613.6,532.4 L1614.1,532.5 L1614.6,532.6 L1615.1,532.6 L1615.6,532.7 L1616.1,532.7 L1616.6,532.7 L1617.1,532.7 L1617.6,532.7 L1618.1,532.6 L1618.6,532.6 L1619.1,532.5 L1619.6,532.4 L1620.1,532.3 L1620.6,532.2 L1621.1,532.1 L1621.6,531.9 L1622.1,531.8 L1622.6,531.6 L1623.1,531.4 L1623.6,531.2 L1624.1,531.0 L1624.6,530.7 L1625.1,530.4 L1625.6,530.1 L1626.1,529.8 L1626.6,529.4 L1627.1,529.0 L1627.6,528.6 L1628.1,528.1 L1628.6,527.6 L1629.1,527.1 L1629.6,526.6 L1630.1,526.0 L1630.6,525.4 L1631.1,524.8 L1631.6,524.2 L1632.1,523.6 L1632.6,523.0 L1633.1,522.4 L1633.6,521.7 L1634.1,521.1 L1634.6,520.5 L1635.1,519.9 L1635.6,519.2 L1636.1,518.5 L1636.6,517.9 L1637.1,517.2 L1637.6,516.5 L1638.1,515.8 L1638.6,515.1 L1639.1,514.4 L1639.6,513.7 L1640.1,513.1 L1640.6,512.4 L1641.1,511.8 L1641.6,511.1 L1642.1,510.5 L1642.6,509.9 L1643.1,509.2 L1643.6,508.6 L1644.1,507.9 L1644.6,507.3 L1645.1,506.7 L1645.6,506.1 L1646.1,505.5 L1646.6,504.9 L1647.1,504.3 L1647.6,503.8 L1648.1,503.3 L1648.6,502.9 L1649.1,502.4 L1649.6,502.0 L1650.1,501.7 L1650.6,501.3 L1651.1,501.0 L1651.6,500.7 L1652.1,500.5 L1652.6,500.2 L1653.1,500.0 L1653.6,499.8 L1654.1,499.6 L1654.6,499.4 L1655.1,499.2 L1655.6,499.1 L1656.1,498.9 L1656.6,498.7 L1657.1,498.6 L1657.6,498.4 L1658.1,498.2 L1658.6,498.1 L1659.1,498.0 L1659.6,497.8 L1660.1,497.7 L1660.6,497.6 L1661.1,497.5 L1661.6,497.4 L1662.1,497.3 L1662.6,497.2 L1663.1,497.1 L1663.6,497.1 L1664.1,497.0 L1664.6,497.0 L1665.1,497.0 L1665.6,497.0 L1666.1,497.0 L1666.6,497.1 L1667.1,497.1 L1667.6,497.2 L1668.1,497.3 L1668.6,497.4 L1669.1,497.5 L1669.6,497.6 L1670.1,497.7 L1670.6,497.8 L1671.1,498.0 L1671.6,498.1 L1672.1,498.2 L1672.6,498.4 L1673.1,498.5 L1673.6,498.6 L1674.1,498.8 L1674.6,498.9 L1675.1,499.0 L1675.6,499.2 L1676.1,499.3 L1676.6,499.4 L1677.1,499.6 L1677.6,499.7 L1678.1,499.8 L1678.6,500.0 L1679.1,500.1 L1679.6,500.3 L1680.1,500.4 L1680.6,500.6 L1681.1,500.8 L1681.6,500.9 L1682.1,501.1 L1682.6,501.3 L1683.1,501.4 L1683.6,501.6 L1684.1,501.8 L1684.6,502.0 L1685.1,502.2 L1685.6,502.3 L1686.1,502.5 L1686.6,502.7 L1687.1,502.9 L1687.6,503.1 L1688.1,503.3 L1688.6,503.4 L1689.1,503.6 L1689.6,503.8 L1690.1,504.0 L1690.6,504.2 L1691.1,504.4 L1691.6,504.7 L1692.1,504.9 L1692.6,505.1 L1693.1,505.3 L1693.6,505.5 L1694.1,505.8 L1694.6,506.0 L1695.1,506.3 L1695.6,506.5 L1696.1,506.8 L1696.6,507.1 L1697.1,507.3 L1697.6,507.6 L1698.1,507.9 L1698.6,508.3 L1699.1,508.6 L1699.6,508.9 L1700.1,509.3 L1700.6,509.6 L1701.1,510.0 L1701.6,510.3 L1702.1,510.7 L1702.6,511.0 L1703.1,511.4 L1703.6,511.8 L1704.1,512.1 L1704.6,512.5 L1705.1,512.8 L1705.6,513.2 L1706.1,513.6 L1706.6,513.9 L1707.1,514.3 L1707.6,514.6 L1708.1,514.9 L1708.6,515.2 L1709.1,515.6 L1709.6,515.9 L1710.1,516.2 L1710.6,516.5 L1711.1,516.8 L1711.6,517.1 L1712.1,517.4 L1712.6,517.7 L1713.1,518.0 L1713.6,518.2 L1714.1,518.5 L1714.6,518.8 L1715.1,519.1 L1715.6,519.4 L1716.1,519.7 L1716.6,519.9 L1717.1,520.2 L1717.6,520.5 L1718.1,520.7 L1718.6,521.0 L1719.1,521.3 L1719.6,521.5 L1720.1,521.8 L1720.6,522.0 L1721.1,522.3 L1721.6,522.5 L1722.1,522.8 L1722.6,523.0 L1723.1,523.3 L1723.6,523.5 L1724.1,523.7 L1724.6,523.9 L1725.1,524.1 L1725.6,524.3 L1726.1,524.5 L1726.6,524.7 L1727.1,524.9 L1727.6,525.1 L1728.1,525.3 L1728.6,525.5 L1729.1,525.7 L1729.6,525.9 L1730.1,526.1 L1730.6,526.3 L1731.1,526.6 L1731.6,526.8 L1732.1,527.0 L1732.6,527.3 L1733.1,527.5 L1733.6,527.8 L1734.1,528.1 L1734.6,528.3 L1735.1,528.6 L1735.6,528.9 L1736.1,529.2 L1736.6,529.5 L1737.1,529.8 L1737.6,530.0 L1738.1,530.3 L1738.6,530.6 L1739.1,530.9 L1739.6,531.3 L1740.1,531.6 L1740.6,531.9 L1741.1,532.2 L1741.6,532.5 L1742.1,532.9 L1742.6,533.2 L1743.1,533.6 L1743.6,533.9 L1744.1,534.3 L1744.6,534.7 L1745.1,535.1 L1745.6,535.5 L1746.1,535.9 L1746.6,536.3 L1747.1,536.8 L1747.6,537.2 L1748.1,537.7 L1748.6,538.2 L1749.1,538.7 L1749.6,539.2 L1750.1,539.7 L1750.6,540.3 L1751.1,540.8 L1751.6,541.4 L1752.1,541.9 L1752.6,542.5 L1753.1,543.1 L1753.6,543.7 L1754.1,544.4 L1754.6,545.0 L1755.1,545.6 L1755.6,546.3 L1756.1,547.0 L1756.6,547.6 L1757.1,548.3 L1757.6,549.0 L1758.1,549.8 L1758.6,550.5 L1759.1,551.3 L1759.6,552.0 L1760.1,552.9 L1760.6,553.7 L1761.1,554.5 L1761.6,555.4 L1762.1,556.3 L1762.6,557.3 L1763.1,558.2 L1763.6,559.2 L1764.1,560.2 L1764.6,561.2 L1765.1,562.3 L1765.6,563.4 L1766.1,564.5 L1766.6,565.6 L1767.1,566.8 L1767.6,567.9 L1768.1,569.1 L1768.6,570.3 L1769.1,571.5 L1769.6,572.8 L1770.1,574.0 L1770.6,575.3 L1771.1,576.5 L1771.6,577.8 L1772.1,579.0 L1772.6,580.3 L1773.1,581.6 L1773.6,582.9 L1774.1,584.2 L1774.6,585.5 L1775.1,586.9 L1775.6,588.2 L1776.1,589.6 L1776.6,590.9 L1777.1,592.3 L1777.6,593.7 L1778.1,595.0 L1778.6,596.4 L1779.1,597.8 L1779.6,599.2 L1780.1,600.6 L1780.6,602.0 L1781.1,603.4 L1781.6,604.9 L1782.1,606.4 L1782.6,607.8 L1783.1,609.2 L1783.6,610.7 L1784.1,612.0 L1784.6,613.4 L1785.1,614.6 L1785.6,615.8 L1786.1,616.9 L1786.6,617.9 L1787.1,618.8 L1787.6,619.6 L1788.1,620.2 L1788.6,620.8 L1789.1,621.4 L1789.6,621.8 L1790.1,622.2 L1790.6,622.6 L1791.1,622.8 L1791.6,623.1 L1792.1,623.2 L1792.6,623.2 L1793.1,623.3 L1793.6,623.2 L1794.1,623.1 L1794.6,622.9 L1795.1,622.4 L1795.6,621.5 L1796.1,620.4 L1796.6,618.9 L1797.1,617.1 L1797.6,615.2 L1798.1,613.3 L1798.6,611.4 L1799.1,609.7 L1799.6,607.9 L1800.1,606.2 L1800.6,604.4 L1801.1,602.7 L1801.6,601.0 L1802.1,599.4 L1802.6,597.9 L1803.1,596.6 L1803.6,595.4 L1804.1,594.3 L1804.6,593.3 L1805.1,592.5 L1805.6,591.7 L1806.1,591.1 L1806.6,590.6 L1807.1,590.3 L1807.6,590.2 L1808.1,590.3 L1808.6,590.4 L1809.1,590.5 L1809.6,590.7 L1810.1,591.0 L1810.6,591.2 L1811.1,591.5 L1811.6,591.8 L1812.1,592.1 L1812.6,592.4 L1813.1,592.7 L1813.6,592.9 L1814.1,593.2 L1814.6,593.5 L1815.1,593.8 L1815.6,594.1 L1816.1,594.3 L1816.6,594.5 L1817.1,594.8 L1817.6,595.0 L1818.1,595.3 L1818.6,595.5 L1819.1,595.7 L1819.6,596.0 L1820.1,596.2 L1820.6,596.5 L1821.1,596.7 L1821.6,596.9 L1822.1,597.1 L1822.6,597.3 L1823.1,597.5 L1823.6,597.7 L1824.1,597.9 L1824.6,598.1 L1825.1,598.3 L1825.6,598.5 L1826.1,598.6 L1826.6,598.8 L1827.1,598.9 L1827.6,599.1 L1828.1,599.2 L1828.6,599.4 L1829.1,599.5 L1829.6,599.6 L1830.1,599.8 L1830.6,599.9 L1831.1,600.0 L1831.6,600.1 L1832.1,600.2 L1832.6,600.3 L1833.1,600.4 L1833.6,600.5 L1834.1,600.6 L1834.6,600.7 L1835.1,600.8 L1835.6,600.9 L1836.1,601.0 L1836.6,601.0 L1837.1,601.1 L1837.6,601.1 L1838.1,601.2 L1838.6,601.2 L1839.1,601.3 L1839.6,601.3 L1840.1,601.3 L1840.6,601.3 L1841.1,601.3 L1841.6,601.3 L1842.1,601.3 L1842.6,601.2 L1843.1,601.2 L1843.6,601.2 L1844.1,601.1 L1844.6,601.1 L1845.1,601.0 L1845.6,601.0 L1846.1,600.9 L1846.6,600.9 L1847.1,600.8 L1847.6,600.7 L1848.1,600.6 L1848.6,600.6 L1849.1,600.5 L1849.6,600.4 L1850.1,600.3 L1850.6,600.2 L1851.1,600.1 L1851.6,600.0 L1852.1,599.9 L1852.6,599.7 L1853.1,599.6 L1853.6,599.5 L1854.1,599.3 L1854.6,599.2 L1855.1,599.0 L1855.6,598.8 L1856.1,598.7 L1856.6,598.5 L1857.1,598.3 L1857.6,598.2 L1858.1,598.0 L1858.6,597.8 L1859.1,597.6 L1859.6,597.4 L1860.1,597.2 L1860.6,597.0 L1861.1,596.9 L1861.6,596.7 L1862.1,596.5 L1862.6,596.3 L1862.8,596.2"/>
<text class="bd" transform="translate(1165.5,508.8) scale(0.983,1)">BH-2.0</text>
<text class="dt" transform="translate(1776.8,518.0)">DTA (µV)</text>
<text class="an" transform="translate(1209.3,891.8) scale(0.955,1)">71°C</text>
<text class="an" transform="translate(1296.4,900.0) scale(0.955,1)">135°C</text>
<text class="an" transform="translate(1580.2,567.0) scale(0.955,1)">628°C</text>
<text class="an" transform="translate(1759.1,658.8) scale(0.955,1)">885°C</text>
<text class="ex" text-anchor="middle" transform="translate(2022.4,682.5) scale(0.965,1) rotate(-90)">EXO</text>
<path d="M2042.5,746.2 V624.8" stroke="#000" stroke-width="4.1" stroke-linecap="round" fill="none"/>
<path d="M2042.5,606.7 L2048.0,626.8 L2037.0,626.8 Z" fill="#000" stroke="#000" stroke-width="3.4" stroke-linejoin="round"/>
<text class="ax" text-anchor="middle" style="font-size:42.3px" transform="translate(1088.6,730.9) scale(0.965,1) rotate(-90)">Mass Loss (%)</text>
</g>
<g id="p6">
<rect class="f" x="1153.60" y="918.25" width="775.60" height="453.50"/>
<path class="t" d="M1218.23,918.25 v10.30 M1282.87,918.25 v5.60 M1347.50,918.25 v10.30 M1412.13,918.25 v5.60 M1476.77,918.25 v10.30 M1541.40,918.25 v5.60 M1606.03,918.25 v10.30 M1670.67,918.25 v5.60 M1735.30,918.25 v10.30 M1799.93,918.25 v5.60 M1864.57,918.25 v10.30 M1153.60,1371.75 v5.60 M1218.23,1371.75 v10.30 M1282.87,1371.75 v5.60 M1347.50,1371.75 v10.30 M1412.13,1371.75 v5.60 M1476.77,1371.75 v10.30 M1541.40,1371.75 v5.60 M1606.03,1371.75 v10.30 M1670.67,1371.75 v5.60 M1735.30,1371.75 v10.30 M1799.93,1371.75 v5.60 M1864.57,1371.75 v10.30 M1929.20,1371.75 v5.60 M1153.60,1371.75 h-5.60 M1153.60,1345.07 h-10.30 M1153.60,1318.40 h-5.60 M1153.60,1291.72 h-10.30 M1153.60,1265.04 h-5.60 M1153.60,1238.37 h-10.30 M1153.60,1211.69 h-5.60 M1153.60,1185.01 h-10.30 M1153.60,1158.34 h-5.60 M1153.60,1131.66 h-10.30 M1153.60,1104.99 h-5.60 M1153.60,1078.31 h-10.30 M1153.60,1051.63 h-5.60 M1153.60,1024.96 h-10.30 M1153.60,998.28 h-5.60 M1153.60,971.60 h-10.30 M1153.60,944.93 h-5.60 M1929.20,1371.75 h10.30 M1929.20,1326.40 h5.60 M1929.20,1281.05 h10.30 M1929.20,1235.70 h5.60 M1929.20,1190.35 h10.30 M1929.20,1145.00 h5.60 M1929.20,1099.65 h10.30 M1929.20,1054.30 h5.60 M1929.20,1008.95 h10.30 M1929.20,963.60 h5.60 M1929.20,918.25 h10.30"/>
<text class="tk" text-anchor="end" style="font-size:31px" transform="translate(1136.4,926.2) scale(0.940,1)">1</text>
<text class="tk" text-anchor="end" style="font-size:31px" transform="translate(1136.4,979.6) scale(0.940,1)">0</text>
<text class="tk" text-anchor="end" style="font-size:31px" transform="translate(1136.4,1033.0) scale(0.940,1)">-1</text>
<text class="tk" text-anchor="end" style="font-size:31px" transform="translate(1136.4,1086.3) scale(0.940,1)">-2</text>
<text class="tk" text-anchor="end" style="font-size:31px" transform="translate(1136.4,1139.7) scale(0.940,1)">-3</text>
<text class="tk" text-anchor="end" style="font-size:31px" transform="translate(1136.4,1193.0) scale(0.940,1)">-4</text>
<text class="tk" text-anchor="end" style="font-size:31px" transform="translate(1136.4,1246.4) scale(0.940,1)">-5</text>
<text class="tk" text-anchor="end" style="font-size:31px" transform="translate(1136.4,1299.7) scale(0.940,1)">-6</text>
<text class="tk" text-anchor="end" style="font-size:31px" transform="translate(1136.4,1353.1) scale(0.940,1)">-7</text>
<text class="tk" style="font-size:29.6px" transform="translate(1947.1,1016.4) scale(0.940,1)">5</text>
<text class="tk" style="font-size:29.6px" transform="translate(1947.1,1107.1) scale(0.940,1)">0</text>
<text class="tk" style="font-size:29.6px" transform="translate(1947.1,1197.8) scale(0.940,1)">-5</text>
<text class="tk" style="font-size:29.6px" transform="translate(1947.1,1288.5) scale(0.940,1)">-10</text>
<text class="tk" style="font-size:29.6px" transform="translate(1947.1,1379.2) scale(0.940,1)">-15</text>
<text class="tk" text-anchor="middle" style="font-size:32.9px" transform="translate(1218.8,1412.5) scale(0.967,1)">0</text>
<text class="tk" text-anchor="middle" style="font-size:32.9px" transform="translate(1348.1,1412.5) scale(0.967,1)">200</text>
<text class="tk" text-anchor="middle" style="font-size:32.9px" transform="translate(1477.4,1412.5) scale(0.967,1)">400</text>
<text class="tk" text-anchor="middle" style="font-size:32.9px" transform="translate(1606.6,1412.5) scale(0.967,1)">600</text>
<text class="tk" text-anchor="middle" style="font-size:32.9px" transform="translate(1735.9,1412.5) scale(0.967,1)">800</text>
<text class="tk" text-anchor="middle" style="font-size:32.9px" transform="translate(1865.2,1412.5) scale(0.967,1)">1000</text>
<text class="ax" text-anchor="middle" transform="translate(1556.2,1466.4)">Temperature (°C)</text>
<path class="c" d="M1236.0,972.0 L1238.0,972.1 L1240.0,972.2 L1242.0,972.3 L1244.0,972.4 L1246.0,972.6 L1248.0,972.7 L1250.0,973.0 L1252.0,973.2 L1254.0,973.5 L1256.0,973.8 L1258.0,974.2 L1260.0,974.6 L1262.0,975.1 L1264.0,975.6 L1266.0,976.2 L1268.0,976.9 L1270.0,977.6 L1272.0,978.5 L1274.0,979.4 L1276.0,980.4 L1278.0,981.5 L1280.0,982.7 L1282.0,984.0 L1284.0,985.5 L1286.0,987.2 L1288.0,988.9 L1290.0,990.8 L1292.0,992.8 L1294.0,994.9 L1296.0,997.1 L1298.0,999.4 L1300.0,1001.7 L1302.0,1004.0 L1304.0,1006.4 L1306.0,1008.9 L1308.0,1011.4 L1310.0,1013.9 L1312.0,1016.5 L1314.0,1019.0 L1316.0,1021.6 L1318.0,1024.2 L1320.0,1026.7 L1322.0,1029.1 L1324.0,1031.5 L1326.0,1033.8 L1328.0,1036.0 L1330.0,1038.2 L1332.0,1040.3 L1334.0,1042.3 L1336.0,1044.3 L1338.0,1046.2 L1340.0,1048.0 L1342.0,1049.8 L1344.0,1051.5 L1346.0,1053.1 L1348.0,1054.7 L1350.0,1056.2 L1352.0,1057.7 L1354.0,1059.1 L1356.0,1060.4 L1358.0,1061.8 L1360.0,1063.1 L1362.0,1064.3 L1364.0,1065.5 L1366.0,1066.7 L1368.0,1067.9 L1370.0,1069.0 L1372.0,1070.1 L1374.0,1071.2 L1376.0,1072.2 L1378.0,1073.3 L1380.0,1074.3 L1382.0,1075.3 L1384.0,1076.4 L1386.0,1077.5 L1388.0,1078.7 L1390.0,1079.8 L1392.0,1081.0 L1394.0,1082.2 L1396.0,1083.4 L1398.0,1084.6 L1400.0,1085.8 L1402.0,1087.0 L1404.0,1088.2 L1406.0,1089.4 L1408.0,1090.6 L1410.0,1091.8 L1412.0,1093.0 L1414.0,1094.2 L1416.0,1095.4 L1418.0,1096.6 L1420.0,1097.8 L1422.0,1099.0 L1424.0,1100.2 L1426.0,1101.4 L1428.0,1102.6 L1430.0,1103.8 L1432.0,1105.0 L1434.0,1106.2 L1436.0,1107.4 L1438.0,1108.6 L1440.0,1109.8 L1442.0,1111.0 L1444.0,1112.3 L1446.0,1113.5 L1448.0,1114.7 L1450.0,1115.9 L1452.0,1117.1 L1454.0,1118.4 L1456.0,1119.6 L1458.0,1120.9 L1460.0,1122.2 L1462.0,1123.5 L1464.0,1124.9 L1466.0,1126.2 L1468.0,1127.6 L1470.0,1129.0 L1472.0,1130.4 L1474.0,1131.8 L1476.0,1133.2 L1478.0,1134.7 L1480.0,1136.1 L1482.0,1137.6 L1484.0,1139.1 L1486.0,1140.6 L1488.0,1142.1 L1490.0,1143.7 L1492.0,1145.2 L1494.0,1146.8 L1496.0,1148.4 L1498.0,1150.0 L1500.0,1151.6 L1502.0,1153.3 L1504.0,1154.9 L1506.0,1156.5 L1508.0,1158.1 L1510.0,1159.7 L1512.0,1161.3 L1514.0,1162.9 L1516.0,1164.5 L1518.0,1166.0 L1520.0,1167.6 L1522.0,1169.3 L1524.0,1170.9 L1526.0,1172.5 L1528.0,1174.2 L1530.0,1175.9 L1532.0,1177.5 L1534.0,1179.2 L1536.0,1180.8 L1538.0,1182.4 L1540.0,1183.9 L1542.0,1185.5 L1544.0,1187.1 L1546.0,1188.6 L1548.0,1190.2 L1550.0,1191.8 L1552.0,1193.4 L1554.0,1195.0 L1556.0,1196.6 L1558.0,1198.2 L1560.0,1199.8 L1562.0,1201.5 L1564.0,1203.1 L1566.0,1204.7 L1568.0,1206.4 L1570.0,1208.1 L1572.0,1209.8 L1574.0,1211.6 L1576.0,1213.4 L1578.0,1215.3 L1580.0,1217.3 L1582.0,1219.3 L1584.0,1221.4 L1586.0,1223.5 L1588.0,1225.8 L1590.0,1228.0 L1592.0,1230.3 L1594.0,1232.6 L1596.0,1235.0 L1598.0,1237.3 L1600.0,1239.7 L1602.0,1242.1 L1604.0,1244.5 L1606.0,1246.9 L1608.0,1249.3 L1610.0,1251.7 L1612.0,1254.1 L1614.0,1256.6 L1616.0,1258.9 L1618.0,1261.3 L1620.0,1263.6 L1622.0,1265.9 L1624.0,1268.1 L1626.0,1270.2 L1628.0,1272.2 L1630.0,1274.2 L1632.0,1276.1 L1634.0,1277.9 L1636.0,1279.7 L1638.0,1281.3 L1640.0,1282.8 L1642.0,1284.3 L1644.0,1285.6 L1646.0,1286.9 L1648.0,1288.1 L1650.0,1289.2 L1652.0,1290.2 L1654.0,1291.2 L1656.0,1292.1 L1658.0,1293.0 L1660.0,1293.8 L1662.0,1294.7 L1664.0,1295.4 L1666.0,1296.2 L1668.0,1296.9 L1670.0,1297.6 L1672.0,1298.3 L1674.0,1298.9 L1676.0,1299.5 L1678.0,1300.1 L1680.0,1300.6 L1682.0,1301.2 L1684.0,1301.7 L1686.0,1302.2 L1688.0,1302.7 L1690.0,1303.2 L1692.0,1303.7 L1694.0,1304.1 L1696.0,1304.6 L1698.0,1305.1 L1700.0,1305.6 L1702.0,1306.0 L1704.0,1306.5 L1706.0,1306.9 L1708.0,1307.4 L1710.0,1307.8 L1712.0,1308.2 L1714.0,1308.7 L1716.0,1309.1 L1718.0,1309.5 L1720.0,1309.9 L1722.0,1310.3 L1724.0,1310.7 L1726.0,1311.1 L1728.0,1311.5 L1730.0,1311.9 L1732.0,1312.3 L1734.0,1312.6 L1736.0,1313.0 L1738.0,1313.3 L1740.0,1313.7 L1742.0,1314.0 L1744.0,1314.3 L1746.0,1314.6 L1748.0,1314.9 L1750.0,1315.2 L1752.0,1315.5 L1754.0,1315.8 L1756.0,1316.0 L1758.0,1316.3 L1760.0,1316.5 L1762.0,1316.8 L1764.0,1317.0 L1766.0,1317.2 L1768.0,1317.4 L1770.0,1317.6 L1772.0,1317.8 L1774.0,1317.9 L1776.0,1318.1 L1778.0,1318.2 L1780.0,1318.3 L1782.0,1318.5 L1784.0,1318.6 L1786.0,1318.7 L1788.0,1318.8 L1790.0,1318.9 L1792.0,1319.0 L1794.0,1319.1 L1796.0,1319.2 L1798.0,1319.3 L1800.0,1319.4 L1802.0,1319.6 L1804.0,1319.7 L1806.0,1319.8 L1808.0,1319.9 L1810.0,1320.0 L1812.0,1320.1 L1814.0,1320.2 L1816.0,1320.3 L1818.0,1320.3 L1820.0,1320.4 L1822.0,1320.5 L1824.0,1320.6 L1826.0,1320.6 L1828.0,1320.7 L1830.0,1320.7 L1832.0,1320.8 L1834.0,1320.8 L1836.0,1320.8 L1838.0,1320.9 L1840.0,1320.9 L1842.0,1320.9 L1844.0,1321.0 L1846.0,1321.0 L1848.0,1321.0 L1850.0,1321.0 L1852.0,1321.0 L1854.0,1321.0 L1856.0,1321.0 L1858.0,1321.0 L1860.0,1321.0 L1862.0,1321.0 L1862.8,1321.0"/>
<path class="c" d="M1235.5,1110.5 L1236.0,1116.1 L1236.5,1121.7 L1237.0,1127.4 L1237.5,1133.0 L1238.0,1138.8 L1238.5,1144.5 L1239.0,1150.0 L1239.5,1155.1 L1240.0,1159.9 L1240.5,1164.8 L1241.0,1169.7 L1241.5,1174.8 L1242.0,1180.0 L1242.5,1185.1 L1243.0,1190.0 L1243.5,1194.6 L1244.0,1199.0 L1244.5,1203.2 L1245.0,1207.3 L1245.5,1211.2 L1246.0,1215.0 L1246.5,1218.7 L1247.0,1222.2 L1247.5,1225.6 L1248.0,1229.0 L1248.5,1232.2 L1249.0,1235.3 L1249.5,1238.3 L1250.0,1241.3 L1250.5,1244.1 L1251.0,1246.8 L1251.5,1249.4 L1252.0,1251.9 L1252.5,1254.3 L1253.0,1256.6 L1253.5,1258.9 L1254.0,1261.2 L1254.5,1263.4 L1255.0,1265.6 L1255.5,1267.8 L1256.0,1269.9 L1256.5,1271.9 L1257.0,1273.7 L1257.5,1275.5 L1258.0,1277.2 L1258.5,1278.8 L1259.0,1280.2 L1259.5,1281.6 L1260.0,1282.9 L1260.5,1284.1 L1261.0,1285.2 L1261.5,1286.2 L1262.0,1287.2 L1262.5,1288.1 L1263.0,1288.9 L1263.5,1289.7 L1264.0,1290.5 L1264.5,1291.2 L1265.0,1291.9 L1265.5,1292.5 L1266.0,1293.1 L1266.5,1293.7 L1267.0,1294.2 L1267.5,1294.7 L1268.0,1295.1 L1268.5,1295.5 L1269.0,1295.8 L1269.5,1296.1 L1270.0,1296.4 L1270.5,1296.7 L1271.0,1297.1 L1271.5,1297.4 L1272.0,1297.8 L1272.5,1298.1 L1273.0,1298.5 L1273.5,1298.8 L1274.0,1299.2 L1274.5,1299.5 L1275.0,1299.9 L1275.5,1300.2 L1276.0,1300.6 L1276.5,1301.0 L1277.0,1301.3 L1277.5,1301.7 L1278.0,1302.0 L1278.5,1302.3 L1279.0,1302.6 L1279.5,1302.9 L1280.0,1303.2 L1280.5,1303.5 L1281.0,1303.9 L1281.5,1304.2 L1282.0,1304.5 L1282.5,1304.9 L1283.0,1305.3 L1283.5,1305.7 L1284.0,1306.2 L1284.5,1306.8 L1285.0,1307.4 L1285.5,1308.1 L1286.0,1308.9 L1286.5,1309.7 L1287.0,1310.5 L1287.5,1311.3 L1288.0,1312.2 L1288.5,1313.0 L1289.0,1313.7 L1289.5,1314.4 L1290.0,1315.1 L1290.5,1315.8 L1291.0,1316.5 L1291.5,1317.2 L1292.0,1317.9 L1292.5,1318.6 L1293.0,1319.2 L1293.5,1319.9 L1294.0,1320.5 L1294.5,1321.1 L1295.0,1321.8 L1295.5,1322.4 L1296.0,1323.0 L1296.5,1323.6 L1297.0,1324.2 L1297.5,1324.7 L1298.0,1325.3 L1298.5,1325.8 L1299.0,1326.2 L1299.5,1326.6 L1300.0,1326.9 L1300.5,1327.1 L1301.0,1327.3 L1301.5,1327.4 L1302.0,1327.4 L1302.5,1327.4 L1303.0,1327.4 L1303.5,1327.3 L1304.0,1327.2 L1304.5,1327.1 L1305.0,1327.0 L1305.5,1326.8 L1306.0,1326.6 L1306.5,1326.3 L1307.0,1326.0 L1307.5,1325.6 L1308.0,1325.2 L1308.5,1324.8 L1309.0,1324.3 L1309.5,1323.8 L1310.0,1323.2 L1310.5,1322.6 L1311.0,1321.9 L1311.5,1321.2 L1312.0,1320.4 L1312.5,1319.5 L1313.0,1318.6 L1313.5,1317.5 L1314.0,1316.5 L1314.5,1315.3 L1315.0,1314.2 L1315.5,1313.0 L1316.0,1311.7 L1316.5,1310.5 L1317.0,1309.1 L1317.5,1307.8 L1318.0,1306.4 L1318.5,1305.0 L1319.0,1303.7 L1319.5,1302.3 L1320.0,1301.0 L1320.5,1299.6 L1321.0,1298.2 L1321.5,1296.8 L1322.0,1295.5 L1322.5,1294.2 L1323.0,1293.0 L1323.5,1291.8 L1324.0,1290.7 L1324.5,1289.6 L1325.0,1288.5 L1325.5,1287.4 L1326.0,1286.2 L1326.5,1284.9 L1327.0,1283.5 L1327.5,1282.0 L1328.0,1280.4 L1328.5,1278.9 L1329.0,1277.2 L1329.5,1275.6 L1330.0,1274.0 L1330.5,1272.4 L1331.0,1270.8 L1331.5,1269.2 L1332.0,1267.5 L1332.5,1265.9 L1333.0,1264.3 L1333.5,1262.7 L1334.0,1261.1 L1334.5,1259.5 L1335.0,1257.8 L1335.5,1256.2 L1336.0,1254.6 L1336.5,1253.0 L1337.0,1251.4 L1337.5,1249.8 L1338.0,1248.1 L1338.5,1246.5 L1339.0,1244.9 L1339.5,1243.3 L1340.0,1241.7 L1340.5,1240.1 L1341.0,1238.5 L1341.5,1236.9 L1342.0,1235.3 L1342.5,1233.7 L1343.0,1232.1 L1343.5,1230.5 L1344.0,1228.9 L1344.5,1227.3 L1345.0,1225.6 L1345.5,1224.0 L1346.0,1222.4 L1346.5,1220.8 L1347.0,1219.2 L1347.5,1217.6 L1348.0,1216.0 L1348.5,1214.4 L1349.0,1212.9 L1349.5,1211.3 L1350.0,1209.7 L1350.5,1208.2 L1351.0,1206.6 L1351.5,1205.1 L1352.0,1203.6 L1352.5,1202.0 L1353.0,1200.5 L1353.5,1199.0 L1354.0,1197.6 L1354.5,1196.1 L1355.0,1194.7 L1355.5,1193.2 L1356.0,1191.8 L1356.5,1190.4 L1357.0,1189.0 L1357.5,1187.6 L1358.0,1186.3 L1358.5,1185.0 L1359.0,1183.6 L1359.5,1182.3 L1360.0,1181.0 L1360.5,1179.8 L1361.0,1178.5 L1361.5,1177.3 L1362.0,1176.0 L1362.5,1174.8 L1363.0,1173.6 L1363.5,1172.4 L1364.0,1171.3 L1364.5,1170.1 L1365.0,1169.0 L1365.5,1167.8 L1366.0,1166.7 L1366.5,1165.6 L1367.0,1164.5 L1367.5,1163.4 L1368.0,1162.3 L1368.5,1161.2 L1369.0,1160.1 L1369.5,1159.1 L1370.0,1158.0 L1370.5,1157.0 L1371.0,1155.9 L1371.5,1154.9 L1372.0,1153.8 L1372.5,1152.8 L1373.0,1151.7 L1373.5,1150.7 L1374.0,1149.6 L1374.5,1148.5 L1375.0,1147.5 L1375.5,1146.4 L1376.0,1145.3 L1376.5,1144.2 L1377.0,1143.1 L1377.5,1142.0 L1378.0,1140.9 L1378.5,1139.8 L1379.0,1138.7 L1379.5,1137.6 L1380.0,1136.4 L1380.5,1135.3 L1381.0,1134.2 L1381.5,1133.1 L1382.0,1132.0 L1382.5,1130.9 L1383.0,1129.8 L1383.5,1128.7 L1384.0,1127.7 L1384.5,1126.6 L1385.0,1125.5 L1385.5,1124.5 L1386.0,1123.4 L1386.5,1122.3 L1387.0,1121.3 L1387.5,1120.3 L1388.0,1119.3 L1388.5,1118.3 L1389.0,1117.3 L1389.5,1116.3 L1390.0,1115.3 L1390.5,1114.4 L1391.0,1113.4 L1391.5,1112.5 L1392.0,1111.6 L1392.5,1110.7 L1393.0,1109.9 L1393.5,1109.0 L1394.0,1108.1 L1394.5,1107.3 L1395.0,1106.5 L1395.5,1105.6 L1396.0,1104.8 L1396.5,1104.0 L1397.0,1103.2 L1397.5,1102.4 L1398.0,1101.6 L1398.5,1100.8 L1399.0,1099.9 L1399.5,1099.1 L1400.0,1098.3 L1400.5,1097.5 L1401.0,1096.7 L1401.5,1095.9 L1402.0,1095.0 L1402.5,1094.2 L1403.0,1093.4 L1403.5,1092.5 L1404.0,1091.7 L1404.5,1090.9 L1405.0,1090.0 L1405.5,1089.2 L1406.0,1088.3 L1406.5,1087.5 L1407.0,1086.6 L1407.5,1085.8 L1408.0,1084.9 L1408.5,1084.1 L1409.0,1083.3 L1409.5,1082.4 L1410.0,1081.6 L1410.5,1080.8 L1411.0,1080.0 L1411.5,1079.2 L1412.0,1078.4 L1412.5,1077.6 L1413.0,1076.9 L1413.5,1076.1 L1414.0,1075.3 L1414.5,1074.6 L1415.0,1073.8 L1415.5,1073.1 L1416.0,1072.4 L1416.5,1071.7 L1417.0,1070.9 L1417.5,1070.2 L1418.0,1069.5 L1418.5,1068.8 L1419.0,1068.1 L1419.5,1067.4 L1420.0,1066.7 L1420.5,1066.0 L1421.0,1065.3 L1421.5,1064.6 L1422.0,1063.9 L1422.5,1063.2 L1423.0,1062.5 L1423.5,1061.8 L1424.0,1061.1 L1424.5,1060.4 L1425.0,1059.7 L1425.5,1059.0 L1426.0,1058.3 L1426.5,1057.6 L1427.0,1057.0 L1427.5,1056.3 L1428.0,1055.6 L1428.5,1055.0 L1429.0,1054.3 L1429.5,1053.7 L1430.0,1053.0 L1430.5,1052.4 L1431.0,1051.7 L1431.5,1051.1 L1432.0,1050.5 L1432.5,1049.9 L1433.0,1049.3 L1433.5,1048.7 L1434.0,1048.1 L1434.5,1047.5 L1435.0,1046.9 L1435.5,1046.3 L1436.0,1045.8 L1436.5,1045.2 L1437.0,1044.6 L1437.5,1044.1 L1438.0,1043.5 L1438.5,1042.9 L1439.0,1042.4 L1439.5,1041.8 L1440.0,1041.3 L1440.5,1040.8 L1441.0,1040.2 L1441.5,1039.7 L1442.0,1039.2 L1442.5,1038.6 L1443.0,1038.1 L1443.5,1037.6 L1444.0,1037.1 L1444.5,1036.6 L1445.0,1036.0 L1445.5,1035.5 L1446.0,1035.0 L1446.5,1034.5 L1447.0,1034.0 L1447.5,1033.5 L1448.0,1033.0 L1448.5,1032.5 L1449.0,1032.0 L1449.5,1031.5 L1450.0,1031.0 L1450.5,1030.5 L1451.0,1030.0 L1451.5,1029.5 L1452.0,1029.0 L1452.5,1028.5 L1453.0,1028.0 L1453.5,1027.5 L1454.0,1027.0 L1454.5,1026.5 L1455.0,1026.1 L1455.5,1025.6 L1456.0,1025.1 L1456.5,1024.7 L1457.0,1024.2 L1457.5,1023.8 L1458.0,1023.4 L1458.5,1022.9 L1459.0,1022.5 L1459.5,1022.1 L1460.0,1021.7 L1460.5,1021.3 L1461.0,1020.9 L1461.5,1020.5 L1462.0,1020.2 L1462.5,1019.8 L1463.0,1019.4 L1463.5,1019.1 L1464.0,1018.7 L1464.5,1018.3 L1465.0,1018.0 L1465.5,1017.7 L1466.0,1017.3 L1466.5,1017.0 L1467.0,1016.7 L1467.5,1016.3 L1468.0,1016.0 L1468.5,1015.7 L1469.0,1015.3 L1469.5,1015.0 L1470.0,1014.7 L1470.5,1014.4 L1471.0,1014.1 L1471.5,1013.7 L1472.0,1013.4 L1472.5,1013.1 L1473.0,1012.8 L1473.5,1012.5 L1474.0,1012.2 L1474.5,1011.9 L1475.0,1011.5 L1475.5,1011.2 L1476.0,1010.9 L1476.5,1010.6 L1477.0,1010.3 L1477.5,1010.0 L1478.0,1009.7 L1478.5,1009.4 L1479.0,1009.1 L1479.5,1008.8 L1480.0,1008.6 L1480.5,1008.3 L1481.0,1008.0 L1481.5,1007.7 L1482.0,1007.4 L1482.5,1007.2 L1483.0,1006.9 L1483.5,1006.6 L1484.0,1006.4 L1484.5,1006.1 L1485.0,1005.9 L1485.5,1005.6 L1486.0,1005.4 L1486.5,1005.2 L1487.0,1004.9 L1487.5,1004.7 L1488.0,1004.5 L1488.5,1004.2 L1489.0,1004.0 L1489.5,1003.8 L1490.0,1003.6 L1490.5,1003.4 L1491.0,1003.2 L1491.5,1003.0 L1492.0,1002.8 L1492.5,1002.6 L1493.0,1002.4 L1493.5,1002.2 L1494.0,1002.0 L1494.5,1001.8 L1495.0,1001.6 L1495.5,1001.4 L1496.0,1001.2 L1496.5,1001.0 L1497.0,1000.8 L1497.5,1000.7 L1498.0,1000.5 L1498.5,1000.3 L1499.0,1000.2 L1499.5,1000.0 L1500.0,999.8 L1500.5,999.6 L1501.0,999.5 L1501.5,999.3 L1502.0,999.2 L1502.5,999.0 L1503.0,998.9 L1503.5,998.7 L1504.0,998.5 L1504.5,998.4 L1505.0,998.2 L1505.5,998.1 L1506.0,997.9 L1506.5,997.8 L1507.0,997.6 L1507.5,997.5 L1508.0,997.3 L1508.5,997.2 L1509.0,997.0 L1509.5,996.8 L1510.0,996.7 L1510.5,996.5 L1511.0,996.4 L1511.5,996.2 L1512.0,996.0 L1512.5,995.9 L1513.0,995.7 L1513.5,995.6 L1514.0,995.4 L1514.5,995.2 L1515.0,995.1 L1515.5,994.9 L1516.0,994.7 L1516.5,994.6 L1517.0,994.4 L1517.5,994.2 L1518.0,994.1 L1518.5,993.9 L1519.0,993.7 L1519.5,993.5 L1520.0,993.3 L1520.5,993.1 L1521.0,992.9 L1521.5,992.7 L1522.0,992.5 L1522.5,992.2 L1523.0,992.0 L1523.5,991.8 L1524.0,991.5 L1524.5,991.2 L1525.0,990.9 L1525.5,990.6 L1526.0,990.3 L1526.5,990.0 L1527.0,989.7 L1527.5,989.4 L1528.0,989.0 L1528.5,988.7 L1529.0,988.4 L1529.5,988.0 L1530.0,987.6 L1530.5,987.3 L1531.0,986.9 L1531.5,986.6 L1532.0,986.2 L1532.5,985.8 L1533.0,985.5 L1533.5,985.1 L1534.0,984.7 L1534.5,984.4 L1535.0,984.0 L1535.5,983.7 L1536.0,983.3 L1536.5,983.0 L1537.0,982.7 L1537.5,982.3 L1538.0,982.0 L1538.5,981.6 L1539.0,981.3 L1539.5,981.0 L1540.0,980.6 L1540.5,980.3 L1541.0,979.9 L1541.5,979.6 L1542.0,979.3 L1542.5,978.9 L1543.0,978.6 L1543.5,978.3 L1544.0,978.0 L1544.5,977.7 L1545.0,977.4 L1545.5,977.1 L1546.0,976.8 L1546.5,976.5 L1547.0,976.2 L1547.5,976.0 L1548.0,975.7 L1548.5,975.5 L1549.0,975.2 L1549.5,975.0 L1550.0,974.8 L1550.5,974.6 L1551.0,974.4 L1551.5,974.2 L1552.0,974.0 L1552.5,973.8 L1553.0,973.6 L1553.5,973.5 L1554.0,973.3 L1554.5,973.2 L1555.0,973.0 L1555.5,972.9 L1556.0,972.7 L1556.5,972.6 L1557.0,972.4 L1557.5,972.3 L1558.0,972.2 L1558.5,972.0 L1559.0,971.9 L1559.5,971.8 L1560.0,971.8 L1560.5,971.7 L1561.0,971.6 L1561.5,971.6 L1562.0,971.5 L1562.5,971.5 L1563.0,971.5 L1563.5,971.5 L1564.0,971.5 L1564.5,971.5 L1565.0,971.6 L1565.5,971.6 L1566.0,971.6 L1566.5,971.7 L1567.0,971.7 L1567.5,971.8 L1568.0,971.9 L1568.5,972.0 L1569.0,972.0 L1569.5,972.1 L1570.0,972.2 L1570.5,972.3 L1571.0,972.4 L1571.5,972.5 L1572.0,972.6 L1572.5,972.8 L1573.0,972.9 L1573.5,973.0 L1574.0,973.1 L1574.5,973.2 L1575.0,973.3 L1575.5,973.4 L1576.0,973.6 L1576.5,973.7 L1577.0,973.8 L1577.5,974.0 L1578.0,974.1 L1578.5,974.3 L1579.0,974.4 L1579.5,974.6 L1580.0,974.8 L1580.5,975.0 L1581.0,975.2 L1581.5,975.5 L1582.0,975.7 L1582.5,976.0 L1583.0,976.3 L1583.5,976.6 L1584.0,976.9 L1584.5,977.3 L1585.0,977.6 L1585.5,978.0 L1586.0,978.4 L1586.5,978.8 L1587.0,979.2 L1587.5,979.6 L1588.0,980.1 L1588.5,980.5 L1589.0,980.9 L1589.5,981.4 L1590.0,981.8 L1590.5,982.3 L1591.0,982.7 L1591.5,983.1 L1592.0,983.6 L1592.5,984.0 L1593.0,984.4 L1593.5,984.9 L1594.0,985.3 L1594.5,985.8 L1595.0,986.2 L1595.5,986.7 L1596.0,987.1 L1596.5,987.6 L1597.0,988.1 L1597.5,988.5 L1598.0,989.0 L1598.5,989.5 L1599.0,989.9 L1599.5,990.4 L1600.0,990.8 L1600.5,991.3 L1601.0,991.7 L1601.5,992.2 L1602.0,992.6 L1602.5,993.0 L1603.0,993.4 L1603.5,993.8 L1604.0,994.2 L1604.5,994.6 L1605.0,995.0 L1605.5,995.4 L1606.0,995.8 L1606.5,996.2 L1607.0,996.6 L1607.5,997.0 L1608.0,997.3 L1608.5,997.7 L1609.0,998.0 L1609.5,998.3 L1610.0,998.7 L1610.5,999.0 L1611.0,999.2 L1611.5,999.5 L1612.0,999.7 L1612.5,1000.0 L1613.0,1000.2 L1613.5,1000.4 L1614.0,1000.6 L1614.5,1000.7 L1615.0,1000.9 L1615.5,1001.0 L1616.0,1001.1 L1616.5,1001.2 L1617.0,1001.3 L1617.5,1001.3 L1618.0,1001.3 L1618.5,1001.3 L1619.0,1001.2 L1619.5,1001.2 L1620.0,1001.1 L1620.5,1001.0 L1621.0,1000.9 L1621.5,1000.8 L1622.0,1000.6 L1622.5,1000.4 L1623.0,1000.2 L1623.5,1000.0 L1624.0,999.7 L1624.5,999.4 L1625.0,999.1 L1625.5,998.8 L1626.0,998.4 L1626.5,998.0 L1627.0,997.6 L1627.5,997.1 L1628.0,996.6 L1628.5,996.0 L1629.0,995.5 L1629.5,994.9 L1630.0,994.3 L1630.5,993.6 L1631.0,993.0 L1631.5,992.3 L1632.0,991.6 L1632.5,990.9 L1633.0,990.2 L1633.5,989.5 L1634.0,988.8 L1634.5,988.0 L1635.0,987.2 L1635.5,986.4 L1636.0,985.6 L1636.5,984.7 L1637.0,983.8 L1637.5,982.9 L1638.0,982.1 L1638.5,981.2 L1639.0,980.3 L1639.5,979.4 L1640.0,978.6 L1640.5,977.8 L1641.0,977.0 L1641.5,976.2 L1642.0,975.5 L1642.5,974.8 L1643.0,974.1 L1643.5,973.3 L1644.0,972.6 L1644.5,971.9 L1645.0,971.3 L1645.5,970.6 L1646.0,970.0 L1646.5,969.4 L1647.0,968.9 L1647.5,968.4 L1648.0,967.9 L1648.5,967.4 L1649.0,967.0 L1649.5,966.6 L1650.0,966.2 L1650.5,965.9 L1651.0,965.6 L1651.5,965.2 L1652.0,964.9 L1652.5,964.7 L1653.0,964.4 L1653.5,964.1 L1654.0,963.9 L1654.5,963.7 L1655.0,963.5 L1655.5,963.2 L1656.0,963.0 L1656.5,962.9 L1657.0,962.7 L1657.5,962.5 L1658.0,962.3 L1658.5,962.2 L1659.0,962.0 L1659.5,961.9 L1660.0,961.7 L1660.5,961.6 L1661.0,961.4 L1661.5,961.3 L1662.0,961.2 L1662.5,961.1 L1663.0,961.0 L1663.5,960.9 L1664.0,960.8 L1664.5,960.7 L1665.0,960.6 L1665.5,960.5 L1666.0,960.5 L1666.5,960.4 L1667.0,960.3 L1667.5,960.3 L1668.0,960.2 L1668.5,960.2 L1669.0,960.1 L1669.5,960.1 L1670.0,960.1 L1670.5,960.0 L1671.0,960.0 L1671.5,960.0 L1672.0,960.0 L1672.5,960.0 L1673.0,960.0 L1673.5,960.0 L1674.0,960.0 L1674.5,960.0 L1675.0,960.1 L1675.5,960.1 L1676.0,960.2 L1676.5,960.2 L1677.0,960.3 L1677.5,960.3 L1678.0,960.4 L1678.5,960.4 L1679.0,960.5 L1679.5,960.6 L1680.0,960.6 L1680.5,960.7 L1681.0,960.8 L1681.5,960.9 L1682.0,960.9 L1682.5,961.0 L1683.0,961.1 L1683.5,961.2 L1684.0,961.2 L1684.5,961.3 L1685.0,961.4 L1685.5,961.5 L1686.0,961.6 L1686.5,961.6 L1687.0,961.7 L1687.5,961.8 L1688.0,961.9 L1688.5,962.0 L1689.0,962.0 L1689.5,962.1 L1690.0,962.2 L1690.5,962.3 L1691.0,962.4 L1691.5,962.5 L1692.0,962.6 L1692.5,962.7 L1693.0,962.8 L1693.5,963.0 L1694.0,963.1 L1694.5,963.2 L1695.0,963.3 L1695.5,963.5 L1696.0,963.6 L1696.5,963.8 L1697.0,963.9 L1697.5,964.1 L1698.0,964.2 L1698.5,964.4 L1699.0,964.6 L1699.5,964.8 L1700.0,965.0 L1700.5,965.2 L1701.0,965.4 L1701.5,965.6 L1702.0,965.8 L1702.5,966.1 L1703.0,966.3 L1703.5,966.5 L1704.0,966.7 L1704.5,966.9 L1705.0,967.2 L1705.5,967.4 L1706.0,967.6 L1706.5,967.8 L1707.0,968.0 L1707.5,968.2 L1708.0,968.4 L1708.5,968.6 L1709.0,968.8 L1709.5,968.9 L1710.0,969.1 L1710.5,969.3 L1711.0,969.4 L1711.5,969.6 L1712.0,969.8 L1712.5,969.9 L1713.0,970.1 L1713.5,970.2 L1714.0,970.4 L1714.5,970.6 L1715.0,970.7 L1715.5,970.9 L1716.0,971.0 L1716.5,971.1 L1717.0,971.3 L1717.5,971.4 L1718.0,971.6 L1718.5,971.7 L1719.0,971.8 L1719.5,972.0 L1720.0,972.1 L1720.5,972.2 L1721.0,972.4 L1721.5,972.5 L1722.0,972.6 L1722.5,972.7 L1723.0,972.8 L1723.5,972.9 L1724.0,973.0 L1724.5,973.1 L1725.0,973.2 L1725.5,973.3 L1726.0,973.4 L1726.5,973.5 L1727.0,973.6 L1727.5,973.7 L1728.0,973.7 L1728.5,973.8 L1729.0,973.9 L1729.5,974.0 L1730.0,974.1 L1730.5,974.2 L1731.0,974.3 L1731.5,974.4 L1732.0,974.5 L1732.5,974.6 L1733.0,974.7 L1733.5,974.9 L1734.0,975.0 L1734.5,975.1 L1735.0,975.3 L1735.5,975.4 L1736.0,975.6 L1736.5,975.8 L1737.0,975.9 L1737.5,976.1 L1738.0,976.3 L1738.5,976.4 L1739.0,976.6 L1739.5,976.8 L1740.0,977.0 L1740.5,977.2 L1741.0,977.3 L1741.5,977.5 L1742.0,977.7 L1742.5,977.9 L1743.0,978.1 L1743.5,978.3 L1744.0,978.5 L1744.5,978.7 L1745.0,978.9 L1745.5,979.1 L1746.0,979.3 L1746.5,979.5 L1747.0,979.7 L1747.5,979.9 L1748.0,980.1 L1748.5,980.3 L1749.0,980.5 L1749.5,980.6 L1750.0,980.8 L1750.5,981.0 L1751.0,981.2 L1751.5,981.4 L1752.0,981.6 L1752.5,981.8 L1753.0,982.0 L1753.5,982.2 L1754.0,982.4 L1754.5,982.6 L1755.0,982.8 L1755.5,983.0 L1756.0,983.3 L1756.5,983.5 L1757.0,983.8 L1757.5,984.1 L1758.0,984.3 L1758.5,984.7 L1759.0,985.0 L1759.5,985.4 L1760.0,985.8 L1760.5,986.2 L1761.0,986.6 L1761.5,987.0 L1762.0,987.5 L1762.5,988.1 L1763.0,988.6 L1763.5,989.2 L1764.0,989.9 L1764.5,990.6 L1765.0,991.4 L1765.5,992.1 L1766.0,992.9 L1766.5,993.8 L1767.0,994.6 L1767.5,995.5 L1768.0,996.5 L1768.5,997.5 L1769.0,998.5 L1769.5,999.5 L1770.0,1000.6 L1770.5,1001.7 L1771.0,1002.9 L1771.5,1004.0 L1772.0,1005.2 L1772.5,1006.4 L1773.0,1007.6 L1773.5,1008.8 L1774.0,1010.0 L1774.5,1011.2 L1775.0,1012.5 L1775.5,1013.8 L1776.0,1015.1 L1776.5,1016.4 L1777.0,1017.8 L1777.5,1019.2 L1778.0,1020.6 L1778.5,1021.9 L1779.0,1023.3 L1779.5,1024.7 L1780.0,1026.0 L1780.5,1027.4 L1781.0,1028.7 L1781.5,1030.0 L1782.0,1031.3 L1782.5,1032.6 L1783.0,1033.9 L1783.5,1035.2 L1784.0,1036.5 L1784.5,1037.7 L1785.0,1039.0 L1785.5,1040.2 L1786.0,1041.4 L1786.5,1042.5 L1787.0,1043.6 L1787.5,1044.5 L1788.0,1045.4 L1788.5,1046.2 L1789.0,1047.0 L1789.5,1047.7 L1790.0,1048.3 L1790.5,1048.8 L1791.0,1049.2 L1791.5,1049.5 L1792.0,1049.8 L1792.5,1049.9 L1793.0,1050.0 L1793.5,1050.0 L1794.0,1049.8 L1794.5,1049.5 L1795.0,1049.0 L1795.5,1048.2 L1796.0,1047.3 L1796.5,1046.2 L1797.0,1044.9 L1797.5,1043.3 L1798.0,1041.5 L1798.5,1039.6 L1799.0,1037.5 L1799.5,1035.5 L1800.0,1033.5 L1800.5,1031.5 L1801.0,1029.5 L1801.5,1027.4 L1802.0,1025.3 L1802.5,1023.2 L1803.0,1021.2 L1803.5,1019.3 L1804.0,1017.5 L1804.5,1015.8 L1805.0,1014.2 L1805.5,1012.6 L1806.0,1011.2 L1806.5,1009.9 L1807.0,1008.8 L1807.5,1007.9 L1808.0,1007.1 L1808.5,1006.5 L1809.0,1006.0 L1809.5,1005.6 L1810.0,1005.3 L1810.5,1005.0 L1811.0,1004.9 L1811.5,1004.7 L1812.0,1004.6 L1812.5,1004.5 L1813.0,1004.5 L1813.5,1004.4 L1814.0,1004.4 L1814.5,1004.5 L1815.0,1004.5 L1815.5,1004.6 L1816.0,1004.7 L1816.5,1004.7 L1817.0,1004.8 L1817.5,1004.9 L1818.0,1005.0 L1818.5,1005.1 L1819.0,1005.2 L1819.5,1005.3 L1820.0,1005.3 L1820.5,1005.4 L1821.0,1005.5 L1821.5,1005.5 L1822.0,1005.5 L1822.5,1005.6 L1823.0,1005.6 L1823.5,1005.6 L1824.0,1005.7 L1824.5,1005.7 L1825.0,1005.7 L1825.5,1005.8 L1826.0,1005.8 L1826.5,1005.8 L1827.0,1005.7 L1827.5,1005.7 L1828.0,1005.7 L1828.5,1005.6 L1829.0,1005.5 L1829.5,1005.4 L1830.0,1005.3 L1830.5,1005.2 L1831.0,1005.0 L1831.5,1004.9 L1832.0,1004.7 L1832.5,1004.5 L1833.0,1004.3 L1833.5,1004.1 L1834.0,1003.9 L1834.5,1003.6 L1835.0,1003.3 L1835.5,1003.1 L1836.0,1002.8 L1836.5,1002.5 L1837.0,1002.2 L1837.5,1001.9 L1838.0,1001.5 L1838.5,1001.2 L1839.0,1000.8 L1839.5,1000.5 L1840.0,1000.1 L1840.5,999.7 L1841.0,999.4 L1841.5,999.0 L1842.0,998.6 L1842.5,998.2 L1843.0,997.8 L1843.5,997.4 L1844.0,997.0 L1844.5,996.6 L1845.0,996.2 L1845.5,995.8 L1846.0,995.4 L1846.5,995.0 L1847.0,994.6 L1847.5,994.2 L1848.0,993.8 L1848.5,993.3 L1849.0,992.9 L1849.5,992.5 L1850.0,992.1 L1850.5,991.6 L1851.0,991.2 L1851.5,990.8 L1852.0,990.3 L1852.5,989.9 L1853.0,989.4 L1853.5,989.0 L1854.0,988.5 L1854.5,988.1 L1855.0,987.6 L1855.5,987.2 L1856.0,986.7 L1856.5,986.2 L1857.0,985.8 L1857.5,985.3 L1858.0,984.8 L1858.5,984.3 L1859.0,983.8 L1859.5,983.3 L1860.0,982.8 L1860.5,982.3 L1861.0,981.8 L1861.5,981.3 L1862.0,980.8 L1862.5,980.3 L1862.8,980.0"/>
<text class="bd" transform="translate(1174.8,961.2) scale(0.983,1)">BH-2.5</text>
<text class="dt" transform="translate(1776.8,960.0)">DTA (µV)</text>
<text class="an" transform="translate(1203.3,1327.2) scale(0.955,1)">71°C</text>
<text class="an" transform="translate(1281.4,1361.8) scale(0.955,1)">134°C</text>
<text class="an" transform="translate(1576.5,1041.2) scale(0.955,1)">623°C</text>
<text class="an" transform="translate(1753.6,1085.5) scale(0.955,1)">889°C</text>
<text class="ex" text-anchor="middle" transform="translate(2022.4,1139.7) scale(0.965,1) rotate(-90)">EXO</text>
<path d="M2038.6,1209.5 V1088.3" stroke="#000" stroke-width="4.1" stroke-linecap="round" fill="none"/>
<path d="M2038.6,1070.2 L2044.1,1090.3 L2033.1,1090.3 Z" fill="#000" stroke="#000" stroke-width="3.4" stroke-linejoin="round"/>
<text class="ax" text-anchor="middle" style="font-size:42.3px" transform="translate(1094.2,1170.2) scale(0.965,1) rotate(-90)">Mass Loss (%)</text>
</g>
</svg></body></html>
